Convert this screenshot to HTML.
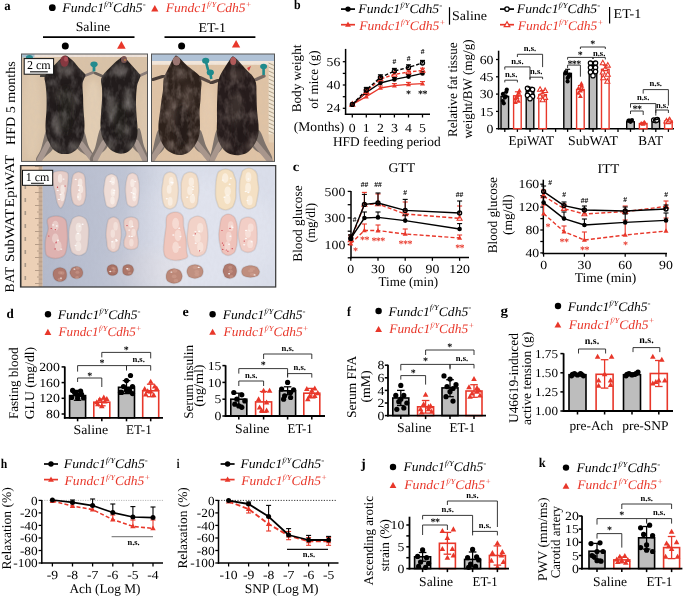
<!DOCTYPE html>
<html><head><meta charset="utf-8"><title>Figure</title>
<style>
html,body{margin:0;padding:0;background:#fff;overflow:hidden;}
svg{display:block;font-family:"Liberation Serif", serif;text-rendering:geometricPrecision;will-change:transform;}
</style></head><body>
<svg width="685" height="597" viewBox="0 0 685 597">
<rect width="685" height="597" fill="#fff"/>
<defs><filter id="bl0" x="-20%" y="-20%" width="140%" height="140%"><feGaussianBlur stdDeviation="0.4"/></filter><filter id="fur" x="0" y="0" width="100%" height="100%"><feTurbulence type="fractalNoise" baseFrequency="0.35 0.2" numOctaves="2" seed="3"/><feColorMatrix type="matrix" values="0 0 0 0 0.55  0 0 0 0 0.52  0 0 0 0 0.5  0 0 0 1.6 -0.55"/></filter><filter id="furg" x="0" y="0" width="100%" height="100%"><feTurbulence type="fractalNoise" baseFrequency="0.16 0.09" numOctaves="3" seed="5"/><feColorMatrix type="matrix" values="0 0 0 0 0.45  0 0 0 0 0.42  0 0 0 0 0.41  0 0 0 2.2 -0.9"/></filter><filter id="furb" x="0" y="0" width="100%" height="100%"><feTurbulence type="fractalNoise" baseFrequency="0.16 0.09" numOctaves="3" seed="9"/><feColorMatrix type="matrix" values="0 0 0 0 0.5  0 0 0 0 0.4  0 0 0 0 0.36  0 0 0 2.2 -0.9"/></filter><linearGradient id="lg3" x1="0" y1="0" x2="1" y2="0"><stop offset="0" stop-color="#1a2850" stop-opacity="0.2"/><stop offset="0.35" stop-color="#1a2850" stop-opacity="0.14"/><stop offset="0.5" stop-color="#1a2850" stop-opacity="0.04"/><stop offset="0.6" stop-color="#1a2850" stop-opacity="0"/></linearGradient><filter id="bl1" x="-20%" y="-20%" width="140%" height="140%"><feGaussianBlur stdDeviation="0.7"/></filter><filter id="bl2" x="-50%" y="-50%" width="200%" height="200%"><feGaussianBlur stdDeviation="2.5"/></filter><filter id="bl3" x="-50%" y="-50%" width="200%" height="200%"><feGaussianBlur stdDeviation="8"/></filter></defs>
<text x="4.32" y="9.90" font-size="13.5" textLength="6.37" lengthAdjust="spacingAndGlyphs" font-weight="bold">a</text>
<circle cx="52.3" cy="7.7" r="3.4" fill="#000"/>
<text x="62.3" y="12.4" font-size="13" font-style="italic" fill="#000" textLength="83.4" lengthAdjust="spacingAndGlyphs">Fundc1<tspan font-size="7.8" dy="-5.2">f/Y</tspan><tspan dy="5.2">Cdh5</tspan><tspan font-size="8.6" dy="-5.2">-</tspan></text>
<polygon points="154.8,5.0 151.2,11.5 158.4,11.5" fill="#e8372a"/>
<text x="165.7" y="12.4" font-size="13" font-style="italic" fill="#e8372a" textLength="85.9" lengthAdjust="spacingAndGlyphs">Fundc1<tspan font-size="7.8" dy="-5.2">f/Y</tspan><tspan dy="5.2">Cdh5</tspan><tspan font-size="8.6" dy="-5.2">+</tspan></text>
<text x="75.70" y="31.40" font-size="13.3" textLength="34.47" lengthAdjust="spacingAndGlyphs">Saline</text>
<text x="198.48" y="32.40" font-size="13.3" textLength="27.43" lengthAdjust="spacingAndGlyphs">ET-1</text>
<line x1="43.0" y1="37.2" x2="134.5" y2="37.2" stroke="#000" stroke-width="1.7"/>
<line x1="164.5" y1="37.2" x2="255.4" y2="37.2" stroke="#000" stroke-width="1.7"/>
<circle cx="65.3" cy="46.0" r="3.5" fill="#000"/>
<polygon points="121.4,41.0 117.1,48.7 125.7,48.7" fill="#e8372a"/>
<circle cx="181.6" cy="46.0" r="3.5" fill="#000"/>
<polygon points="236.1,40.1 231.9,47.6 240.2,47.6" fill="#e8372a"/>
<text x="14.70" y="145.02" font-size="13.3" textLength="83.82" lengthAdjust="spacingAndGlyphs" transform="rotate(-90 14.70 145.02)">HFD 5 months</text>
<text x="14.50" y="207.46" font-size="13.3" textLength="52.67" lengthAdjust="spacingAndGlyphs" transform="rotate(-90 14.50 207.46)">EpiWAT</text>
<text x="14.50" y="261.96" font-size="13.3" textLength="53.20" lengthAdjust="spacingAndGlyphs" transform="rotate(-90 14.50 261.96)">SubWAT</text>
<text x="14.50" y="292.41" font-size="13.3" textLength="25.60" lengthAdjust="spacingAndGlyphs" transform="rotate(-90 14.50 292.41)">BAT</text>
<clipPath id="cp1"><rect x="21.5" y="54" width="126" height="107.4"/></clipPath>
<clipPath id="cp2"><rect x="151.5" y="54" width="123" height="107.4"/></clipPath>
<clipPath id="cp3"><rect x="20.5" y="165.6" width="255.2" height="121.4"/></clipPath>
<g clip-path="url(#cp1)">
<rect x="21.5" y="54.0" width="126.0" height="107.4" fill="#d9c2a7" />
<ellipse cx="93" cy="120" rx="10" ry="40" fill="#e2cdb3" filter="url(#bl2)"/>
<ellipse cx="32" cy="115" rx="9" ry="45" fill="#dfc9ae" filter="url(#bl2)"/>
<ellipse cx="144" cy="120" rx="4" ry="40" fill="#dec8ae" filter="url(#bl2)"/>
<rect x="21.5" y="54.0" width="126.0" height="3.0" fill="#efe4dc" />
<rect x="21.5" y="54.0" width="13.0" height="3.5" fill="#a8c0d0" />
<rect x="21.5" y="54" width="126" height="107.4" filter="url(#fur)" opacity="0.12"/>
<path d="M47.0,130.0 C49.2,129.5 54.3,141.5 54.0,146.0 C53.7,150.5 47.5,154.4 45.0,157.0 C42.5,159.6 40.5,161.2 39.0,161.5 C37.5,161.8 35.7,161.1 36.0,159.0 C36.3,156.9 39.2,153.8 41.0,149.0 C42.8,144.2 44.8,130.5 47.0,130.0 Z" fill="#7e736c" filter="url(#bl1)"/>
<path d="M83.0,130.0 C80.8,129.8 75.3,141.7 76.0,146.0 C76.7,150.3 84.0,153.4 87.0,156.0 C90.0,158.6 92.5,161.2 94.0,161.5 C95.5,161.8 96.8,160.4 96.0,158.0 C95.2,155.6 91.2,151.7 89.0,147.0 C86.8,142.3 85.2,130.2 83.0,130.0 Z" fill="#7e736c" filter="url(#bl1)"/>
<line x1="48" y1="144" x2="39" y2="161" stroke="#a89890" stroke-width="5.5" stroke-linecap="round" filter="url(#bl1)"/>
<line x1="81" y1="144" x2="93" y2="160" stroke="#a89890" stroke-width="5.5" stroke-linecap="round" filter="url(#bl1)"/>
<line x1="65" y1="150" x2="65" y2="162" stroke="#a8968c" stroke-width="3" filter="url(#bl1)"/>
<line x1="84" y1="76" x2="93" y2="72.5" stroke="#8a7d78" stroke-width="2.6" stroke-linecap="round" filter="url(#bl1)"/>
<line x1="46" y1="75.5" x2="41" y2="76.5" stroke="#4a4440" stroke-width="3" stroke-linecap="round" filter="url(#bl1)"/>
<path d="M65.8,55.5 C66.7,55.5 67.5,56.3 68.5,57.0 C69.5,57.7 70.4,58.5 71.5,59.5 C72.6,60.5 73.8,61.6 75.0,63.0 C76.2,64.4 77.7,66.5 79.0,68.0 C80.3,69.5 81.9,70.8 83.0,72.0 C84.1,73.2 85.3,73.8 85.5,75.0 C85.7,76.2 84.5,77.5 84.0,79.0 C83.5,80.5 82.7,81.3 82.5,84.0 C82.3,86.7 82.8,90.7 83.0,95.0 C83.2,99.3 83.2,105.0 83.5,110.0 C83.8,115.0 84.5,120.7 84.5,125.0 C84.5,129.3 84.2,132.8 83.5,136.0 C82.8,139.2 81.2,141.7 80.0,144.0 C78.8,146.3 77.7,148.4 76.0,150.0 C74.3,151.6 71.8,152.8 70.0,153.5 C68.2,154.2 66.7,154.0 65.0,154.0 C63.3,154.0 61.8,154.2 60.0,153.5 C58.2,152.8 55.7,151.6 54.0,150.0 C52.3,148.4 51.2,146.3 50.0,144.0 C48.8,141.7 47.2,139.2 46.5,136.0 C45.8,132.8 45.5,129.3 45.5,125.0 C45.5,120.7 46.3,115.0 46.5,110.0 C46.7,105.0 46.7,99.3 46.5,95.0 C46.3,90.7 45.8,86.8 45.5,84.0 C45.2,81.2 44.4,79.7 44.5,78.0 C44.6,76.3 45.2,75.2 46.0,74.0 C46.8,72.8 47.8,71.8 49.0,70.5 C50.2,69.2 51.7,67.8 53.0,66.5 C54.3,65.2 55.8,63.8 57.0,62.5 C58.2,61.2 59.5,59.9 60.5,59.0 C61.5,58.1 62.1,57.6 63.0,57.0 C63.9,56.4 64.9,55.5 65.8,55.5 Z" fill="#221d1b" filter="url(#bl1)"/>
<clipPath id="mc36"><path d="M65.8,55.5 C66.7,55.5 67.5,56.3 68.5,57.0 C69.5,57.7 70.4,58.5 71.5,59.5 C72.6,60.5 73.8,61.6 75.0,63.0 C76.2,64.4 77.7,66.5 79.0,68.0 C80.3,69.5 81.9,70.8 83.0,72.0 C84.1,73.2 85.3,73.8 85.5,75.0 C85.7,76.2 84.5,77.5 84.0,79.0 C83.5,80.5 82.7,81.3 82.5,84.0 C82.3,86.7 82.8,90.7 83.0,95.0 C83.2,99.3 83.2,105.0 83.5,110.0 C83.8,115.0 84.5,120.7 84.5,125.0 C84.5,129.3 84.2,132.8 83.5,136.0 C82.8,139.2 81.2,141.7 80.0,144.0 C78.8,146.3 77.7,148.4 76.0,150.0 C74.3,151.6 71.8,152.8 70.0,153.5 C68.2,154.2 66.7,154.0 65.0,154.0 C63.3,154.0 61.8,154.2 60.0,153.5 C58.2,152.8 55.7,151.6 54.0,150.0 C52.3,148.4 51.2,146.3 50.0,144.0 C48.8,141.7 47.2,139.2 46.5,136.0 C45.8,132.8 45.5,129.3 45.5,125.0 C45.5,120.7 46.3,115.0 46.5,110.0 C46.7,105.0 46.7,99.3 46.5,95.0 C46.3,90.7 45.8,86.8 45.5,84.0 C45.2,81.2 44.4,79.7 44.5,78.0 C44.6,76.3 45.2,75.2 46.0,74.0 C46.8,72.8 47.8,71.8 49.0,70.5 C50.2,69.2 51.7,67.8 53.0,66.5 C54.3,65.2 55.8,63.8 57.0,62.5 C58.2,61.2 59.5,59.9 60.5,59.0 C61.5,58.1 62.1,57.6 63.0,57.0 C63.9,56.4 64.9,55.5 65.8,55.5 Z"/></clipPath><g clip-path="url(#mc36)">
<ellipse cx="58" cy="125" rx="5" ry="10" fill="#8a8480" opacity="0.6" filter="url(#bl2)"/>
<ellipse cx="66" cy="70" rx="9" ry="6" fill="#6a6460" opacity="0.6" filter="url(#bl2)"/>
<ellipse cx="72" cy="100" rx="5" ry="9" fill="#6a6460" opacity="0.5" filter="url(#bl2)"/>
<ellipse cx="60" cy="95" rx="6" ry="6" fill="#5a5450" opacity="0.5" filter="url(#bl2)"/>
<ellipse cx="55" cy="146" rx="5" ry="4" fill="#7a746e" opacity="0.6" filter="url(#bl2)"/>
<ellipse cx="76" cy="146" rx="5" ry="4" fill="#7a746e" opacity="0.6" filter="url(#bl2)"/>
<ellipse cx="66" cy="110" rx="8" ry="25" fill="#1e1a18" opacity="0.5" filter="url(#bl2)"/>
<rect x="0" y="0" width="300" height="170" filter="url(#furg)" opacity="0.3"/>
</g>
<path d="M101.0,128.0 C103.2,127.5 108.5,140.3 108.0,145.0 C107.5,149.7 100.7,153.2 98.0,156.0 C95.3,158.8 93.3,161.2 92.0,161.5 C90.7,161.8 89.5,160.2 90.0,158.0 C90.5,155.8 93.2,153.0 95.0,148.0 C96.8,143.0 98.8,128.5 101.0,128.0 Z" fill="#7e736c" filter="url(#bl1)"/>
<path d="M139.0,128.0 C137.0,127.8 131.5,140.3 132.0,145.0 C132.5,149.7 139.5,153.2 142.0,156.0 C144.5,158.8 145.8,161.2 147.0,161.5 C148.2,161.8 149.5,160.6 149.0,158.0 C148.5,155.4 145.7,151.0 144.0,146.0 C142.3,141.0 141.0,128.2 139.0,128.0 Z" fill="#7e736c" filter="url(#bl1)"/>
<line x1="104" y1="143" x2="95" y2="160" stroke="#a89890" stroke-width="5.5" stroke-linecap="round" filter="url(#bl1)"/>
<line x1="136" y1="142" x2="145" y2="160" stroke="#a89890" stroke-width="5.5" stroke-linecap="round" filter="url(#bl1)"/>
<line x1="121" y1="150" x2="121" y2="162" stroke="#a8968c" stroke-width="3" filter="url(#bl1)"/>
<line x1="139" y1="76" x2="148" y2="72" stroke="#8a7d78" stroke-width="2.6" stroke-linecap="round" filter="url(#bl1)"/>
<line x1="102" y1="76" x2="95" y2="73" stroke="#6a605a" stroke-width="2.6" stroke-linecap="round" filter="url(#bl1)"/>
<path d="M123.0,57.0 C123.8,57.1 124.6,57.8 125.5,58.5 C126.4,59.2 127.4,60.3 128.5,61.5 C129.6,62.7 130.8,64.1 132.0,65.5 C133.2,66.9 134.8,68.6 136.0,70.0 C137.2,71.4 138.8,73.0 139.5,74.0 C140.2,75.0 140.6,75.0 140.5,76.0 C140.4,77.0 139.6,78.3 139.0,80.0 C138.4,81.7 137.5,82.7 137.0,86.0 C136.5,89.3 136.1,95.2 136.0,100.0 C135.9,104.8 136.2,110.3 136.5,115.0 C136.8,119.7 137.4,124.3 137.5,128.0 C137.6,131.7 137.6,134.2 137.0,137.0 C136.4,139.8 135.3,142.7 134.0,145.0 C132.7,147.3 130.8,149.6 129.0,151.0 C127.2,152.4 125.0,153.2 123.0,153.5 C121.0,153.8 119.0,153.6 117.0,153.0 C115.0,152.4 112.8,151.5 111.0,150.0 C109.2,148.5 107.5,146.3 106.0,144.0 C104.5,141.7 102.9,139.0 102.0,136.0 C101.1,133.0 100.7,129.7 100.5,126.0 C100.3,122.3 100.8,118.3 101.0,114.0 C101.2,109.7 101.8,104.3 102.0,100.0 C102.2,95.7 102.2,91.3 102.0,88.0 C101.8,84.7 100.8,82.2 101.0,80.0 C101.2,77.8 102.1,76.5 103.0,75.0 C103.9,73.5 105.2,72.3 106.5,71.0 C107.8,69.7 109.2,68.3 110.5,67.0 C111.8,65.7 113.2,64.2 114.5,63.0 C115.8,61.8 117.0,60.8 118.0,60.0 C119.0,59.2 119.7,58.5 120.5,58.0 C121.3,57.5 122.2,56.9 123.0,57.0 Z" fill="#241e1c" filter="url(#bl1)"/>
<clipPath id="mc54"><path d="M123.0,57.0 C123.8,57.1 124.6,57.8 125.5,58.5 C126.4,59.2 127.4,60.3 128.5,61.5 C129.6,62.7 130.8,64.1 132.0,65.5 C133.2,66.9 134.8,68.6 136.0,70.0 C137.2,71.4 138.8,73.0 139.5,74.0 C140.2,75.0 140.6,75.0 140.5,76.0 C140.4,77.0 139.6,78.3 139.0,80.0 C138.4,81.7 137.5,82.7 137.0,86.0 C136.5,89.3 136.1,95.2 136.0,100.0 C135.9,104.8 136.2,110.3 136.5,115.0 C136.8,119.7 137.4,124.3 137.5,128.0 C137.6,131.7 137.6,134.2 137.0,137.0 C136.4,139.8 135.3,142.7 134.0,145.0 C132.7,147.3 130.8,149.6 129.0,151.0 C127.2,152.4 125.0,153.2 123.0,153.5 C121.0,153.8 119.0,153.6 117.0,153.0 C115.0,152.4 112.8,151.5 111.0,150.0 C109.2,148.5 107.5,146.3 106.0,144.0 C104.5,141.7 102.9,139.0 102.0,136.0 C101.1,133.0 100.7,129.7 100.5,126.0 C100.3,122.3 100.8,118.3 101.0,114.0 C101.2,109.7 101.8,104.3 102.0,100.0 C102.2,95.7 102.2,91.3 102.0,88.0 C101.8,84.7 100.8,82.2 101.0,80.0 C101.2,77.8 102.1,76.5 103.0,75.0 C103.9,73.5 105.2,72.3 106.5,71.0 C107.8,69.7 109.2,68.3 110.5,67.0 C111.8,65.7 113.2,64.2 114.5,63.0 C115.8,61.8 117.0,60.8 118.0,60.0 C119.0,59.2 119.7,58.5 120.5,58.0 C121.3,57.5 122.2,56.9 123.0,57.0 Z"/></clipPath><g clip-path="url(#mc54)">
<ellipse cx="112" cy="110" rx="4" ry="14" fill="#8a8580" opacity="0.6" filter="url(#bl2)"/>
<ellipse cx="128" cy="100" rx="4" ry="12" fill="#8a8580" opacity="0.55" filter="url(#bl2)"/>
<ellipse cx="120" cy="70" rx="8" ry="6" fill="#6a6460" opacity="0.6" filter="url(#bl2)"/>
<ellipse cx="125" cy="130" rx="5" ry="6" fill="#7a7470" opacity="0.5" filter="url(#bl2)"/>
<ellipse cx="110" cy="146" rx="5" ry="4" fill="#7a746e" opacity="0.6" filter="url(#bl2)"/>
<ellipse cx="131" cy="146" rx="5" ry="4" fill="#7a746e" opacity="0.6" filter="url(#bl2)"/>
<ellipse cx="120" cy="120" rx="7" ry="20" fill="#1e1a18" opacity="0.45" filter="url(#bl2)"/>
<rect x="0" y="0" width="300" height="170" filter="url(#furg)" opacity="0.33"/>
</g>
<ellipse cx="64.5" cy="61.2" rx="4.2" ry="5.6" fill="#86393f" filter="url(#bl1)"/><ellipse cx="66" cy="59" rx="2" ry="2.5" fill="#b05058" filter="url(#bl1)"/>
<ellipse cx="124" cy="59.5" rx="3" ry="3.5" fill="#7a5452" filter="url(#bl1)"/><ellipse cx="125" cy="60" rx="0.9" ry="1" fill="#c08040"/>
<ellipse cx="94" cy="64.2" rx="3.6" ry="2.8" fill="#238a8e"/><rect x="92.6" y="64.5" width="2.8" height="7" fill="#238a8e"/>
<ellipse cx="29.4" cy="57.6" rx="3.5" ry="2.5" fill="#2a8a90"/>
</g>
<rect x="21.5" y="54.0" width="126.0" height="107.4" fill="none" stroke="#555" stroke-width="1" />
<rect x="24.2" y="58.6" width="29.4" height="15.6" fill="#fff" stroke="#111" stroke-width="1" />
<text x="38.8" y="69.2" font-size="12" text-anchor="middle">2 cm</text>
<line x1="30.0" y1="71.8" x2="47.8" y2="71.8" stroke="#222" stroke-width="1.2"/>
<g clip-path="url(#cp2)">
<rect x="151.5" y="54.0" width="123.0" height="107.4" fill="#dfc3a5" />
<rect x="151.5" y="54.0" width="123.0" height="7.2" fill="#b0c2d6" />
<rect x="151.5" y="61.0" width="123.0" height="3.8" fill="#f2e6da" />
<ellipse cx="208" cy="125" rx="8" ry="40" fill="#e5caad" filter="url(#bl2)"/>
<rect x="151.5" y="63" width="123" height="98" filter="url(#fur)" opacity="0.12"/>
<rect x="268.6" y="62.5" width="5.5" height="72.0" fill="#efe4d2" />
<rect x="268.6" y="134.5" width="5.5" height="8.0" fill="#e6d4bc" opacity="0.7"/>
<line x1="268.6" y1="63.0" x2="274.1" y2="65.5" stroke="#a89880" stroke-width="0.9"/>
<line x1="268.6" y1="67.0" x2="274.1" y2="69.5" stroke="#a89880" stroke-width="0.9"/>
<line x1="268.6" y1="71.0" x2="274.1" y2="73.5" stroke="#a89880" stroke-width="0.9"/>
<line x1="268.6" y1="75.0" x2="274.1" y2="77.5" stroke="#a89880" stroke-width="0.9"/>
<line x1="268.6" y1="79.0" x2="274.1" y2="81.5" stroke="#a89880" stroke-width="0.9"/>
<line x1="268.6" y1="83.0" x2="274.1" y2="85.5" stroke="#a89880" stroke-width="0.9"/>
<line x1="268.6" y1="87.0" x2="274.1" y2="89.5" stroke="#a89880" stroke-width="0.9"/>
<line x1="268.6" y1="91.0" x2="274.1" y2="93.5" stroke="#a89880" stroke-width="0.9"/>
<line x1="268.6" y1="95.0" x2="274.1" y2="97.5" stroke="#a89880" stroke-width="0.9"/>
<line x1="268.6" y1="99.0" x2="274.1" y2="101.5" stroke="#a89880" stroke-width="0.9"/>
<line x1="268.6" y1="103.0" x2="274.1" y2="105.5" stroke="#a89880" stroke-width="0.9"/>
<line x1="268.6" y1="107.0" x2="274.1" y2="109.5" stroke="#a89880" stroke-width="0.9"/>
<line x1="268.6" y1="111.0" x2="274.1" y2="113.5" stroke="#a89880" stroke-width="0.9"/>
<line x1="268.6" y1="115.0" x2="274.1" y2="117.5" stroke="#a89880" stroke-width="0.9"/>
<line x1="268.6" y1="119.0" x2="274.1" y2="121.5" stroke="#a89880" stroke-width="0.9"/>
<line x1="268.6" y1="123.0" x2="274.1" y2="125.5" stroke="#a89880" stroke-width="0.9"/>
<line x1="268.6" y1="127.0" x2="274.1" y2="129.5" stroke="#a89880" stroke-width="0.9"/>
<line x1="268.6" y1="131.0" x2="274.1" y2="133.5" stroke="#a89880" stroke-width="0.9"/>
<path d="M158.5,130.0 C160.5,129.5 165.4,141.5 165.0,146.0 C164.6,150.5 158.3,154.4 156.0,157.0 C153.7,159.6 151.8,161.3 151.0,161.5 C150.2,161.7 150.7,160.1 151.0,158.0 C151.3,155.9 151.8,153.7 153.0,149.0 C154.2,144.3 156.5,130.5 158.5,130.0 Z" fill="#7e736c" filter="url(#bl1)"/>
<path d="M200.0,130.0 C198.0,130.0 193.2,141.7 194.0,146.0 C194.8,150.3 202.2,153.5 205.0,156.0 C207.8,158.5 209.8,160.8 211.0,161.0 C212.2,161.2 212.8,159.5 212.0,157.0 C211.2,154.5 208.0,150.5 206.0,146.0 C204.0,141.5 202.0,130.0 200.0,130.0 Z" fill="#7e736c" filter="url(#bl1)"/>
<line x1="162" y1="144" x2="152" y2="160" stroke="#a8968c" stroke-width="5.5" stroke-linecap="round" filter="url(#bl1)"/>
<line x1="197" y1="144" x2="209" y2="159" stroke="#a8968c" stroke-width="5.5" stroke-linecap="round" filter="url(#bl1)"/>
<line x1="180" y1="152" x2="180" y2="162" stroke="#a8968c" stroke-width="3" filter="url(#bl1)"/>
<line x1="164" y1="76" x2="153" y2="79.6" stroke="#4a3e38" stroke-width="3.2" stroke-linecap="round" filter="url(#bl1)"/>
<line x1="199" y1="77" x2="209" y2="81.6" stroke="#5a4c44" stroke-width="3.2" stroke-linecap="round" filter="url(#bl1)"/>
<path d="M176.0,55.5 C176.8,55.6 177.9,56.6 179.0,57.5 C180.1,58.4 181.2,59.7 182.5,61.0 C183.8,62.3 185.4,64.1 187.0,65.5 C188.6,66.9 190.4,68.2 192.0,69.5 C193.6,70.8 195.2,71.8 196.5,73.0 C197.8,74.2 199.2,75.0 200.0,76.5 C200.8,78.0 201.3,79.8 201.5,82.0 C201.7,84.2 201.2,87.0 201.0,90.0 C200.8,93.0 200.8,96.3 200.5,100.0 C200.2,103.7 199.6,107.8 199.5,112.0 C199.4,116.2 200.1,121.0 200.0,125.0 C199.9,129.0 199.8,132.7 199.0,136.0 C198.2,139.3 196.7,142.3 195.0,145.0 C193.3,147.7 191.3,150.3 189.0,152.0 C186.7,153.7 183.5,154.7 181.0,155.0 C178.5,155.3 176.3,154.8 174.0,154.0 C171.7,153.2 169.0,151.8 167.0,150.0 C165.0,148.2 163.3,145.7 162.0,143.0 C160.7,140.3 159.6,137.2 159.0,134.0 C158.4,130.8 158.3,127.7 158.5,124.0 C158.7,120.3 159.5,116.0 160.0,112.0 C160.5,108.0 161.0,103.7 161.5,100.0 C162.0,96.3 162.7,93.3 163.0,90.0 C163.3,86.7 163.2,82.5 163.5,80.0 C163.8,77.5 164.3,76.7 165.0,75.0 C165.7,73.3 166.7,71.7 167.5,70.0 C168.3,68.3 169.2,66.7 170.0,65.0 C170.8,63.3 171.8,61.3 172.5,60.0 C173.2,58.7 173.9,57.8 174.5,57.0 C175.1,56.2 175.2,55.4 176.0,55.5 Z" fill="#2e241f" filter="url(#bl1)"/>
<clipPath id="mc107"><path d="M176.0,55.5 C176.8,55.6 177.9,56.6 179.0,57.5 C180.1,58.4 181.2,59.7 182.5,61.0 C183.8,62.3 185.4,64.1 187.0,65.5 C188.6,66.9 190.4,68.2 192.0,69.5 C193.6,70.8 195.2,71.8 196.5,73.0 C197.8,74.2 199.2,75.0 200.0,76.5 C200.8,78.0 201.3,79.8 201.5,82.0 C201.7,84.2 201.2,87.0 201.0,90.0 C200.8,93.0 200.8,96.3 200.5,100.0 C200.2,103.7 199.6,107.8 199.5,112.0 C199.4,116.2 200.1,121.0 200.0,125.0 C199.9,129.0 199.8,132.7 199.0,136.0 C198.2,139.3 196.7,142.3 195.0,145.0 C193.3,147.7 191.3,150.3 189.0,152.0 C186.7,153.7 183.5,154.7 181.0,155.0 C178.5,155.3 176.3,154.8 174.0,154.0 C171.7,153.2 169.0,151.8 167.0,150.0 C165.0,148.2 163.3,145.7 162.0,143.0 C160.7,140.3 159.6,137.2 159.0,134.0 C158.4,130.8 158.3,127.7 158.5,124.0 C158.7,120.3 159.5,116.0 160.0,112.0 C160.5,108.0 161.0,103.7 161.5,100.0 C162.0,96.3 162.7,93.3 163.0,90.0 C163.3,86.7 163.2,82.5 163.5,80.0 C163.8,77.5 164.3,76.7 165.0,75.0 C165.7,73.3 166.7,71.7 167.5,70.0 C168.3,68.3 169.2,66.7 170.0,65.0 C170.8,63.3 171.8,61.3 172.5,60.0 C173.2,58.7 173.9,57.8 174.5,57.0 C175.1,56.2 175.2,55.4 176.0,55.5 Z"/></clipPath><g clip-path="url(#mc107)">
<ellipse cx="172" cy="112" rx="5" ry="16" fill="#6a5a52" opacity="0.55" filter="url(#bl2)"/>
<ellipse cx="188" cy="98" rx="5" ry="14" fill="#6a5a52" opacity="0.45" filter="url(#bl2)"/>
<ellipse cx="180" cy="75" rx="8" ry="6" fill="#5a4c44" opacity="0.5" filter="url(#bl2)"/>
<ellipse cx="170" cy="146" rx="5" ry="4" fill="#7a6a62" opacity="0.6" filter="url(#bl2)"/>
<ellipse cx="192" cy="146" rx="5" ry="4" fill="#7a6a62" opacity="0.6" filter="url(#bl2)"/>
<ellipse cx="182" cy="125" rx="8" ry="22" fill="#1c1614" opacity="0.45" filter="url(#bl2)"/>
<rect x="0" y="0" width="300" height="170" filter="url(#furb)" opacity="0.42"/>
</g>
<path d="M217.0,130.0 C218.8,129.5 223.5,141.5 223.0,146.0 C222.5,150.5 216.2,154.4 214.0,157.0 C211.8,159.6 210.7,161.3 210.0,161.5 C209.3,161.7 209.7,160.1 210.0,158.0 C210.3,155.9 210.8,153.7 212.0,149.0 C213.2,144.3 215.2,130.5 217.0,130.0 Z" fill="#7e736c" filter="url(#bl1)"/>
<path d="M258.5,130.0 C256.2,130.2 250.9,141.7 252.0,146.0 C253.1,150.3 261.8,153.5 265.0,156.0 C268.2,158.5 269.8,160.8 271.0,161.0 C272.2,161.2 272.8,159.7 272.0,157.0 C271.2,154.3 268.2,149.5 266.0,145.0 C263.8,140.5 260.8,129.8 258.5,130.0 Z" fill="#7e736c" filter="url(#bl1)"/>
<line x1="220" y1="144" x2="212" y2="160" stroke="#a8968c" stroke-width="5.5" stroke-linecap="round" filter="url(#bl1)"/>
<line x1="256" y1="144" x2="270" y2="161" stroke="#a8968c" stroke-width="5.5" stroke-linecap="round" filter="url(#bl1)"/>
<line x1="237" y1="152" x2="237" y2="162" stroke="#a8968c" stroke-width="3" filter="url(#bl1)"/>
<line x1="219" y1="80" x2="211" y2="83" stroke="#4a3e38" stroke-width="3.2" stroke-linecap="round" filter="url(#bl1)"/>
<line x1="255" y1="80" x2="264" y2="76" stroke="#7a6a62" stroke-width="3.2" stroke-linecap="round" filter="url(#bl1)"/>
<path d="M232.8,56.5 C233.6,56.5 234.5,57.2 235.5,58.0 C236.5,58.8 237.8,60.2 239.0,61.5 C240.2,62.8 241.6,64.4 243.0,66.0 C244.4,67.6 245.9,69.3 247.5,71.0 C249.1,72.7 251.1,74.0 252.5,76.0 C253.9,78.0 255.3,79.8 256.0,83.0 C256.7,86.2 256.3,90.5 256.5,95.0 C256.7,99.5 256.7,105.0 257.0,110.0 C257.3,115.0 258.3,120.7 258.5,125.0 C258.7,129.3 258.8,132.7 258.0,136.0 C257.2,139.3 255.7,142.3 254.0,145.0 C252.3,147.7 250.3,150.3 248.0,152.0 C245.7,153.7 242.7,154.6 240.0,155.0 C237.3,155.4 234.5,155.2 232.0,154.5 C229.5,153.8 227.0,152.8 225.0,151.0 C223.0,149.2 221.3,146.8 220.0,144.0 C218.7,141.2 217.5,138.0 217.0,134.0 C216.5,130.0 217.0,124.8 217.0,120.0 C217.0,115.2 216.9,109.7 217.0,105.0 C217.1,100.3 217.3,95.7 217.5,92.0 C217.7,88.3 217.7,85.5 218.0,83.0 C218.3,80.5 218.8,79.0 219.5,77.0 C220.2,75.0 221.4,72.9 222.5,71.0 C223.6,69.1 224.9,67.2 226.0,65.5 C227.1,63.8 228.2,62.2 229.0,61.0 C229.8,59.8 230.4,58.8 231.0,58.0 C231.6,57.2 232.1,56.5 232.8,56.5 Z" fill="#261d1a" filter="url(#bl1)"/>
<clipPath id="mc124"><path d="M232.8,56.5 C233.6,56.5 234.5,57.2 235.5,58.0 C236.5,58.8 237.8,60.2 239.0,61.5 C240.2,62.8 241.6,64.4 243.0,66.0 C244.4,67.6 245.9,69.3 247.5,71.0 C249.1,72.7 251.1,74.0 252.5,76.0 C253.9,78.0 255.3,79.8 256.0,83.0 C256.7,86.2 256.3,90.5 256.5,95.0 C256.7,99.5 256.7,105.0 257.0,110.0 C257.3,115.0 258.3,120.7 258.5,125.0 C258.7,129.3 258.8,132.7 258.0,136.0 C257.2,139.3 255.7,142.3 254.0,145.0 C252.3,147.7 250.3,150.3 248.0,152.0 C245.7,153.7 242.7,154.6 240.0,155.0 C237.3,155.4 234.5,155.2 232.0,154.5 C229.5,153.8 227.0,152.8 225.0,151.0 C223.0,149.2 221.3,146.8 220.0,144.0 C218.7,141.2 217.5,138.0 217.0,134.0 C216.5,130.0 217.0,124.8 217.0,120.0 C217.0,115.2 216.9,109.7 217.0,105.0 C217.1,100.3 217.3,95.7 217.5,92.0 C217.7,88.3 217.7,85.5 218.0,83.0 C218.3,80.5 218.8,79.0 219.5,77.0 C220.2,75.0 221.4,72.9 222.5,71.0 C223.6,69.1 224.9,67.2 226.0,65.5 C227.1,63.8 228.2,62.2 229.0,61.0 C229.8,59.8 230.4,58.8 231.0,58.0 C231.6,57.2 232.1,56.5 232.8,56.5 Z"/></clipPath><g clip-path="url(#mc124)">
<ellipse cx="236" cy="110" rx="7" ry="18" fill="#4e423c" opacity="0.55" filter="url(#bl2)"/>
<ellipse cx="236" cy="75" rx="8" ry="6" fill="#5a4c44" opacity="0.5" filter="url(#bl2)"/>
<ellipse cx="226" cy="146" rx="5" ry="4" fill="#7a6a62" opacity="0.6" filter="url(#bl2)"/>
<ellipse cx="250" cy="146" rx="5" ry="4" fill="#7a6a62" opacity="0.6" filter="url(#bl2)"/>
<ellipse cx="240" cy="130" rx="8" ry="18" fill="#1c1614" opacity="0.4" filter="url(#bl2)"/>
<rect x="0" y="0" width="300" height="170" filter="url(#furb)" opacity="0.3"/>
</g>
<ellipse cx="233.2" cy="61" rx="3" ry="4" fill="#b05a5a" filter="url(#bl1)"/>
<ellipse cx="176.5" cy="61" rx="3.8" ry="4.5" fill="#9a7672" filter="url(#bl1)"/>
<line x1="205.7" y1="61" x2="208.2" y2="70.4" stroke="#1e8a8c" stroke-width="2.6"/><ellipse cx="205.7" cy="60.7" rx="3.6" ry="3" fill="#1e8a8c"/>
<line x1="210.3" y1="73" x2="211.3" y2="79" stroke="#1e8a8c" stroke-width="2.6"/><ellipse cx="210.3" cy="72.4" rx="3.6" ry="3" fill="#1e8a8c"/>
<line x1="263.6" y1="67" x2="263.6" y2="75" stroke="#1e8a8c" stroke-width="2.6"/><ellipse cx="263.6" cy="66.5" rx="3.4" ry="2.8" fill="#1e8a8c"/>
<polygon points="247,68 251,66 249,71" fill="#d04040"/>
</g>
<rect x="151.5" y="54.0" width="123.0" height="107.4" fill="none" stroke="#555" stroke-width="1" />
<g clip-path="url(#cp3)">
<rect x="20.5" y="165.6" width="255.2" height="121.4" fill="#dadeea" />
<ellipse cx="200" cy="235" rx="80" ry="55" fill="#e0e3ee" filter="url(#bl3)"/>
<ellipse cx="150" cy="270" rx="40" ry="20" fill="#e4e4ec" filter="url(#bl3)"/>
<rect x="20.5" y="165.6" width="255.2" height="121.4" filter="url(#fur)" opacity="0.05"/>
<rect x="42.5" y="165.6" width="233.2" height="121.4" fill="url(#lg3)"/>
<rect x="20.5" y="165.6" width="22.0" height="121.4" fill="#ecd0b6" />
<rect x="20.5" y="165.6" width="1.5" height="121.4" fill="#9a8a7a" />
<line x1="35.0" y1="166.5" x2="42.5" y2="166.5" stroke="#8a7262" stroke-width="0.55"/>
<line x1="38.7" y1="167.8" x2="42.5" y2="167.8" stroke="#8a7262" stroke-width="0.55"/>
<line x1="38.7" y1="169.1" x2="42.5" y2="169.1" stroke="#8a7262" stroke-width="0.55"/>
<line x1="38.7" y1="170.4" x2="42.5" y2="170.4" stroke="#8a7262" stroke-width="0.55"/>
<line x1="38.7" y1="171.7" x2="42.5" y2="171.7" stroke="#8a7262" stroke-width="0.55"/>
<line x1="37.0" y1="173.0" x2="42.5" y2="173.0" stroke="#8a7262" stroke-width="0.55"/>
<line x1="38.7" y1="174.3" x2="42.5" y2="174.3" stroke="#8a7262" stroke-width="0.55"/>
<line x1="38.7" y1="175.6" x2="42.5" y2="175.6" stroke="#8a7262" stroke-width="0.55"/>
<line x1="38.7" y1="176.9" x2="42.5" y2="176.9" stroke="#8a7262" stroke-width="0.55"/>
<line x1="38.7" y1="178.2" x2="42.5" y2="178.2" stroke="#8a7262" stroke-width="0.55"/>
<line x1="35.0" y1="179.5" x2="42.5" y2="179.5" stroke="#8a7262" stroke-width="0.55"/>
<line x1="38.7" y1="180.8" x2="42.5" y2="180.8" stroke="#8a7262" stroke-width="0.55"/>
<line x1="38.7" y1="182.1" x2="42.5" y2="182.1" stroke="#8a7262" stroke-width="0.55"/>
<line x1="38.7" y1="183.4" x2="42.5" y2="183.4" stroke="#8a7262" stroke-width="0.55"/>
<line x1="38.7" y1="184.7" x2="42.5" y2="184.7" stroke="#8a7262" stroke-width="0.55"/>
<line x1="37.0" y1="186.0" x2="42.5" y2="186.0" stroke="#8a7262" stroke-width="0.55"/>
<line x1="38.7" y1="187.3" x2="42.5" y2="187.3" stroke="#8a7262" stroke-width="0.55"/>
<line x1="38.7" y1="188.6" x2="42.5" y2="188.6" stroke="#8a7262" stroke-width="0.55"/>
<line x1="38.7" y1="189.9" x2="42.5" y2="189.9" stroke="#8a7262" stroke-width="0.55"/>
<line x1="38.7" y1="191.2" x2="42.5" y2="191.2" stroke="#8a7262" stroke-width="0.55"/>
<line x1="35.0" y1="192.5" x2="42.5" y2="192.5" stroke="#8a7262" stroke-width="0.55"/>
<line x1="38.7" y1="193.8" x2="42.5" y2="193.8" stroke="#8a7262" stroke-width="0.55"/>
<line x1="38.7" y1="195.1" x2="42.5" y2="195.1" stroke="#8a7262" stroke-width="0.55"/>
<line x1="38.7" y1="196.4" x2="42.5" y2="196.4" stroke="#8a7262" stroke-width="0.55"/>
<line x1="38.7" y1="197.7" x2="42.5" y2="197.7" stroke="#8a7262" stroke-width="0.55"/>
<line x1="37.0" y1="199.0" x2="42.5" y2="199.0" stroke="#8a7262" stroke-width="0.55"/>
<line x1="38.7" y1="200.3" x2="42.5" y2="200.3" stroke="#8a7262" stroke-width="0.55"/>
<line x1="38.7" y1="201.6" x2="42.5" y2="201.6" stroke="#8a7262" stroke-width="0.55"/>
<line x1="38.7" y1="202.9" x2="42.5" y2="202.9" stroke="#8a7262" stroke-width="0.55"/>
<line x1="38.7" y1="204.2" x2="42.5" y2="204.2" stroke="#8a7262" stroke-width="0.55"/>
<line x1="35.0" y1="205.5" x2="42.5" y2="205.5" stroke="#8a7262" stroke-width="0.55"/>
<line x1="38.7" y1="206.8" x2="42.5" y2="206.8" stroke="#8a7262" stroke-width="0.55"/>
<line x1="38.7" y1="208.1" x2="42.5" y2="208.1" stroke="#8a7262" stroke-width="0.55"/>
<line x1="38.7" y1="209.4" x2="42.5" y2="209.4" stroke="#8a7262" stroke-width="0.55"/>
<line x1="38.7" y1="210.7" x2="42.5" y2="210.7" stroke="#8a7262" stroke-width="0.55"/>
<line x1="37.0" y1="212.0" x2="42.5" y2="212.0" stroke="#8a7262" stroke-width="0.55"/>
<line x1="38.7" y1="213.3" x2="42.5" y2="213.3" stroke="#8a7262" stroke-width="0.55"/>
<line x1="38.7" y1="214.6" x2="42.5" y2="214.6" stroke="#8a7262" stroke-width="0.55"/>
<line x1="38.7" y1="215.9" x2="42.5" y2="215.9" stroke="#8a7262" stroke-width="0.55"/>
<line x1="38.7" y1="217.2" x2="42.5" y2="217.2" stroke="#8a7262" stroke-width="0.55"/>
<line x1="35.0" y1="218.5" x2="42.5" y2="218.5" stroke="#8a7262" stroke-width="0.55"/>
<line x1="38.7" y1="219.8" x2="42.5" y2="219.8" stroke="#8a7262" stroke-width="0.55"/>
<line x1="38.7" y1="221.1" x2="42.5" y2="221.1" stroke="#8a7262" stroke-width="0.55"/>
<line x1="38.7" y1="222.4" x2="42.5" y2="222.4" stroke="#8a7262" stroke-width="0.55"/>
<line x1="38.7" y1="223.7" x2="42.5" y2="223.7" stroke="#8a7262" stroke-width="0.55"/>
<line x1="37.0" y1="225.0" x2="42.5" y2="225.0" stroke="#8a7262" stroke-width="0.55"/>
<line x1="38.7" y1="226.3" x2="42.5" y2="226.3" stroke="#8a7262" stroke-width="0.55"/>
<line x1="38.7" y1="227.6" x2="42.5" y2="227.6" stroke="#8a7262" stroke-width="0.55"/>
<line x1="38.7" y1="228.9" x2="42.5" y2="228.9" stroke="#8a7262" stroke-width="0.55"/>
<line x1="38.7" y1="230.2" x2="42.5" y2="230.2" stroke="#8a7262" stroke-width="0.55"/>
<line x1="35.0" y1="231.5" x2="42.5" y2="231.5" stroke="#8a7262" stroke-width="0.55"/>
<line x1="38.7" y1="232.8" x2="42.5" y2="232.8" stroke="#8a7262" stroke-width="0.55"/>
<line x1="38.7" y1="234.1" x2="42.5" y2="234.1" stroke="#8a7262" stroke-width="0.55"/>
<line x1="38.7" y1="235.4" x2="42.5" y2="235.4" stroke="#8a7262" stroke-width="0.55"/>
<line x1="38.7" y1="236.7" x2="42.5" y2="236.7" stroke="#8a7262" stroke-width="0.55"/>
<line x1="37.0" y1="238.0" x2="42.5" y2="238.0" stroke="#8a7262" stroke-width="0.55"/>
<line x1="38.7" y1="239.3" x2="42.5" y2="239.3" stroke="#8a7262" stroke-width="0.55"/>
<line x1="38.7" y1="240.6" x2="42.5" y2="240.6" stroke="#8a7262" stroke-width="0.55"/>
<line x1="38.7" y1="241.9" x2="42.5" y2="241.9" stroke="#8a7262" stroke-width="0.55"/>
<line x1="38.7" y1="243.2" x2="42.5" y2="243.2" stroke="#8a7262" stroke-width="0.55"/>
<line x1="35.0" y1="244.5" x2="42.5" y2="244.5" stroke="#8a7262" stroke-width="0.55"/>
<line x1="38.7" y1="245.8" x2="42.5" y2="245.8" stroke="#8a7262" stroke-width="0.55"/>
<line x1="38.7" y1="247.1" x2="42.5" y2="247.1" stroke="#8a7262" stroke-width="0.55"/>
<line x1="38.7" y1="248.4" x2="42.5" y2="248.4" stroke="#8a7262" stroke-width="0.55"/>
<line x1="38.7" y1="249.7" x2="42.5" y2="249.7" stroke="#8a7262" stroke-width="0.55"/>
<line x1="37.0" y1="251.0" x2="42.5" y2="251.0" stroke="#8a7262" stroke-width="0.55"/>
<line x1="38.7" y1="252.3" x2="42.5" y2="252.3" stroke="#8a7262" stroke-width="0.55"/>
<line x1="38.7" y1="253.6" x2="42.5" y2="253.6" stroke="#8a7262" stroke-width="0.55"/>
<line x1="38.7" y1="254.9" x2="42.5" y2="254.9" stroke="#8a7262" stroke-width="0.55"/>
<line x1="38.7" y1="256.2" x2="42.5" y2="256.2" stroke="#8a7262" stroke-width="0.55"/>
<line x1="35.0" y1="257.5" x2="42.5" y2="257.5" stroke="#8a7262" stroke-width="0.55"/>
<line x1="38.7" y1="258.8" x2="42.5" y2="258.8" stroke="#8a7262" stroke-width="0.55"/>
<line x1="38.7" y1="260.1" x2="42.5" y2="260.1" stroke="#8a7262" stroke-width="0.55"/>
<line x1="38.7" y1="261.4" x2="42.5" y2="261.4" stroke="#8a7262" stroke-width="0.55"/>
<line x1="38.7" y1="262.7" x2="42.5" y2="262.7" stroke="#8a7262" stroke-width="0.55"/>
<line x1="37.0" y1="264.0" x2="42.5" y2="264.0" stroke="#8a7262" stroke-width="0.55"/>
<line x1="38.7" y1="265.3" x2="42.5" y2="265.3" stroke="#8a7262" stroke-width="0.55"/>
<line x1="38.7" y1="266.6" x2="42.5" y2="266.6" stroke="#8a7262" stroke-width="0.55"/>
<line x1="38.7" y1="267.9" x2="42.5" y2="267.9" stroke="#8a7262" stroke-width="0.55"/>
<line x1="38.7" y1="269.2" x2="42.5" y2="269.2" stroke="#8a7262" stroke-width="0.55"/>
<line x1="35.0" y1="270.5" x2="42.5" y2="270.5" stroke="#8a7262" stroke-width="0.55"/>
<line x1="38.7" y1="271.8" x2="42.5" y2="271.8" stroke="#8a7262" stroke-width="0.55"/>
<line x1="38.7" y1="273.1" x2="42.5" y2="273.1" stroke="#8a7262" stroke-width="0.55"/>
<line x1="38.7" y1="274.4" x2="42.5" y2="274.4" stroke="#8a7262" stroke-width="0.55"/>
<line x1="38.7" y1="275.7" x2="42.5" y2="275.7" stroke="#8a7262" stroke-width="0.55"/>
<line x1="37.0" y1="277.0" x2="42.5" y2="277.0" stroke="#8a7262" stroke-width="0.55"/>
<line x1="38.7" y1="278.3" x2="42.5" y2="278.3" stroke="#8a7262" stroke-width="0.55"/>
<line x1="38.7" y1="279.6" x2="42.5" y2="279.6" stroke="#8a7262" stroke-width="0.55"/>
<line x1="38.7" y1="280.9" x2="42.5" y2="280.9" stroke="#8a7262" stroke-width="0.55"/>
<line x1="38.7" y1="282.2" x2="42.5" y2="282.2" stroke="#8a7262" stroke-width="0.55"/>
<line x1="35.0" y1="283.5" x2="42.5" y2="283.5" stroke="#8a7262" stroke-width="0.55"/>
<line x1="38.7" y1="284.8" x2="42.5" y2="284.8" stroke="#8a7262" stroke-width="0.55"/>
<line x1="38.7" y1="286.1" x2="42.5" y2="286.1" stroke="#8a7262" stroke-width="0.55"/>
<line x1="38.7" y1="287.4" x2="42.5" y2="287.4" stroke="#8a7262" stroke-width="0.55"/>
<line x1="38.7" y1="288.7" x2="42.5" y2="288.7" stroke="#8a7262" stroke-width="0.55"/>
<rect x="24.5" y="172.0" width="1.6" height="4.0" fill="#a89888" />
<rect x="24.5" y="185.0" width="1.6" height="4.0" fill="#a89888" />
<rect x="24.5" y="198.0" width="1.6" height="4.0" fill="#a89888" />
<rect x="24.5" y="211.0" width="1.6" height="4.0" fill="#a89888" />
<rect x="24.5" y="224.0" width="1.6" height="4.0" fill="#a89888" />
<rect x="24.5" y="237.0" width="1.6" height="4.0" fill="#a89888" />
<rect x="24.5" y="250.0" width="1.6" height="4.0" fill="#a89888" />
<rect x="24.5" y="263.0" width="1.6" height="4.0" fill="#a89888" />
<rect x="24.5" y="276.0" width="1.6" height="4.0" fill="#a89888" />
<rect x="24.5" y="289.0" width="1.6" height="4.0" fill="#a89888" />
<path d="M60.5,171.0 C63.0,171.0 66.5,171.4 67.7,173.2 C69.0,175.1 68.1,179.1 67.9,182.1 C67.7,185.1 67.3,188.0 66.7,191.3 C66.0,194.7 65.2,199.7 64.2,202.4 C63.2,205.2 61.9,208.0 60.7,208.0 C59.5,208.0 58.1,205.2 57.1,202.4 C56.2,199.7 55.6,194.7 54.9,191.3 C54.2,188.0 53.2,185.1 52.9,182.1 C52.5,179.1 51.5,175.1 52.8,173.2 C54.1,171.4 58.0,171.0 60.5,171.0 Z" fill="#e6cdc8" filter="url(#bl0)"/>
<path d="M60.5,171.0 C63.0,171.0 66.5,171.4 67.7,173.2 C69.0,175.1 68.1,179.1 67.9,182.1 C67.7,185.1 67.3,188.0 66.7,191.3 C66.0,194.7 65.2,199.7 64.2,202.4 C63.2,205.2 61.9,208.0 60.7,208.0 C59.5,208.0 58.1,205.2 57.1,202.4 C56.2,199.7 55.6,194.7 54.9,191.3 C54.2,188.0 53.2,185.1 52.9,182.1 C52.5,179.1 51.5,175.1 52.8,173.2 C54.1,171.4 58.0,171.0 60.5,171.0 Z" fill="none" stroke="#000" stroke-opacity="0.08" stroke-width="1.6" filter="url(#bl1)"/>
<ellipse cx="60.1" cy="178.4" rx="2.2" ry="4.4" fill="#fffaf4" opacity="0.55" filter="url(#bl1)"/>
<ellipse cx="62.6" cy="189.2" rx="2.2" ry="4.4" fill="#fffaf4" opacity="0.55" filter="url(#bl1)"/>
<ellipse cx="62.3" cy="196.8" rx="2.2" ry="4.4" fill="#fffaf4" opacity="0.55" filter="url(#bl1)"/>
<ellipse cx="60.5" cy="194.4" rx="1.1" ry="0.7" fill="#ffffff" opacity="0.85"/>
<ellipse cx="59.0" cy="199.4" rx="1.1" ry="0.7" fill="#ffffff" opacity="0.85"/>
<ellipse cx="63.6" cy="179.1" rx="1.1" ry="0.7" fill="#ffffff" opacity="0.85"/>
<ellipse cx="57.7" cy="190.4" rx="1.1" ry="0.7" fill="#ffffff" opacity="0.85"/>
<circle cx="65.1" cy="186.0" r="0.6" fill="#c83040"/>
<circle cx="57.5" cy="187.2" r="0.6" fill="#c83040"/>
<path d="M78.5,172.0 C80.1,172.0 82.2,173.1 83.3,174.0 C84.4,174.9 84.6,176.1 84.9,177.4 C85.2,178.8 85.1,180.3 85.3,182.2 C85.4,184.1 85.6,186.7 85.7,189.0 C85.8,191.3 86.0,193.9 85.8,195.8 C85.7,197.7 85.2,199.2 84.8,200.6 C84.3,201.9 84.2,203.1 83.2,204.0 C82.1,204.9 80.0,206.0 78.5,206.0 C77.0,206.0 75.0,204.9 74.0,204.0 C73.0,203.1 72.8,201.9 72.3,200.6 C71.9,199.2 71.6,197.7 71.3,195.8 C71.1,193.9 70.9,191.3 70.9,189.0 C71.0,186.7 71.4,184.1 71.7,182.2 C71.9,180.3 72.0,178.8 72.4,177.4 C72.8,176.1 72.9,174.9 74.0,174.0 C75.0,173.1 76.9,172.0 78.5,172.0 Z" fill="#e8d0ca" filter="url(#bl0)"/>
<path d="M78.5,172.0 C80.1,172.0 82.2,173.1 83.3,174.0 C84.4,174.9 84.6,176.1 84.9,177.4 C85.2,178.8 85.1,180.3 85.3,182.2 C85.4,184.1 85.6,186.7 85.7,189.0 C85.8,191.3 86.0,193.9 85.8,195.8 C85.7,197.7 85.2,199.2 84.8,200.6 C84.3,201.9 84.2,203.1 83.2,204.0 C82.1,204.9 80.0,206.0 78.5,206.0 C77.0,206.0 75.0,204.9 74.0,204.0 C73.0,203.1 72.8,201.9 72.3,200.6 C71.9,199.2 71.6,197.7 71.3,195.8 C71.1,193.9 70.9,191.3 70.9,189.0 C71.0,186.7 71.4,184.1 71.7,182.2 C71.9,180.3 72.0,178.8 72.4,177.4 C72.8,176.1 72.9,174.9 74.0,174.0 C75.0,173.1 76.9,172.0 78.5,172.0 Z" fill="none" stroke="#000" stroke-opacity="0.08" stroke-width="1.6" filter="url(#bl1)"/>
<ellipse cx="80.2" cy="182.5" rx="2.2" ry="4.1" fill="#fffaf4" opacity="0.55" filter="url(#bl1)"/>
<ellipse cx="81.0" cy="189.2" rx="2.2" ry="4.1" fill="#fffaf4" opacity="0.55" filter="url(#bl1)"/>
<ellipse cx="79.3" cy="196.6" rx="2.2" ry="4.1" fill="#fffaf4" opacity="0.55" filter="url(#bl1)"/>
<ellipse cx="75.7" cy="179.4" rx="1.1" ry="0.7" fill="#ffffff" opacity="0.85"/>
<ellipse cx="78.6" cy="185.3" rx="1.1" ry="0.7" fill="#ffffff" opacity="0.85"/>
<ellipse cx="78.1" cy="197.0" rx="1.1" ry="0.7" fill="#ffffff" opacity="0.85"/>
<ellipse cx="79.0" cy="190.2" rx="1.1" ry="0.7" fill="#ffffff" opacity="0.85"/>
<path d="M111.5,174.0 C113.0,174.0 114.9,175.1 116.0,176.0 C117.0,176.9 117.2,178.1 117.6,179.4 C118.1,180.8 118.2,182.3 118.5,184.2 C118.7,186.1 119.0,188.7 119.1,191.0 C119.1,193.3 119.0,195.9 118.7,197.8 C118.4,199.7 117.8,201.2 117.3,202.6 C116.9,203.9 116.8,205.1 115.9,206.0 C114.9,206.9 113.0,208.0 111.5,208.0 C110.0,208.0 107.8,206.9 106.8,206.0 C105.8,205.1 105.9,203.9 105.5,202.6 C105.2,201.2 104.9,199.7 104.6,197.8 C104.3,195.9 103.7,193.3 103.6,191.0 C103.6,188.7 104.2,186.1 104.4,184.2 C104.7,182.3 104.8,180.8 105.2,179.4 C105.6,178.1 105.9,176.9 106.9,176.0 C108.0,175.1 110.0,174.0 111.5,174.0 Z" fill="#eedcd6" filter="url(#bl0)"/>
<path d="M111.5,174.0 C113.0,174.0 114.9,175.1 116.0,176.0 C117.0,176.9 117.2,178.1 117.6,179.4 C118.1,180.8 118.2,182.3 118.5,184.2 C118.7,186.1 119.0,188.7 119.1,191.0 C119.1,193.3 119.0,195.9 118.7,197.8 C118.4,199.7 117.8,201.2 117.3,202.6 C116.9,203.9 116.8,205.1 115.9,206.0 C114.9,206.9 113.0,208.0 111.5,208.0 C110.0,208.0 107.8,206.9 106.8,206.0 C105.8,205.1 105.9,203.9 105.5,202.6 C105.2,201.2 104.9,199.7 104.6,197.8 C104.3,195.9 103.7,193.3 103.6,191.0 C103.6,188.7 104.2,186.1 104.4,184.2 C104.7,182.3 104.8,180.8 105.2,179.4 C105.6,178.1 105.9,176.9 106.9,176.0 C108.0,175.1 110.0,174.0 111.5,174.0 Z" fill="none" stroke="#000" stroke-opacity="0.08" stroke-width="1.6" filter="url(#bl1)"/>
<ellipse cx="112.9" cy="181.1" rx="2.2" ry="4.1" fill="#fffaf4" opacity="0.55" filter="url(#bl1)"/>
<ellipse cx="112.9" cy="192.5" rx="2.2" ry="4.1" fill="#fffaf4" opacity="0.55" filter="url(#bl1)"/>
<ellipse cx="112.5" cy="200.5" rx="2.2" ry="4.1" fill="#fffaf4" opacity="0.55" filter="url(#bl1)"/>
<ellipse cx="113.0" cy="182.1" rx="1.1" ry="0.7" fill="#ffffff" opacity="0.85"/>
<ellipse cx="113.6" cy="192.9" rx="1.1" ry="0.7" fill="#ffffff" opacity="0.85"/>
<ellipse cx="110.5" cy="181.4" rx="1.1" ry="0.7" fill="#ffffff" opacity="0.85"/>
<ellipse cx="114.3" cy="190.4" rx="1.1" ry="0.7" fill="#ffffff" opacity="0.85"/>
<path d="M132.4,173.0 C133.8,173.0 135.7,174.1 136.6,175.0 C137.6,175.9 137.6,177.1 138.0,178.4 C138.4,179.8 138.8,181.3 139.0,183.2 C139.3,185.1 139.3,187.7 139.3,190.0 C139.2,192.3 139.0,194.9 138.8,196.8 C138.6,198.7 138.5,200.2 138.1,201.6 C137.8,202.9 137.9,204.1 136.9,205.0 C136.0,205.9 133.9,207.0 132.4,207.0 C131.0,207.0 129.0,205.9 128.0,205.0 C127.0,204.1 126.9,202.9 126.6,201.6 C126.2,200.2 126.2,198.7 126.0,196.8 C125.8,194.9 125.4,192.3 125.4,190.0 C125.4,187.7 125.7,185.1 125.9,183.2 C126.2,181.3 126.5,179.8 126.9,178.4 C127.3,177.1 127.4,175.9 128.3,175.0 C129.2,174.1 131.1,173.0 132.4,173.0 Z" fill="#eed8d2" filter="url(#bl0)"/>
<path d="M132.4,173.0 C133.8,173.0 135.7,174.1 136.6,175.0 C137.6,175.9 137.6,177.1 138.0,178.4 C138.4,179.8 138.8,181.3 139.0,183.2 C139.3,185.1 139.3,187.7 139.3,190.0 C139.2,192.3 139.0,194.9 138.8,196.8 C138.6,198.7 138.5,200.2 138.1,201.6 C137.8,202.9 137.9,204.1 136.9,205.0 C136.0,205.9 133.9,207.0 132.4,207.0 C131.0,207.0 129.0,205.9 128.0,205.0 C127.0,204.1 126.9,202.9 126.6,201.6 C126.2,200.2 126.2,198.7 126.0,196.8 C125.8,194.9 125.4,192.3 125.4,190.0 C125.4,187.7 125.7,185.1 125.9,183.2 C126.2,181.3 126.5,179.8 126.9,178.4 C127.3,177.1 127.4,175.9 128.3,175.0 C129.2,174.1 131.1,173.0 132.4,173.0 Z" fill="none" stroke="#000" stroke-opacity="0.08" stroke-width="1.6" filter="url(#bl1)"/>
<ellipse cx="132.4" cy="183.2" rx="2.1" ry="4.1" fill="#fffaf4" opacity="0.55" filter="url(#bl1)"/>
<ellipse cx="134.4" cy="191.2" rx="2.1" ry="4.1" fill="#fffaf4" opacity="0.55" filter="url(#bl1)"/>
<ellipse cx="134.3" cy="197.3" rx="2.1" ry="4.1" fill="#fffaf4" opacity="0.55" filter="url(#bl1)"/>
<ellipse cx="131.6" cy="192.6" rx="1.1" ry="0.7" fill="#ffffff" opacity="0.85"/>
<ellipse cx="134.3" cy="197.2" rx="1.1" ry="0.7" fill="#ffffff" opacity="0.85"/>
<ellipse cx="135.2" cy="181.6" rx="1.1" ry="0.7" fill="#ffffff" opacity="0.85"/>
<ellipse cx="133.5" cy="193.5" rx="1.1" ry="0.7" fill="#ffffff" opacity="0.85"/>
<path d="M170.0,172.0 C171.6,172.0 173.8,173.2 175.0,174.2 C176.1,175.2 176.2,176.4 176.7,177.9 C177.1,179.4 177.5,181.0 177.8,183.1 C178.1,185.2 178.4,188.0 178.4,190.5 C178.3,193.0 178.0,195.8 177.7,197.9 C177.5,200.0 177.3,201.6 176.8,203.1 C176.3,204.6 175.8,205.8 174.7,206.8 C173.5,207.8 171.6,209.0 170.0,209.0 C168.4,209.0 166.3,207.8 165.1,206.8 C164.0,205.8 163.7,204.6 163.2,203.1 C162.7,201.6 162.6,200.0 162.3,197.9 C162.1,195.8 161.6,193.0 161.7,190.5 C161.7,188.0 162.4,185.2 162.7,183.1 C163.0,181.0 163.1,179.4 163.5,177.9 C163.9,176.4 164.1,175.2 165.2,174.2 C166.3,173.2 168.4,172.0 170.0,172.0 Z" fill="#f3e0cc" filter="url(#bl0)"/>
<path d="M170.0,172.0 C171.6,172.0 173.8,173.2 175.0,174.2 C176.1,175.2 176.2,176.4 176.7,177.9 C177.1,179.4 177.5,181.0 177.8,183.1 C178.1,185.2 178.4,188.0 178.4,190.5 C178.3,193.0 178.0,195.8 177.7,197.9 C177.5,200.0 177.3,201.6 176.8,203.1 C176.3,204.6 175.8,205.8 174.7,206.8 C173.5,207.8 171.6,209.0 170.0,209.0 C168.4,209.0 166.3,207.8 165.1,206.8 C164.0,205.8 163.7,204.6 163.2,203.1 C162.7,201.6 162.6,200.0 162.3,197.9 C162.1,195.8 161.6,193.0 161.7,190.5 C161.7,188.0 162.4,185.2 162.7,183.1 C163.0,181.0 163.1,179.4 163.5,177.9 C163.9,176.4 164.1,175.2 165.2,174.2 C166.3,173.2 168.4,172.0 170.0,172.0 Z" fill="none" stroke="#000" stroke-opacity="0.08" stroke-width="1.6" filter="url(#bl1)"/>
<ellipse cx="171.2" cy="181.5" rx="2.4" ry="4.4" fill="#fffaf4" opacity="0.55" filter="url(#bl1)"/>
<ellipse cx="169.2" cy="189.4" rx="2.4" ry="4.4" fill="#fffaf4" opacity="0.55" filter="url(#bl1)"/>
<ellipse cx="170.2" cy="201.4" rx="2.4" ry="4.4" fill="#fffaf4" opacity="0.55" filter="url(#bl1)"/>
<ellipse cx="172.3" cy="182.9" rx="1.1" ry="0.7" fill="#ffffff" opacity="0.85"/>
<ellipse cx="172.5" cy="182.5" rx="1.1" ry="0.7" fill="#ffffff" opacity="0.85"/>
<ellipse cx="171.2" cy="182.2" rx="1.1" ry="0.7" fill="#ffffff" opacity="0.85"/>
<ellipse cx="166.8" cy="198.7" rx="1.1" ry="0.7" fill="#ffffff" opacity="0.85"/>
<path d="M190.0,172.0 C191.9,172.0 194.4,173.2 195.7,174.2 C196.9,175.2 197.1,176.4 197.6,177.9 C198.0,179.4 198.3,181.0 198.5,183.1 C198.7,185.2 198.9,188.0 198.8,190.5 C198.7,193.0 198.3,195.8 198.1,197.9 C197.9,200.0 197.9,201.6 197.5,203.1 C197.0,204.6 196.7,205.8 195.5,206.8 C194.2,207.8 191.9,209.0 190.0,209.0 C188.1,209.0 185.6,207.8 184.4,206.8 C183.1,205.8 183.3,204.6 182.8,203.1 C182.2,201.6 181.5,200.0 181.3,197.9 C181.0,195.8 181.2,193.0 181.2,190.5 C181.2,188.0 181.0,185.2 181.2,183.1 C181.5,181.0 181.9,179.4 182.5,177.9 C183.0,176.4 183.3,175.2 184.5,174.2 C185.8,173.2 188.1,172.0 190.0,172.0 Z" fill="#f3dec8" filter="url(#bl0)"/>
<path d="M190.0,172.0 C191.9,172.0 194.4,173.2 195.7,174.2 C196.9,175.2 197.1,176.4 197.6,177.9 C198.0,179.4 198.3,181.0 198.5,183.1 C198.7,185.2 198.9,188.0 198.8,190.5 C198.7,193.0 198.3,195.8 198.1,197.9 C197.9,200.0 197.9,201.6 197.5,203.1 C197.0,204.6 196.7,205.8 195.5,206.8 C194.2,207.8 191.9,209.0 190.0,209.0 C188.1,209.0 185.6,207.8 184.4,206.8 C183.1,205.8 183.3,204.6 182.8,203.1 C182.2,201.6 181.5,200.0 181.3,197.9 C181.0,195.8 181.2,193.0 181.2,190.5 C181.2,188.0 181.0,185.2 181.2,183.1 C181.5,181.0 181.9,179.4 182.5,177.9 C183.0,176.4 183.3,175.2 184.5,174.2 C185.8,173.2 188.1,172.0 190.0,172.0 Z" fill="none" stroke="#000" stroke-opacity="0.08" stroke-width="1.6" filter="url(#bl1)"/>
<ellipse cx="191.3" cy="182.0" rx="2.7" ry="4.4" fill="#fffaf4" opacity="0.55" filter="url(#bl1)"/>
<ellipse cx="189.9" cy="190.7" rx="2.7" ry="4.4" fill="#fffaf4" opacity="0.55" filter="url(#bl1)"/>
<ellipse cx="192.4" cy="198.8" rx="2.7" ry="4.4" fill="#fffaf4" opacity="0.55" filter="url(#bl1)"/>
<ellipse cx="192.9" cy="194.6" rx="1.1" ry="0.7" fill="#ffffff" opacity="0.85"/>
<ellipse cx="193.2" cy="186.8" rx="1.1" ry="0.7" fill="#ffffff" opacity="0.85"/>
<ellipse cx="187.2" cy="197.2" rx="1.1" ry="0.7" fill="#ffffff" opacity="0.85"/>
<ellipse cx="192.9" cy="189.3" rx="1.1" ry="0.7" fill="#ffffff" opacity="0.85"/>
<path d="M225.7,169.0 C227.9,169.0 230.7,170.4 232.1,171.5 C233.5,172.6 233.5,173.9 234.1,175.6 C234.8,177.2 235.6,179.0 236.0,181.3 C236.3,183.6 236.0,186.8 235.9,189.5 C235.9,192.2 236.1,195.4 235.8,197.7 C235.6,200.0 234.9,201.8 234.3,203.4 C233.7,205.1 233.4,206.4 232.0,207.5 C230.5,208.6 227.8,210.0 225.7,210.0 C223.6,210.0 220.5,208.6 219.1,207.5 C217.8,206.4 218.0,205.1 217.4,203.4 C216.8,201.8 216.0,200.0 215.7,197.7 C215.3,195.4 215.4,192.2 215.5,189.5 C215.5,186.8 215.7,183.6 216.0,181.3 C216.3,179.0 216.6,177.2 217.0,175.6 C217.5,173.9 217.5,172.6 218.9,171.5 C220.4,170.4 223.5,169.0 225.7,169.0 Z" fill="#f4e0c2" filter="url(#bl0)"/>
<path d="M225.7,169.0 C227.9,169.0 230.7,170.4 232.1,171.5 C233.5,172.6 233.5,173.9 234.1,175.6 C234.8,177.2 235.6,179.0 236.0,181.3 C236.3,183.6 236.0,186.8 235.9,189.5 C235.9,192.2 236.1,195.4 235.8,197.7 C235.6,200.0 234.9,201.8 234.3,203.4 C233.7,205.1 233.4,206.4 232.0,207.5 C230.5,208.6 227.8,210.0 225.7,210.0 C223.6,210.0 220.5,208.6 219.1,207.5 C217.8,206.4 218.0,205.1 217.4,203.4 C216.8,201.8 216.0,200.0 215.7,197.7 C215.3,195.4 215.4,192.2 215.5,189.5 C215.5,186.8 215.7,183.6 216.0,181.3 C216.3,179.0 216.6,177.2 217.0,175.6 C217.5,173.9 217.5,172.6 218.9,171.5 C220.4,170.4 223.5,169.0 225.7,169.0 Z" fill="none" stroke="#000" stroke-opacity="0.08" stroke-width="1.6" filter="url(#bl1)"/>
<ellipse cx="225.2" cy="178.1" rx="3.2" ry="4.9" fill="#fffaf4" opacity="0.55" filter="url(#bl1)"/>
<ellipse cx="227.7" cy="191.3" rx="3.2" ry="4.9" fill="#fffaf4" opacity="0.55" filter="url(#bl1)"/>
<ellipse cx="227.4" cy="199.3" rx="3.2" ry="4.9" fill="#fffaf4" opacity="0.55" filter="url(#bl1)"/>
<ellipse cx="230.8" cy="178.3" rx="1.1" ry="0.7" fill="#ffffff" opacity="0.85"/>
<ellipse cx="229.7" cy="184.3" rx="1.1" ry="0.7" fill="#ffffff" opacity="0.85"/>
<ellipse cx="222.8" cy="180.1" rx="1.1" ry="0.7" fill="#ffffff" opacity="0.85"/>
<ellipse cx="224.4" cy="197.3" rx="1.1" ry="0.7" fill="#ffffff" opacity="0.85"/>
<path d="M248.9,168.0 C250.9,168.0 253.3,169.4 254.6,170.5 C256.0,171.6 256.6,172.9 257.1,174.6 C257.6,176.2 257.4,178.0 257.6,180.3 C257.9,182.6 258.7,185.8 258.7,188.5 C258.7,191.2 258.0,194.4 257.6,196.7 C257.2,199.0 257.0,200.8 256.5,202.4 C256.1,204.1 256.3,205.4 255.1,206.5 C253.8,207.6 250.9,209.0 248.9,209.0 C247.0,209.0 244.6,207.6 243.3,206.5 C242.0,205.4 241.6,204.1 241.1,202.4 C240.5,200.8 240.2,199.0 240.0,196.7 C239.7,194.4 239.5,191.2 239.4,188.5 C239.4,185.8 239.6,182.6 239.9,180.3 C240.3,178.0 240.9,176.2 241.4,174.6 C241.9,172.9 241.7,171.6 242.9,170.5 C244.2,169.4 247.0,168.0 248.9,168.0 Z" fill="#f4e0c4" filter="url(#bl0)"/>
<path d="M248.9,168.0 C250.9,168.0 253.3,169.4 254.6,170.5 C256.0,171.6 256.6,172.9 257.1,174.6 C257.6,176.2 257.4,178.0 257.6,180.3 C257.9,182.6 258.7,185.8 258.7,188.5 C258.7,191.2 258.0,194.4 257.6,196.7 C257.2,199.0 257.0,200.8 256.5,202.4 C256.1,204.1 256.3,205.4 255.1,206.5 C253.8,207.6 250.9,209.0 248.9,209.0 C247.0,209.0 244.6,207.6 243.3,206.5 C242.0,205.4 241.6,204.1 241.1,202.4 C240.5,200.8 240.2,199.0 240.0,196.7 C239.7,194.4 239.5,191.2 239.4,188.5 C239.4,185.8 239.6,182.6 239.9,180.3 C240.3,178.0 240.9,176.2 241.4,174.6 C241.9,172.9 241.7,171.6 242.9,170.5 C244.2,169.4 247.0,168.0 248.9,168.0 Z" fill="none" stroke="#000" stroke-opacity="0.08" stroke-width="1.6" filter="url(#bl1)"/>
<ellipse cx="248.4" cy="177.2" rx="2.9" ry="4.9" fill="#fffaf4" opacity="0.55" filter="url(#bl1)"/>
<ellipse cx="248.1" cy="187.6" rx="2.9" ry="4.9" fill="#fffaf4" opacity="0.55" filter="url(#bl1)"/>
<ellipse cx="249.7" cy="200.4" rx="2.9" ry="4.9" fill="#fffaf4" opacity="0.55" filter="url(#bl1)"/>
<ellipse cx="248.4" cy="179.0" rx="1.1" ry="0.7" fill="#ffffff" opacity="0.85"/>
<ellipse cx="247.4" cy="200.6" rx="1.1" ry="0.7" fill="#ffffff" opacity="0.85"/>
<ellipse cx="245.7" cy="191.5" rx="1.1" ry="0.7" fill="#ffffff" opacity="0.85"/>
<ellipse cx="248.4" cy="192.5" rx="1.1" ry="0.7" fill="#ffffff" opacity="0.85"/>
<path d="M56.0,216.0 C59.0,216.0 63.5,217.3 65.3,219.4 C67.1,221.5 66.7,225.4 67.1,228.8 C67.4,232.1 67.6,235.8 67.5,239.4 C67.4,242.9 67.0,247.2 66.4,250.0 C65.8,252.8 65.5,254.5 63.7,255.9 C61.9,257.4 58.2,258.5 55.5,258.5 C52.7,258.5 48.8,257.4 47.1,255.9 C45.4,254.5 45.6,252.8 45.3,250.0 C45.1,247.2 45.1,242.9 45.5,239.4 C46.0,235.8 47.9,232.1 48.2,228.8 C48.5,225.4 46.2,221.5 47.5,219.4 C48.8,217.3 53.0,216.0 56.0,216.0 Z" fill="#deb2b0" filter="url(#bl0)"/>
<path d="M56.0,216.0 C59.0,216.0 63.5,217.3 65.3,219.4 C67.1,221.5 66.7,225.4 67.1,228.8 C67.4,232.1 67.6,235.8 67.5,239.4 C67.4,242.9 67.0,247.2 66.4,250.0 C65.8,252.8 65.5,254.5 63.7,255.9 C61.9,257.4 58.2,258.5 55.5,258.5 C52.7,258.5 48.8,257.4 47.1,255.9 C45.4,254.5 45.6,252.8 45.3,250.0 C45.1,247.2 45.1,242.9 45.5,239.4 C46.0,235.8 47.9,232.1 48.2,228.8 C48.5,225.4 46.2,221.5 47.5,219.4 C48.8,217.3 53.0,216.0 56.0,216.0 Z" fill="none" stroke="#000" stroke-opacity="0.08" stroke-width="1.6" filter="url(#bl1)"/>
<ellipse cx="55.4" cy="225.8" rx="3.3" ry="5.1" fill="#fffaf4" opacity="0.35" filter="url(#bl1)"/>
<ellipse cx="55.3" cy="238.5" rx="3.3" ry="5.1" fill="#fffaf4" opacity="0.35" filter="url(#bl1)"/>
<ellipse cx="58.3" cy="246.0" rx="3.3" ry="5.1" fill="#fffaf4" opacity="0.35" filter="url(#bl1)"/>
<ellipse cx="61.3" cy="249.1" rx="1.1" ry="0.7" fill="#ffffff" opacity="0.85"/>
<ellipse cx="58.1" cy="240.2" rx="1.1" ry="0.7" fill="#ffffff" opacity="0.85"/>
<ellipse cx="53.2" cy="224.9" rx="1.1" ry="0.7" fill="#ffffff" opacity="0.85"/>
<ellipse cx="56.8" cy="226.0" rx="1.1" ry="0.7" fill="#ffffff" opacity="0.85"/>
<circle cx="51.2" cy="228.5" r="0.6" fill="#c83040"/>
<circle cx="48.8" cy="236.0" r="0.6" fill="#c83040"/>
<circle cx="55.1" cy="248.9" r="0.6" fill="#c83040"/>
<circle cx="56.3" cy="242.0" r="0.6" fill="#c83040"/>
<circle cx="56.0" cy="242.8" r="0.6" fill="#c83040"/>
<circle cx="55.3" cy="229.7" r="0.6" fill="#c83040"/>
<path d="M79.0,216.0 C81.0,216.0 83.7,217.3 85.1,218.4 C86.5,219.4 86.7,220.7 87.3,222.3 C87.9,223.9 88.4,225.6 88.6,227.8 C88.8,230.1 88.7,233.1 88.6,235.8 C88.5,238.4 88.2,241.4 88.0,243.7 C87.7,245.9 87.5,247.6 87.0,249.2 C86.5,250.8 86.3,252.1 85.0,253.1 C83.6,254.2 81.0,255.5 79.0,255.5 C77.0,255.5 74.1,254.2 72.7,253.1 C71.3,252.1 71.2,250.8 70.7,249.2 C70.2,247.6 69.8,245.9 69.5,243.7 C69.2,241.4 69.0,238.4 68.9,235.8 C68.9,233.1 69.0,230.1 69.4,227.8 C69.8,225.6 70.6,223.9 71.1,222.3 C71.7,220.7 71.6,219.4 72.9,218.4 C74.2,217.3 77.0,216.0 79.0,216.0 Z" fill="#e6d4d0" filter="url(#bl0)"/>
<path d="M79.0,216.0 C81.0,216.0 83.7,217.3 85.1,218.4 C86.5,219.4 86.7,220.7 87.3,222.3 C87.9,223.9 88.4,225.6 88.6,227.8 C88.8,230.1 88.7,233.1 88.6,235.8 C88.5,238.4 88.2,241.4 88.0,243.7 C87.7,245.9 87.5,247.6 87.0,249.2 C86.5,250.8 86.3,252.1 85.0,253.1 C83.6,254.2 81.0,255.5 79.0,255.5 C77.0,255.5 74.1,254.2 72.7,253.1 C71.3,252.1 71.2,250.8 70.7,249.2 C70.2,247.6 69.8,245.9 69.5,243.7 C69.2,241.4 69.0,238.4 68.9,235.8 C68.9,233.1 69.0,230.1 69.4,227.8 C69.8,225.6 70.6,223.9 71.1,222.3 C71.7,220.7 71.6,219.4 72.9,218.4 C74.2,217.3 77.0,216.0 79.0,216.0 Z" fill="none" stroke="#000" stroke-opacity="0.08" stroke-width="1.6" filter="url(#bl1)"/>
<ellipse cx="78.7" cy="227.5" rx="3.0" ry="4.7" fill="#fffaf4" opacity="0.45" filter="url(#bl1)"/>
<ellipse cx="78.3" cy="237.0" rx="3.0" ry="4.7" fill="#fffaf4" opacity="0.45" filter="url(#bl1)"/>
<ellipse cx="78.3" cy="246.4" rx="3.0" ry="4.7" fill="#fffaf4" opacity="0.45" filter="url(#bl1)"/>
<ellipse cx="78.0" cy="233.5" rx="1.1" ry="0.7" fill="#ffffff" opacity="0.85"/>
<ellipse cx="82.6" cy="224.3" rx="1.1" ry="0.7" fill="#ffffff" opacity="0.85"/>
<ellipse cx="75.5" cy="245.6" rx="1.1" ry="0.7" fill="#ffffff" opacity="0.85"/>
<ellipse cx="79.6" cy="226.1" rx="1.1" ry="0.7" fill="#ffffff" opacity="0.85"/>
<path d="M113.5,217.0 C115.0,217.0 116.9,218.2 118.0,219.1 C119.0,220.0 119.3,221.2 119.7,222.6 C120.2,224.0 120.5,225.5 120.7,227.5 C121.0,229.5 121.3,232.2 121.3,234.5 C121.2,236.8 120.7,239.5 120.4,241.5 C120.1,243.5 119.9,245.0 119.4,246.4 C119.0,247.8 118.9,249.0 117.9,249.9 C116.9,250.8 115.0,252.0 113.5,252.0 C112.0,252.0 110.1,250.8 109.0,249.9 C108.0,249.0 107.6,247.8 107.2,246.4 C106.9,245.0 106.9,243.5 106.7,241.5 C106.5,239.5 106.0,236.8 106.0,234.5 C106.0,232.2 106.4,229.5 106.6,227.5 C106.9,225.5 107.1,224.0 107.5,222.6 C107.9,221.2 107.9,220.0 108.9,219.1 C109.9,218.2 112.0,217.0 113.5,217.0 Z" fill="#ead0ca" filter="url(#bl0)"/>
<path d="M113.5,217.0 C115.0,217.0 116.9,218.2 118.0,219.1 C119.0,220.0 119.3,221.2 119.7,222.6 C120.2,224.0 120.5,225.5 120.7,227.5 C121.0,229.5 121.3,232.2 121.3,234.5 C121.2,236.8 120.7,239.5 120.4,241.5 C120.1,243.5 119.9,245.0 119.4,246.4 C119.0,247.8 118.9,249.0 117.9,249.9 C116.9,250.8 115.0,252.0 113.5,252.0 C112.0,252.0 110.1,250.8 109.0,249.9 C108.0,249.0 107.6,247.8 107.2,246.4 C106.9,245.0 106.9,243.5 106.7,241.5 C106.5,239.5 106.0,236.8 106.0,234.5 C106.0,232.2 106.4,229.5 106.6,227.5 C106.9,225.5 107.1,224.0 107.5,222.6 C107.9,221.2 107.9,220.0 108.9,219.1 C109.9,218.2 112.0,217.0 113.5,217.0 Z" fill="none" stroke="#000" stroke-opacity="0.08" stroke-width="1.6" filter="url(#bl1)"/>
<ellipse cx="115.6" cy="226.2" rx="2.2" ry="4.2" fill="#fffaf4" opacity="0.4" filter="url(#bl1)"/>
<ellipse cx="112.8" cy="233.6" rx="2.2" ry="4.2" fill="#fffaf4" opacity="0.4" filter="url(#bl1)"/>
<ellipse cx="113.2" cy="244.7" rx="2.2" ry="4.2" fill="#fffaf4" opacity="0.4" filter="url(#bl1)"/>
<ellipse cx="116.0" cy="240.9" rx="1.1" ry="0.7" fill="#ffffff" opacity="0.85"/>
<ellipse cx="116.1" cy="239.6" rx="1.1" ry="0.7" fill="#ffffff" opacity="0.85"/>
<ellipse cx="116.9" cy="240.7" rx="1.1" ry="0.7" fill="#ffffff" opacity="0.85"/>
<ellipse cx="112.2" cy="241.8" rx="1.1" ry="0.7" fill="#ffffff" opacity="0.85"/>
<path d="M131.2,217.0 C133.4,217.0 136.3,218.0 137.5,219.6 C138.8,221.2 138.7,224.7 138.6,226.8 C138.6,228.8 137.4,230.3 137.1,231.6 C136.9,233.0 137.1,233.2 137.3,234.9 C137.5,236.5 138.3,239.3 138.3,241.4 C138.3,243.4 138.4,245.9 137.3,247.2 C136.1,248.6 133.3,249.5 131.2,249.5 C129.2,249.5 126.2,248.6 124.9,247.2 C123.7,245.9 123.7,243.4 123.9,241.4 C124.0,239.3 125.6,236.5 125.9,234.9 C126.2,233.2 126.0,233.0 125.7,231.6 C125.4,230.3 124.3,228.8 124.1,226.8 C123.9,224.7 123.3,221.2 124.5,219.6 C125.7,218.0 129.1,217.0 131.2,217.0 Z" fill="#ebcdc6" filter="url(#bl0)"/>
<path d="M131.2,217.0 C133.4,217.0 136.3,218.0 137.5,219.6 C138.8,221.2 138.7,224.7 138.6,226.8 C138.6,228.8 137.4,230.3 137.1,231.6 C136.9,233.0 137.1,233.2 137.3,234.9 C137.5,236.5 138.3,239.3 138.3,241.4 C138.3,243.4 138.4,245.9 137.3,247.2 C136.1,248.6 133.3,249.5 131.2,249.5 C129.2,249.5 126.2,248.6 124.9,247.2 C123.7,245.9 123.7,243.4 123.9,241.4 C124.0,239.3 125.6,236.5 125.9,234.9 C126.2,233.2 126.0,233.0 125.7,231.6 C125.4,230.3 124.3,228.8 124.1,226.8 C123.9,224.7 123.3,221.2 124.5,219.6 C125.7,218.0 129.1,217.0 131.2,217.0 Z" fill="none" stroke="#000" stroke-opacity="0.08" stroke-width="1.6" filter="url(#bl1)"/>
<ellipse cx="130.9" cy="224.0" rx="2.2" ry="3.9" fill="#fffaf4" opacity="0.4" filter="url(#bl1)"/>
<ellipse cx="133.5" cy="232.7" rx="2.2" ry="3.9" fill="#fffaf4" opacity="0.4" filter="url(#bl1)"/>
<ellipse cx="131.4" cy="242.6" rx="2.2" ry="3.9" fill="#fffaf4" opacity="0.4" filter="url(#bl1)"/>
<ellipse cx="132.5" cy="226.4" rx="1.1" ry="0.7" fill="#ffffff" opacity="0.85"/>
<ellipse cx="131.9" cy="236.4" rx="1.1" ry="0.7" fill="#ffffff" opacity="0.85"/>
<ellipse cx="129.4" cy="236.2" rx="1.1" ry="0.7" fill="#ffffff" opacity="0.85"/>
<ellipse cx="129.2" cy="230.1" rx="1.1" ry="0.7" fill="#ffffff" opacity="0.85"/>
<circle cx="127.0" cy="225.6" r="0.6" fill="#c83040"/>
<path d="M175.5,212.0 C178.1,212.0 181.4,213.5 182.7,215.9 C184.1,218.3 183.1,222.8 183.7,226.6 C184.3,230.3 185.6,234.6 186.1,238.7 C186.6,242.7 186.5,247.6 186.6,250.8 C186.8,254.0 188.7,256.0 187.0,257.6 C185.2,259.2 179.5,260.5 176.1,260.5 C172.6,260.5 168.3,259.2 166.2,257.6 C164.1,256.0 163.9,254.0 163.6,250.8 C163.3,247.6 164.0,242.7 164.4,238.7 C164.8,234.6 165.5,230.3 166.0,226.6 C166.4,222.8 165.5,218.3 167.0,215.9 C168.6,213.5 172.9,212.0 175.5,212.0 Z" fill="#f0c6bc" filter="url(#bl0)"/>
<path d="M175.5,212.0 C178.1,212.0 181.4,213.5 182.7,215.9 C184.1,218.3 183.1,222.8 183.7,226.6 C184.3,230.3 185.6,234.6 186.1,238.7 C186.6,242.7 186.5,247.6 186.6,250.8 C186.8,254.0 188.7,256.0 187.0,257.6 C185.2,259.2 179.5,260.5 176.1,260.5 C172.6,260.5 168.3,259.2 166.2,257.6 C164.1,256.0 163.9,254.0 163.6,250.8 C163.3,247.6 164.0,242.7 164.4,238.7 C164.8,234.6 165.5,230.3 166.0,226.6 C166.4,222.8 165.5,218.3 167.0,215.9 C168.6,213.5 172.9,212.0 175.5,212.0 Z" fill="none" stroke="#000" stroke-opacity="0.08" stroke-width="1.6" filter="url(#bl1)"/>
<ellipse cx="175.6" cy="223.5" rx="3.4" ry="5.8" fill="#fffaf4" opacity="0.4" filter="url(#bl1)"/>
<ellipse cx="178.0" cy="235.4" rx="3.4" ry="5.8" fill="#fffaf4" opacity="0.4" filter="url(#bl1)"/>
<ellipse cx="175.7" cy="247.3" rx="3.4" ry="5.8" fill="#fffaf4" opacity="0.4" filter="url(#bl1)"/>
<ellipse cx="179.8" cy="247.1" rx="1.1" ry="0.7" fill="#ffffff" opacity="0.85"/>
<ellipse cx="179.2" cy="228.2" rx="1.1" ry="0.7" fill="#ffffff" opacity="0.85"/>
<ellipse cx="180.5" cy="236.6" rx="1.1" ry="0.7" fill="#ffffff" opacity="0.85"/>
<ellipse cx="173.3" cy="235.0" rx="1.1" ry="0.7" fill="#ffffff" opacity="0.85"/>
<path d="M197.5,216.0 C199.6,216.0 202.4,217.4 203.8,218.4 C205.3,219.5 205.5,220.9 206.0,222.5 C206.6,224.1 207.0,225.9 207.3,228.2 C207.6,230.4 207.9,233.6 207.9,236.2 C207.9,238.9 207.6,242.1 207.3,244.3 C207.0,246.6 206.8,248.4 206.2,250.0 C205.6,251.6 205.2,253.0 203.8,254.1 C202.3,255.2 199.6,256.5 197.5,256.5 C195.4,256.5 192.3,255.2 191.0,254.1 C189.6,253.0 189.9,251.6 189.4,250.0 C188.8,248.4 188.1,246.6 187.8,244.3 C187.4,242.1 187.1,238.9 187.2,236.2 C187.2,233.6 187.7,230.4 187.9,228.2 C188.2,225.9 188.2,224.1 188.7,222.5 C189.3,220.9 189.7,219.5 191.2,218.4 C192.7,217.4 195.4,216.0 197.5,216.0 Z" fill="#f2d2c8" filter="url(#bl0)"/>
<path d="M197.5,216.0 C199.6,216.0 202.4,217.4 203.8,218.4 C205.3,219.5 205.5,220.9 206.0,222.5 C206.6,224.1 207.0,225.9 207.3,228.2 C207.6,230.4 207.9,233.6 207.9,236.2 C207.9,238.9 207.6,242.1 207.3,244.3 C207.0,246.6 206.8,248.4 206.2,250.0 C205.6,251.6 205.2,253.0 203.8,254.1 C202.3,255.2 199.6,256.5 197.5,256.5 C195.4,256.5 192.3,255.2 191.0,254.1 C189.6,253.0 189.9,251.6 189.4,250.0 C188.8,248.4 188.1,246.6 187.8,244.3 C187.4,242.1 187.1,238.9 187.2,236.2 C187.2,233.6 187.7,230.4 187.9,228.2 C188.2,225.9 188.2,224.1 188.7,222.5 C189.3,220.9 189.7,219.5 191.2,218.4 C192.7,217.4 195.4,216.0 197.5,216.0 Z" fill="none" stroke="#000" stroke-opacity="0.08" stroke-width="1.6" filter="url(#bl1)"/>
<ellipse cx="200.2" cy="227.9" rx="3.1" ry="4.9" fill="#fffaf4" opacity="0.4" filter="url(#bl1)"/>
<ellipse cx="197.6" cy="237.8" rx="3.1" ry="4.9" fill="#fffaf4" opacity="0.4" filter="url(#bl1)"/>
<ellipse cx="200.3" cy="247.0" rx="3.1" ry="4.9" fill="#fffaf4" opacity="0.4" filter="url(#bl1)"/>
<ellipse cx="193.6" cy="235.2" rx="1.1" ry="0.7" fill="#ffffff" opacity="0.85"/>
<ellipse cx="199.2" cy="231.3" rx="1.1" ry="0.7" fill="#ffffff" opacity="0.85"/>
<ellipse cx="195.4" cy="231.6" rx="1.1" ry="0.7" fill="#ffffff" opacity="0.85"/>
<ellipse cx="195.7" cy="243.2" rx="1.1" ry="0.7" fill="#ffffff" opacity="0.85"/>
<circle cx="195.3" cy="233.8" r="0.6" fill="#c83040"/>
<circle cx="199.6" cy="250.8" r="0.6" fill="#c83040"/>
<path d="M228.2,214.0 C230.1,214.0 232.6,215.4 233.8,216.5 C235.1,217.6 235.4,219.0 235.9,220.6 C236.5,222.3 237.1,224.1 237.3,226.4 C237.5,228.8 237.2,232.0 237.2,234.8 C237.2,237.5 237.3,240.7 237.1,243.1 C236.9,245.4 236.4,247.2 235.8,248.9 C235.3,250.5 235.2,251.9 233.9,253.0 C232.6,254.1 230.1,255.5 228.2,255.5 C226.3,255.5 224.0,254.1 222.8,253.0 C221.6,251.9 221.6,250.5 221.1,248.9 C220.5,247.2 220.0,245.4 219.6,243.1 C219.2,240.7 218.8,237.5 218.8,234.8 C218.8,232.0 219.4,228.8 219.7,226.4 C220.1,224.1 220.2,222.3 220.7,220.6 C221.2,219.0 221.4,217.6 222.7,216.5 C223.9,215.4 226.3,214.0 228.2,214.0 Z" fill="#efc2ba" filter="url(#bl0)"/>
<path d="M228.2,214.0 C230.1,214.0 232.6,215.4 233.8,216.5 C235.1,217.6 235.4,219.0 235.9,220.6 C236.5,222.3 237.1,224.1 237.3,226.4 C237.5,228.8 237.2,232.0 237.2,234.8 C237.2,237.5 237.3,240.7 237.1,243.1 C236.9,245.4 236.4,247.2 235.8,248.9 C235.3,250.5 235.2,251.9 233.9,253.0 C232.6,254.1 230.1,255.5 228.2,255.5 C226.3,255.5 224.0,254.1 222.8,253.0 C221.6,251.9 221.6,250.5 221.1,248.9 C220.5,247.2 220.0,245.4 219.6,243.1 C219.2,240.7 218.8,237.5 218.8,234.8 C218.8,232.0 219.4,228.8 219.7,226.4 C220.1,224.1 220.2,222.3 220.7,220.6 C221.2,219.0 221.4,217.6 222.7,216.5 C223.9,215.4 226.3,214.0 228.2,214.0 Z" fill="none" stroke="#000" stroke-opacity="0.08" stroke-width="1.6" filter="url(#bl1)"/>
<ellipse cx="230.8" cy="226.2" rx="2.8" ry="5.0" fill="#fffaf4" opacity="0.35" filter="url(#bl1)"/>
<ellipse cx="228.9" cy="236.7" rx="2.8" ry="5.0" fill="#fffaf4" opacity="0.35" filter="url(#bl1)"/>
<ellipse cx="227.5" cy="246.4" rx="2.8" ry="5.0" fill="#fffaf4" opacity="0.35" filter="url(#bl1)"/>
<ellipse cx="231.8" cy="226.1" rx="1.1" ry="0.7" fill="#ffffff" opacity="0.85"/>
<ellipse cx="230.4" cy="236.2" rx="1.1" ry="0.7" fill="#ffffff" opacity="0.85"/>
<ellipse cx="232.4" cy="227.5" rx="1.1" ry="0.7" fill="#ffffff" opacity="0.85"/>
<ellipse cx="229.0" cy="244.3" rx="1.1" ry="0.7" fill="#ffffff" opacity="0.85"/>
<circle cx="230.0" cy="228.4" r="0.6" fill="#c83040"/>
<circle cx="222.8" cy="249.4" r="0.6" fill="#c83040"/>
<circle cx="227.9" cy="251.2" r="0.6" fill="#c83040"/>
<circle cx="223.6" cy="245.1" r="0.6" fill="#c83040"/>
<circle cx="232.2" cy="248.7" r="0.6" fill="#c83040"/>
<circle cx="222.0" cy="230.5" r="0.6" fill="#c83040"/>
<circle cx="222.4" cy="243.1" r="0.6" fill="#c83040"/>
<circle cx="226.3" cy="250.0" r="0.6" fill="#c83040"/>
<path d="M247.9,217.0 C249.9,217.0 252.3,218.2 253.6,219.1 C254.9,220.1 255.3,221.2 255.9,222.7 C256.4,224.1 256.6,225.6 256.8,227.6 C257.0,229.6 257.2,232.3 257.2,234.7 C257.2,237.1 257.2,239.8 257.0,241.8 C256.7,243.8 256.3,245.3 255.7,246.7 C255.2,248.2 255.1,249.3 253.8,250.3 C252.5,251.2 249.9,252.4 247.9,252.4 C246.0,252.4 243.4,251.2 242.1,250.3 C240.9,249.3 240.8,248.2 240.4,246.7 C239.9,245.3 239.5,243.8 239.2,241.8 C238.8,239.8 238.2,237.1 238.2,234.7 C238.2,232.3 238.8,229.6 239.1,227.6 C239.4,225.6 239.6,224.1 240.0,222.7 C240.5,221.2 240.6,220.1 241.9,219.1 C243.3,218.2 246.0,217.0 247.9,217.0 Z" fill="#f2cec6" filter="url(#bl0)"/>
<path d="M247.9,217.0 C249.9,217.0 252.3,218.2 253.6,219.1 C254.9,220.1 255.3,221.2 255.9,222.7 C256.4,224.1 256.6,225.6 256.8,227.6 C257.0,229.6 257.2,232.3 257.2,234.7 C257.2,237.1 257.2,239.8 257.0,241.8 C256.7,243.8 256.3,245.3 255.7,246.7 C255.2,248.2 255.1,249.3 253.8,250.3 C252.5,251.2 249.9,252.4 247.9,252.4 C246.0,252.4 243.4,251.2 242.1,250.3 C240.9,249.3 240.8,248.2 240.4,246.7 C239.9,245.3 239.5,243.8 239.2,241.8 C238.8,239.8 238.2,237.1 238.2,234.7 C238.2,232.3 238.8,229.6 239.1,227.6 C239.4,225.6 239.6,224.1 240.0,222.7 C240.5,221.2 240.6,220.1 241.9,219.1 C243.3,218.2 246.0,217.0 247.9,217.0 Z" fill="none" stroke="#000" stroke-opacity="0.08" stroke-width="1.6" filter="url(#bl1)"/>
<ellipse cx="250.7" cy="227.6" rx="2.9" ry="4.2" fill="#fffaf4" opacity="0.4" filter="url(#bl1)"/>
<ellipse cx="248.0" cy="233.6" rx="2.9" ry="4.2" fill="#fffaf4" opacity="0.4" filter="url(#bl1)"/>
<ellipse cx="250.2" cy="243.9" rx="2.9" ry="4.2" fill="#fffaf4" opacity="0.4" filter="url(#bl1)"/>
<ellipse cx="245.9" cy="238.5" rx="1.1" ry="0.7" fill="#ffffff" opacity="0.85"/>
<ellipse cx="251.6" cy="241.8" rx="1.1" ry="0.7" fill="#ffffff" opacity="0.85"/>
<ellipse cx="246.0" cy="230.4" rx="1.1" ry="0.7" fill="#ffffff" opacity="0.85"/>
<ellipse cx="244.2" cy="244.8" rx="1.1" ry="0.7" fill="#ffffff" opacity="0.85"/>
<circle cx="244.2" cy="241.1" r="0.6" fill="#c83040"/>
<path d="M60.0,267.5 C61.5,267.5 63.4,268.3 64.4,268.9 C65.4,269.5 65.6,270.1 66.0,271.0 C66.4,272.0 66.6,273.4 66.7,274.6 C66.7,275.7 66.6,277.1 66.2,278.1 C65.8,279.0 65.3,279.6 64.3,280.2 C63.3,280.8 61.4,281.6 60.0,281.6 C58.6,281.6 56.7,280.8 55.7,280.2 C54.7,279.6 54.4,279.0 53.9,278.1 C53.4,277.1 53.0,275.7 52.9,274.6 C52.8,273.4 53.1,272.0 53.5,271.0 C54.0,270.1 54.5,269.5 55.6,268.9 C56.7,268.3 58.5,267.5 60.0,267.5 Z" fill="#ae786c" filter="url(#bl0)"/>
<path d="M60.0,267.5 C61.5,267.5 63.4,268.3 64.4,268.9 C65.4,269.5 65.6,270.1 66.0,271.0 C66.4,272.0 66.6,273.4 66.7,274.6 C66.7,275.7 66.6,277.1 66.2,278.1 C65.8,279.0 65.3,279.6 64.3,280.2 C63.3,280.8 61.4,281.6 60.0,281.6 C58.6,281.6 56.7,280.8 55.7,280.2 C54.7,279.6 54.4,279.0 53.9,278.1 C53.4,277.1 53.0,275.7 52.9,274.6 C52.8,273.4 53.1,272.0 53.5,271.0 C54.0,270.1 54.5,269.5 55.6,268.9 C56.7,268.3 58.5,267.5 60.0,267.5 Z" fill="none" stroke="#000" stroke-opacity="0.08" stroke-width="1.6" filter="url(#bl1)"/>
<ellipse cx="62.4" cy="273.0" rx="2.1" ry="1.7" fill="#d8a898" opacity="0.4" filter="url(#bl1)"/>
<ellipse cx="60.1" cy="272.8" rx="2.1" ry="1.7" fill="#d8a898" opacity="0.4" filter="url(#bl1)"/>
<ellipse cx="59.8" cy="279.4" rx="2.1" ry="1.7" fill="#d8a898" opacity="0.4" filter="url(#bl1)"/>
<ellipse cx="61.0" cy="278.1" rx="1.1" ry="0.7" fill="#ffffff" opacity="0.85"/>
<path d="M76.5,266.5 C77.9,266.5 79.5,267.2 80.4,267.7 C81.3,268.2 81.6,268.7 82.0,269.5 C82.4,270.3 82.9,271.5 82.9,272.6 C83.0,273.6 82.7,274.8 82.3,275.6 C81.9,276.4 81.4,276.9 80.5,277.4 C79.5,277.9 77.8,278.6 76.5,278.6 C75.2,278.6 73.5,277.9 72.6,277.4 C71.6,276.9 71.4,276.4 70.9,275.6 C70.5,274.8 69.8,273.6 69.8,272.6 C69.8,271.5 70.6,270.3 71.0,269.5 C71.4,268.7 71.4,268.2 72.3,267.7 C73.2,267.2 75.1,266.5 76.5,266.5 Z" fill="#b07c70" filter="url(#bl0)"/>
<path d="M76.5,266.5 C77.9,266.5 79.5,267.2 80.4,267.7 C81.3,268.2 81.6,268.7 82.0,269.5 C82.4,270.3 82.9,271.5 82.9,272.6 C83.0,273.6 82.7,274.8 82.3,275.6 C81.9,276.4 81.4,276.9 80.5,277.4 C79.5,277.9 77.8,278.6 76.5,278.6 C75.2,278.6 73.5,277.9 72.6,277.4 C71.6,276.9 71.4,276.4 70.9,275.6 C70.5,274.8 69.8,273.6 69.8,272.6 C69.8,271.5 70.6,270.3 71.0,269.5 C71.4,268.7 71.4,268.2 72.3,267.7 C73.2,267.2 75.1,266.5 76.5,266.5 Z" fill="none" stroke="#000" stroke-opacity="0.08" stroke-width="1.6" filter="url(#bl1)"/>
<ellipse cx="77.8" cy="268.1" rx="1.9" ry="1.5" fill="#d8a898" opacity="0.4" filter="url(#bl1)"/>
<ellipse cx="77.4" cy="272.3" rx="1.9" ry="1.5" fill="#d8a898" opacity="0.4" filter="url(#bl1)"/>
<ellipse cx="77.1" cy="277.6" rx="1.9" ry="1.5" fill="#d8a898" opacity="0.4" filter="url(#bl1)"/>
<ellipse cx="74.4" cy="269.1" rx="1.1" ry="0.7" fill="#ffffff" opacity="0.85"/>
<path d="M112.5,264.5 C113.6,264.5 115.0,265.1 115.8,265.6 C116.6,266.1 116.8,266.5 117.2,267.2 C117.5,268.0 117.8,269.1 117.9,270.0 C117.9,270.9 117.8,272.0 117.5,272.8 C117.2,273.5 116.8,273.9 116.0,274.4 C115.1,274.9 113.7,275.5 112.5,275.5 C111.3,275.5 109.7,274.9 109.0,274.4 C108.2,273.9 108.2,273.5 107.9,272.8 C107.5,272.0 107.1,270.9 107.0,270.0 C106.9,269.1 107.2,268.0 107.5,267.2 C107.8,266.5 108.2,266.1 109.0,265.6 C109.9,265.1 111.4,264.5 112.5,264.5 Z" fill="#a87064" filter="url(#bl0)"/>
<path d="M112.5,264.5 C113.6,264.5 115.0,265.1 115.8,265.6 C116.6,266.1 116.8,266.5 117.2,267.2 C117.5,268.0 117.8,269.1 117.9,270.0 C117.9,270.9 117.8,272.0 117.5,272.8 C117.2,273.5 116.8,273.9 116.0,274.4 C115.1,274.9 113.7,275.5 112.5,275.5 C111.3,275.5 109.7,274.9 109.0,274.4 C108.2,273.9 108.2,273.5 107.9,272.8 C107.5,272.0 107.1,270.9 107.0,270.0 C106.9,269.1 107.2,268.0 107.5,267.2 C107.8,266.5 108.2,266.1 109.0,265.6 C109.9,265.1 111.4,264.5 112.5,264.5 Z" fill="none" stroke="#000" stroke-opacity="0.08" stroke-width="1.6" filter="url(#bl1)"/>
<ellipse cx="114.3" cy="268.8" rx="1.6" ry="1.3" fill="#d8a898" opacity="0.4" filter="url(#bl1)"/>
<ellipse cx="112.9" cy="268.0" rx="1.6" ry="1.3" fill="#d8a898" opacity="0.4" filter="url(#bl1)"/>
<ellipse cx="113.8" cy="271.3" rx="1.6" ry="1.3" fill="#d8a898" opacity="0.4" filter="url(#bl1)"/>
<ellipse cx="110.3" cy="271.5" rx="1.1" ry="0.7" fill="#ffffff" opacity="0.85"/>
<path d="M128.0,264.5 C129.1,264.5 130.7,265.1 131.5,265.6 C132.3,266.1 132.5,266.5 132.9,267.2 C133.3,268.0 133.7,269.1 133.7,270.0 C133.6,270.9 133.1,272.0 132.7,272.8 C132.4,273.5 132.3,273.9 131.5,274.4 C130.7,274.9 129.1,275.5 128.0,275.5 C126.8,275.5 125.2,274.9 124.3,274.4 C123.5,273.9 123.2,273.5 122.9,272.8 C122.6,272.0 122.6,270.9 122.6,270.0 C122.6,269.1 122.7,268.0 123.0,267.2 C123.3,266.5 123.6,266.1 124.4,265.6 C125.2,265.1 126.8,264.5 128.0,264.5 Z" fill="#ac7668" filter="url(#bl0)"/>
<path d="M128.0,264.5 C129.1,264.5 130.7,265.1 131.5,265.6 C132.3,266.1 132.5,266.5 132.9,267.2 C133.3,268.0 133.7,269.1 133.7,270.0 C133.6,270.9 133.1,272.0 132.7,272.8 C132.4,273.5 132.3,273.9 131.5,274.4 C130.7,274.9 129.1,275.5 128.0,275.5 C126.8,275.5 125.2,274.9 124.3,274.4 C123.5,273.9 123.2,273.5 122.9,272.8 C122.6,272.0 122.6,270.9 122.6,270.0 C122.6,269.1 122.7,268.0 123.0,267.2 C123.3,266.5 123.6,266.1 124.4,265.6 C125.2,265.1 126.8,264.5 128.0,264.5 Z" fill="none" stroke="#000" stroke-opacity="0.08" stroke-width="1.6" filter="url(#bl1)"/>
<ellipse cx="128.7" cy="269.1" rx="1.7" ry="1.3" fill="#d8a898" opacity="0.4" filter="url(#bl1)"/>
<ellipse cx="128.7" cy="269.8" rx="1.7" ry="1.3" fill="#d8a898" opacity="0.4" filter="url(#bl1)"/>
<ellipse cx="129.8" cy="273.3" rx="1.7" ry="1.3" fill="#d8a898" opacity="0.4" filter="url(#bl1)"/>
<ellipse cx="127.2" cy="268.7" rx="1.1" ry="0.7" fill="#ffffff" opacity="0.85"/>
<path d="M174.0,268.5 C175.7,268.5 177.9,269.4 179.1,270.0 C180.2,270.6 180.6,271.2 181.1,272.2 C181.6,273.2 182.2,274.8 182.3,276.0 C182.3,277.2 181.8,278.8 181.3,279.8 C180.8,280.8 180.5,281.4 179.2,282.0 C178.0,282.6 175.7,283.5 174.0,283.5 C172.3,283.5 170.2,282.6 169.0,282.0 C167.8,281.4 167.1,280.8 166.7,279.8 C166.2,278.8 166.0,277.2 166.1,276.0 C166.1,274.8 166.6,273.2 167.1,272.2 C167.6,271.2 168.0,270.6 169.2,270.0 C170.3,269.4 172.3,268.5 174.0,268.5 Z" fill="#bc8878" filter="url(#bl0)"/>
<path d="M174.0,268.5 C175.7,268.5 177.9,269.4 179.1,270.0 C180.2,270.6 180.6,271.2 181.1,272.2 C181.6,273.2 182.2,274.8 182.3,276.0 C182.3,277.2 181.8,278.8 181.3,279.8 C180.8,280.8 180.5,281.4 179.2,282.0 C178.0,282.6 175.7,283.5 174.0,283.5 C172.3,283.5 170.2,282.6 169.0,282.0 C167.8,281.4 167.1,280.8 166.7,279.8 C166.2,278.8 166.0,277.2 166.1,276.0 C166.1,274.8 166.6,273.2 167.1,272.2 C167.6,271.2 168.0,270.6 169.2,270.0 C170.3,269.4 172.3,268.5 174.0,268.5 Z" fill="none" stroke="#000" stroke-opacity="0.08" stroke-width="1.6" filter="url(#bl1)"/>
<ellipse cx="175.0" cy="270.9" rx="2.4" ry="1.8" fill="#d8a898" opacity="0.4" filter="url(#bl1)"/>
<ellipse cx="174.2" cy="276.4" rx="2.4" ry="1.8" fill="#d8a898" opacity="0.4" filter="url(#bl1)"/>
<ellipse cx="176.0" cy="280.8" rx="2.4" ry="1.8" fill="#d8a898" opacity="0.4" filter="url(#bl1)"/>
<ellipse cx="171.4" cy="272.1" rx="1.1" ry="0.7" fill="#ffffff" opacity="0.85"/>
<path d="M195.0,264.5 C196.7,264.5 198.9,265.3 200.1,265.9 C201.3,266.5 201.7,267.1 202.2,268.0 C202.7,268.9 203.2,270.3 203.2,271.5 C203.2,272.7 202.8,274.1 202.3,275.0 C201.7,275.9 201.2,276.5 199.9,277.1 C198.7,277.7 196.7,278.5 195.0,278.5 C193.3,278.5 190.9,277.7 189.7,277.1 C188.5,276.5 188.4,275.9 187.9,275.0 C187.4,274.1 186.8,272.7 186.8,271.5 C186.8,270.3 187.3,268.9 187.8,268.0 C188.3,267.1 188.5,266.5 189.7,265.9 C190.9,265.3 193.3,264.5 195.0,264.5 Z" fill="#c09080" filter="url(#bl0)"/>
<path d="M195.0,264.5 C196.7,264.5 198.9,265.3 200.1,265.9 C201.3,266.5 201.7,267.1 202.2,268.0 C202.7,268.9 203.2,270.3 203.2,271.5 C203.2,272.7 202.8,274.1 202.3,275.0 C201.7,275.9 201.2,276.5 199.9,277.1 C198.7,277.7 196.7,278.5 195.0,278.5 C193.3,278.5 190.9,277.7 189.7,277.1 C188.5,276.5 188.4,275.9 187.9,275.0 C187.4,274.1 186.8,272.7 186.8,271.5 C186.8,270.3 187.3,268.9 187.8,268.0 C188.3,267.1 188.5,266.5 189.7,265.9 C190.9,265.3 193.3,264.5 195.0,264.5 Z" fill="none" stroke="#000" stroke-opacity="0.08" stroke-width="1.6" filter="url(#bl1)"/>
<ellipse cx="195.2" cy="267.5" rx="2.4" ry="1.7" fill="#d8a898" opacity="0.4" filter="url(#bl1)"/>
<ellipse cx="196.8" cy="271.8" rx="2.4" ry="1.7" fill="#d8a898" opacity="0.4" filter="url(#bl1)"/>
<ellipse cx="196.9" cy="274.5" rx="2.4" ry="1.7" fill="#d8a898" opacity="0.4" filter="url(#bl1)"/>
<ellipse cx="198.7" cy="267.4" rx="1.1" ry="0.7" fill="#ffffff" opacity="0.85"/>
<path d="M229.7,263.5 C231.1,263.5 232.8,264.4 233.9,265.0 C234.9,265.6 235.4,266.2 235.9,267.2 C236.3,268.2 236.7,269.8 236.7,271.0 C236.7,272.2 236.3,273.8 235.8,274.8 C235.4,275.8 235.1,276.4 234.1,277.0 C233.0,277.6 231.2,278.5 229.7,278.5 C228.2,278.5 226.2,277.6 225.3,277.0 C224.4,276.4 224.5,275.8 224.1,274.8 C223.7,273.8 222.9,272.2 222.9,271.0 C222.9,269.8 223.6,268.2 224.0,267.2 C224.4,266.2 224.4,265.6 225.4,265.0 C226.3,264.4 228.3,263.5 229.7,263.5 Z" fill="#b07a6e" filter="url(#bl0)"/>
<path d="M229.7,263.5 C231.1,263.5 232.8,264.4 233.9,265.0 C234.9,265.6 235.4,266.2 235.9,267.2 C236.3,268.2 236.7,269.8 236.7,271.0 C236.7,272.2 236.3,273.8 235.8,274.8 C235.4,275.8 235.1,276.4 234.1,277.0 C233.0,277.6 231.2,278.5 229.7,278.5 C228.2,278.5 226.2,277.6 225.3,277.0 C224.4,276.4 224.5,275.8 224.1,274.8 C223.7,273.8 222.9,272.2 222.9,271.0 C222.9,269.8 223.6,268.2 224.0,267.2 C224.4,266.2 224.4,265.6 225.4,265.0 C226.3,264.4 228.3,263.5 229.7,263.5 Z" fill="none" stroke="#000" stroke-opacity="0.08" stroke-width="1.6" filter="url(#bl1)"/>
<ellipse cx="230.3" cy="267.5" rx="2.0" ry="1.8" fill="#d8a898" opacity="0.4" filter="url(#bl1)"/>
<ellipse cx="230.7" cy="271.3" rx="2.0" ry="1.8" fill="#d8a898" opacity="0.4" filter="url(#bl1)"/>
<ellipse cx="231.5" cy="276.7" rx="2.0" ry="1.8" fill="#d8a898" opacity="0.4" filter="url(#bl1)"/>
<ellipse cx="229.1" cy="273.8" rx="1.1" ry="0.7" fill="#ffffff" opacity="0.85"/>
<path d="M250.4,265.5 C252.3,265.5 255.0,266.2 256.3,266.7 C257.5,267.2 257.5,267.7 258.1,268.5 C258.6,269.3 259.5,270.5 259.6,271.5 C259.7,272.5 259.2,273.7 258.7,274.5 C258.1,275.3 257.7,275.8 256.4,276.3 C255.0,276.8 252.4,277.5 250.4,277.5 C248.5,277.5 246.1,276.8 244.7,276.3 C243.4,275.8 242.9,275.3 242.4,274.5 C241.9,273.7 241.5,272.5 241.5,271.5 C241.5,270.5 241.9,269.3 242.5,268.5 C243.1,267.7 243.6,267.2 245.0,266.7 C246.3,266.2 248.6,265.5 250.4,265.5 Z" fill="#c08e7e" filter="url(#bl0)"/>
<path d="M250.4,265.5 C252.3,265.5 255.0,266.2 256.3,266.7 C257.5,267.2 257.5,267.7 258.1,268.5 C258.6,269.3 259.5,270.5 259.6,271.5 C259.7,272.5 259.2,273.7 258.7,274.5 C258.1,275.3 257.7,275.8 256.4,276.3 C255.0,276.8 252.4,277.5 250.4,277.5 C248.5,277.5 246.1,276.8 244.7,276.3 C243.4,275.8 242.9,275.3 242.4,274.5 C241.9,273.7 241.5,272.5 241.5,271.5 C241.5,270.5 241.9,269.3 242.5,268.5 C243.1,267.7 243.6,267.2 245.0,266.7 C246.3,266.2 248.6,265.5 250.4,265.5 Z" fill="none" stroke="#000" stroke-opacity="0.08" stroke-width="1.6" filter="url(#bl1)"/>
<ellipse cx="252.3" cy="268.9" rx="2.7" ry="1.4" fill="#d8a898" opacity="0.4" filter="url(#bl1)"/>
<ellipse cx="250.7" cy="271.0" rx="2.7" ry="1.4" fill="#d8a898" opacity="0.4" filter="url(#bl1)"/>
<ellipse cx="252.5" cy="274.3" rx="2.7" ry="1.4" fill="#d8a898" opacity="0.4" filter="url(#bl1)"/>
<ellipse cx="254.6" cy="274.9" rx="1.1" ry="0.7" fill="#ffffff" opacity="0.85"/>
</g>
<rect x="20.5" y="165.6" width="255.2" height="121.4" fill="none" stroke="#333" stroke-width="1.2" />
<rect x="22.5" y="170.3" width="30.2" height="15.0" fill="#fff" stroke="#111" stroke-width="1" />
<text x="37.6" y="181.0" font-size="12" text-anchor="middle">1 cm</text>
<line x1="31.0" y1="183.3" x2="44.0" y2="183.3" stroke="#222" stroke-width="1.1"/>
<text x="293.88" y="9.00" font-size="13.5" textLength="6.61" lengthAdjust="spacingAndGlyphs" font-weight="bold">b</text>
<line x1="341.0" y1="9.1" x2="355.0" y2="9.1" stroke="#000" stroke-width="1.7"/>
<circle cx="348.0" cy="9.1" r="2.7" fill="#000"/>
<text x="358.3" y="12.9" font-size="13" font-style="italic" fill="#000" textLength="83.9" lengthAdjust="spacingAndGlyphs">Fundc1<tspan font-size="7.8" dy="-5.2">f/Y</tspan><tspan dy="5.2">Cdh5</tspan><tspan font-size="8.6" dy="-5.2">-</tspan></text>
<line x1="341.0" y1="24.7" x2="355.0" y2="24.7" stroke="#e8372a" stroke-width="1.7"/>
<polygon points="348.0,21.6 345.1,26.8 350.9,26.8" fill="#e8372a"/>
<text x="359.2" y="30.0" font-size="13" font-style="italic" fill="#e8372a" textLength="86.2" lengthAdjust="spacingAndGlyphs">Fundc1<tspan font-size="7.8" dy="-5.2">f/Y</tspan><tspan dy="5.2">Cdh5</tspan><tspan font-size="8.6" dy="-5.2">+</tspan></text>
<line x1="449.5" y1="7.2" x2="449.5" y2="24.7" stroke="#000" stroke-width="1.2"/>
<text x="452.09" y="20.00" font-size="13.3" textLength="34.99" lengthAdjust="spacingAndGlyphs">Saline</text>
<line x1="500.0" y1="9.1" x2="514.0" y2="9.1" stroke="#000" stroke-width="1.7"/>
<circle cx="507.0" cy="9.1" r="2.2" fill="#fff" stroke="#000" stroke-width="1.3"/>
<text x="516.8" y="12.9" font-size="13" font-style="italic" fill="#000" textLength="83.4" lengthAdjust="spacingAndGlyphs">Fundc1<tspan font-size="7.8" dy="-5.2">f/Y</tspan><tspan dy="5.2">Cdh5</tspan><tspan font-size="8.6" dy="-5.2">-</tspan></text>
<line x1="500.0" y1="24.7" x2="514.0" y2="24.7" stroke="#e8372a" stroke-width="1.7"/>
<polygon points="507.0,21.7 504.2,26.7 509.8,26.7" fill="#fff" stroke="#e8372a" stroke-width="1.2"/>
<text x="517.7" y="30.0" font-size="13" font-style="italic" fill="#e8372a" textLength="85.5" lengthAdjust="spacingAndGlyphs">Fundc1<tspan font-size="7.8" dy="-5.2">f/Y</tspan><tspan dy="5.2">Cdh5</tspan><tspan font-size="8.6" dy="-5.2">+</tspan></text>
<line x1="609.6" y1="7.0" x2="609.6" y2="23.6" stroke="#000" stroke-width="1.2"/>
<text x="613.58" y="18.00" font-size="13.3" textLength="27.64" lengthAdjust="spacingAndGlyphs">ET-1</text>
<line x1="345.6" y1="48.9" x2="345.6" y2="115.0" stroke="#000" stroke-width="1.5"/>
<line x1="342.8" y1="108.3" x2="345.6" y2="108.3" stroke="#000" stroke-width="1.275"/>
<text x="340.40" y="112.40" font-size="12.3" textLength="13.80" lengthAdjust="spacingAndGlyphs" text-anchor="end">24</text>
<line x1="342.8" y1="85.0" x2="345.6" y2="85.0" stroke="#000" stroke-width="1.275"/>
<text x="340.40" y="89.10" font-size="12.3" textLength="13.80" lengthAdjust="spacingAndGlyphs" text-anchor="end">40</text>
<line x1="342.8" y1="61.7" x2="345.6" y2="61.7" stroke="#000" stroke-width="1.275"/>
<text x="340.40" y="65.81" font-size="12.3" textLength="13.80" lengthAdjust="spacingAndGlyphs" text-anchor="end">56</text>
<line x1="342.8" y1="96.7" x2="345.6" y2="96.7" stroke="#000" stroke-width="1.275"/>
<line x1="342.8" y1="73.4" x2="345.6" y2="73.4" stroke="#000" stroke-width="1.275"/>
<line x1="344.9" y1="114.3" x2="430.0" y2="114.3" stroke="#000" stroke-width="1.5"/>
<line x1="352.3" y1="114.3" x2="352.3" y2="117.5" stroke="#000" stroke-width="1.275"/>
<text x="352.30" y="131.70" font-size="12.3" textLength="6.90" lengthAdjust="spacingAndGlyphs" text-anchor="middle">0</text>
<line x1="366.3" y1="114.3" x2="366.3" y2="117.5" stroke="#000" stroke-width="1.275"/>
<text x="366.34" y="131.70" font-size="12.3" textLength="6.90" lengthAdjust="spacingAndGlyphs" text-anchor="middle">1</text>
<line x1="380.4" y1="114.3" x2="380.4" y2="117.5" stroke="#000" stroke-width="1.275"/>
<text x="380.38" y="131.70" font-size="12.3" textLength="6.90" lengthAdjust="spacingAndGlyphs" text-anchor="middle">2</text>
<line x1="394.4" y1="114.3" x2="394.4" y2="117.5" stroke="#000" stroke-width="1.275"/>
<text x="394.42" y="131.70" font-size="12.3" textLength="6.90" lengthAdjust="spacingAndGlyphs" text-anchor="middle">3</text>
<line x1="408.5" y1="114.3" x2="408.5" y2="117.5" stroke="#000" stroke-width="1.275"/>
<text x="408.46" y="131.70" font-size="12.3" textLength="6.90" lengthAdjust="spacingAndGlyphs" text-anchor="middle">4</text>
<line x1="422.5" y1="114.3" x2="422.5" y2="117.5" stroke="#000" stroke-width="1.275"/>
<text x="422.50" y="131.70" font-size="12.3" textLength="6.90" lengthAdjust="spacingAndGlyphs" text-anchor="middle">5</text>
<text x="293.79" y="131.30" font-size="13.3" textLength="50.48" lengthAdjust="spacingAndGlyphs">(Months)</text>
<text x="332.90" y="145.70" font-size="13.3" textLength="107.72" lengthAdjust="spacingAndGlyphs">HFD feeding period</text>
<text x="301.20" y="112.30" font-size="13.3" textLength="67.81" lengthAdjust="spacingAndGlyphs" transform="rotate(-90 301.20 112.30)">Body weight</text>
<text x="318.50" y="108.72" font-size="13.3" textLength="58.28" lengthAdjust="spacingAndGlyphs" transform="rotate(-90 318.50 108.72)">of mice (g)</text>
<line x1="366.3" y1="96.6" x2="366.3" y2="94.6" stroke="#e8372a" stroke-width="1.1"/>
<line x1="363.8" y1="94.6" x2="368.8" y2="94.6" stroke="#e8372a" stroke-width="1.1"/>
<line x1="380.4" y1="88.0" x2="380.4" y2="86.0" stroke="#e8372a" stroke-width="1.1"/>
<line x1="377.9" y1="86.0" x2="382.9" y2="86.0" stroke="#e8372a" stroke-width="1.1"/>
<line x1="394.4" y1="85.6" x2="394.4" y2="83.6" stroke="#e8372a" stroke-width="1.1"/>
<line x1="391.9" y1="83.6" x2="396.9" y2="83.6" stroke="#e8372a" stroke-width="1.1"/>
<line x1="408.5" y1="84.4" x2="408.5" y2="82.4" stroke="#e8372a" stroke-width="1.1"/>
<line x1="406.0" y1="82.4" x2="411.0" y2="82.4" stroke="#e8372a" stroke-width="1.1"/>
<line x1="422.5" y1="83.6" x2="422.5" y2="81.6" stroke="#e8372a" stroke-width="1.1"/>
<line x1="420.0" y1="81.6" x2="425.0" y2="81.6" stroke="#e8372a" stroke-width="1.1"/>
<polyline points="352.3,104.4 366.3,96.6 380.4,88.0 394.4,85.6 408.5,84.4 422.5,83.6" fill="none" stroke="#e8372a" stroke-width="1.4" stroke-linejoin="round"/>
<polygon points="352.3,101.7 349.8,106.2 354.8,106.2" fill="#e8372a"/>
<polygon points="366.3,93.9 363.8,98.4 368.8,98.4" fill="#e8372a"/>
<polygon points="380.4,85.3 377.9,89.8 382.9,89.8" fill="#e8372a"/>
<polygon points="394.4,82.9 391.9,87.4 396.9,87.4" fill="#e8372a"/>
<polygon points="408.5,81.7 406.0,86.2 411.0,86.2" fill="#e8372a"/>
<polygon points="422.5,80.9 420.0,85.4 425.0,85.4" fill="#e8372a"/>
<line x1="366.3" y1="92.4" x2="366.3" y2="90.4" stroke="#000" stroke-width="1.1"/>
<line x1="363.8" y1="90.4" x2="368.8" y2="90.4" stroke="#000" stroke-width="1.1"/>
<line x1="380.4" y1="83.0" x2="380.4" y2="81.0" stroke="#000" stroke-width="1.1"/>
<line x1="377.9" y1="81.0" x2="382.9" y2="81.0" stroke="#000" stroke-width="1.1"/>
<line x1="394.4" y1="79.4" x2="394.4" y2="77.4" stroke="#000" stroke-width="1.1"/>
<line x1="391.9" y1="77.4" x2="396.9" y2="77.4" stroke="#000" stroke-width="1.1"/>
<line x1="408.5" y1="76.6" x2="408.5" y2="74.6" stroke="#000" stroke-width="1.1"/>
<line x1="406.0" y1="74.6" x2="411.0" y2="74.6" stroke="#000" stroke-width="1.1"/>
<line x1="422.5" y1="73.4" x2="422.5" y2="71.4" stroke="#000" stroke-width="1.1"/>
<line x1="420.0" y1="71.4" x2="425.0" y2="71.4" stroke="#000" stroke-width="1.1"/>
<polyline points="352.3,104.4 366.3,92.4 380.4,83.0 394.4,79.4 408.5,76.6 422.5,73.4" fill="none" stroke="#000" stroke-width="1.4" stroke-linejoin="round"/>
<circle cx="352.3" cy="104.4" r="2.3" fill="#000"/>
<circle cx="366.3" cy="92.4" r="2.3" fill="#000"/>
<circle cx="380.4" cy="83.0" r="2.3" fill="#000"/>
<circle cx="394.4" cy="79.4" r="2.3" fill="#000"/>
<circle cx="408.5" cy="76.6" r="2.3" fill="#000"/>
<circle cx="422.5" cy="73.4" r="2.3" fill="#000"/>
<line x1="366.3" y1="91.6" x2="366.3" y2="89.4" stroke="#e8372a" stroke-width="1.1"/>
<line x1="363.8" y1="89.4" x2="368.8" y2="89.4" stroke="#e8372a" stroke-width="1.1"/>
<line x1="380.4" y1="79.0" x2="380.4" y2="76.8" stroke="#e8372a" stroke-width="1.1"/>
<line x1="377.9" y1="76.8" x2="382.9" y2="76.8" stroke="#e8372a" stroke-width="1.1"/>
<line x1="394.4" y1="74.4" x2="394.4" y2="72.2" stroke="#e8372a" stroke-width="1.1"/>
<line x1="391.9" y1="72.2" x2="396.9" y2="72.2" stroke="#e8372a" stroke-width="1.1"/>
<line x1="408.5" y1="72.0" x2="408.5" y2="69.8" stroke="#e8372a" stroke-width="1.1"/>
<line x1="406.0" y1="69.8" x2="411.0" y2="69.8" stroke="#e8372a" stroke-width="1.1"/>
<line x1="422.5" y1="70.4" x2="422.5" y2="68.2" stroke="#e8372a" stroke-width="1.1"/>
<line x1="420.0" y1="68.2" x2="425.0" y2="68.2" stroke="#e8372a" stroke-width="1.1"/>
<polyline points="352.3,104.4 366.3,91.6 380.4,79.0 394.4,74.4 408.5,72.0 422.5,70.4" fill="none" stroke="#e8372a" stroke-width="1.4" stroke-linejoin="round" stroke-dasharray="3.5,2"/>
<polygon points="352.3,101.7 349.8,106.2 354.8,106.2" fill="none" stroke="#e8372a" stroke-width="1.1"/>
<polygon points="366.3,88.9 363.8,93.4 368.8,93.4" fill="none" stroke="#e8372a" stroke-width="1.1"/>
<polygon points="380.4,76.3 377.9,80.8 382.9,80.8" fill="none" stroke="#e8372a" stroke-width="1.1"/>
<polygon points="394.4,71.7 391.9,76.2 396.9,76.2" fill="none" stroke="#e8372a" stroke-width="1.1"/>
<polygon points="408.5,69.3 406.0,73.8 411.0,73.8" fill="none" stroke="#e8372a" stroke-width="1.1"/>
<polygon points="422.5,67.7 420.0,72.2 425.0,72.2" fill="none" stroke="#e8372a" stroke-width="1.1"/>
<line x1="366.3" y1="90.0" x2="366.3" y2="87.4" stroke="#000" stroke-width="1.1"/>
<line x1="363.8" y1="87.4" x2="368.8" y2="87.4" stroke="#000" stroke-width="1.1"/>
<line x1="380.4" y1="77.4" x2="380.4" y2="74.8" stroke="#000" stroke-width="1.1"/>
<line x1="377.9" y1="74.8" x2="382.9" y2="74.8" stroke="#000" stroke-width="1.1"/>
<line x1="394.4" y1="71.0" x2="394.4" y2="68.4" stroke="#000" stroke-width="1.1"/>
<line x1="391.9" y1="68.4" x2="396.9" y2="68.4" stroke="#000" stroke-width="1.1"/>
<line x1="408.5" y1="67.4" x2="408.5" y2="64.8" stroke="#000" stroke-width="1.1"/>
<line x1="406.0" y1="64.8" x2="411.0" y2="64.8" stroke="#000" stroke-width="1.1"/>
<line x1="422.5" y1="63.0" x2="422.5" y2="60.4" stroke="#000" stroke-width="1.1"/>
<line x1="420.0" y1="60.4" x2="425.0" y2="60.4" stroke="#000" stroke-width="1.1"/>
<polyline points="352.3,104.4 366.3,90.0 380.4,77.4 394.4,71.0 408.5,67.4 422.5,63.0" fill="none" stroke="#000" stroke-width="1.4" stroke-linejoin="round" stroke-dasharray="3.5,2"/>
<circle cx="352.3" cy="104.4" r="1.9549999999999998" fill="none" stroke="#000" stroke-width="1.4"/>
<circle cx="366.3" cy="90.0" r="1.9549999999999998" fill="none" stroke="#000" stroke-width="1.4"/>
<circle cx="380.4" cy="77.4" r="1.9549999999999998" fill="none" stroke="#000" stroke-width="1.4"/>
<circle cx="394.4" cy="71.0" r="1.9549999999999998" fill="none" stroke="#000" stroke-width="1.4"/>
<circle cx="408.5" cy="67.4" r="1.9549999999999998" fill="none" stroke="#000" stroke-width="1.4"/>
<circle cx="422.5" cy="63.0" r="1.9549999999999998" fill="none" stroke="#000" stroke-width="1.4"/>
<text x="394.4" y="63.5" font-size="7.5" text-anchor="middle" font-weight="bold">#</text>
<text x="408.5" y="60.5" font-size="7.5" text-anchor="middle" font-weight="bold">#</text>
<text x="422.5" y="54.0" font-size="7.5" text-anchor="middle" font-weight="bold">#</text>
<text x="408.5" y="97.0" font-size="10" text-anchor="middle" font-weight="bold">*</text>
<text x="422.5" y="97.0" font-size="10" text-anchor="middle" font-weight="bold" letter-spacing="-0.6">**</text>
<line x1="498.6" y1="50.7" x2="498.6" y2="129.4" stroke="#000" stroke-width="1.5"/>
<line x1="496.0" y1="128.7" x2="498.6" y2="128.7" stroke="#000" stroke-width="1.275"/>
<text x="493.50" y="132.80" font-size="12.3" textLength="6.90" lengthAdjust="spacingAndGlyphs" text-anchor="end">0</text>
<line x1="496.0" y1="111.4" x2="498.6" y2="111.4" stroke="#000" stroke-width="1.275"/>
<text x="493.50" y="115.50" font-size="12.3" textLength="13.80" lengthAdjust="spacingAndGlyphs" text-anchor="end">15</text>
<line x1="496.0" y1="94.1" x2="498.6" y2="94.1" stroke="#000" stroke-width="1.275"/>
<text x="493.50" y="98.21" font-size="12.3" textLength="13.80" lengthAdjust="spacingAndGlyphs" text-anchor="end">30</text>
<line x1="496.0" y1="76.8" x2="498.6" y2="76.8" stroke="#000" stroke-width="1.275"/>
<text x="493.50" y="80.91" font-size="12.3" textLength="13.80" lengthAdjust="spacingAndGlyphs" text-anchor="end">45</text>
<line x1="496.0" y1="59.5" x2="498.6" y2="59.5" stroke="#000" stroke-width="1.275"/>
<text x="493.50" y="63.62" font-size="12.3" textLength="13.80" lengthAdjust="spacingAndGlyphs" text-anchor="end">60</text>
<line x1="497.9" y1="128.7" x2="674.0" y2="128.7" stroke="#000" stroke-width="1.5"/>
<line x1="504.8" y1="128.7" x2="504.8" y2="131.9" stroke="#000" stroke-width="1.275"/>
<line x1="517.4" y1="128.7" x2="517.4" y2="131.9" stroke="#000" stroke-width="1.275"/>
<line x1="530.0" y1="128.7" x2="530.0" y2="131.9" stroke="#000" stroke-width="1.275"/>
<line x1="542.6" y1="128.7" x2="542.6" y2="131.9" stroke="#000" stroke-width="1.275"/>
<line x1="567.6" y1="128.7" x2="567.6" y2="131.9" stroke="#000" stroke-width="1.275"/>
<line x1="580.4" y1="128.7" x2="580.4" y2="131.9" stroke="#000" stroke-width="1.275"/>
<line x1="593.0" y1="128.7" x2="593.0" y2="131.9" stroke="#000" stroke-width="1.275"/>
<line x1="605.3" y1="128.7" x2="605.3" y2="131.9" stroke="#000" stroke-width="1.275"/>
<line x1="630.5" y1="128.7" x2="630.5" y2="131.9" stroke="#000" stroke-width="1.275"/>
<line x1="643.2" y1="128.7" x2="643.2" y2="131.9" stroke="#000" stroke-width="1.275"/>
<line x1="655.8" y1="128.7" x2="655.8" y2="131.9" stroke="#000" stroke-width="1.275"/>
<line x1="668.4" y1="128.7" x2="668.4" y2="131.9" stroke="#000" stroke-width="1.275"/>
<line x1="555.6" y1="128.7" x2="555.6" y2="131.9" stroke="#000" stroke-width="1.275"/>
<line x1="618.0" y1="128.7" x2="618.0" y2="131.9" stroke="#000" stroke-width="1.275"/>
<rect x="501.0" y="96.4" width="7.6" height="32.3" fill="#bdbdbd" stroke="#000" stroke-width="1.4" />
<rect x="513.6" y="95.8" width="7.6" height="32.9" fill="#fff" stroke="#e8372a" stroke-width="1.4" />
<rect x="526.2" y="91.2" width="7.6" height="37.5" fill="#bdbdbd" stroke="#000" stroke-width="1.4" />
<rect x="538.8" y="94.6" width="7.6" height="34.1" fill="#fff" stroke="#e8372a" stroke-width="1.4" />
<rect x="563.8" y="73.4" width="7.6" height="55.3" fill="#bdbdbd" stroke="#000" stroke-width="1.4" />
<rect x="576.6" y="89.5" width="7.6" height="39.2" fill="#fff" stroke="#e8372a" stroke-width="1.4" />
<rect x="589.2" y="65.6" width="7.6" height="63.1" fill="#bdbdbd" stroke="#000" stroke-width="1.4" />
<rect x="601.5" y="69.3" width="7.6" height="59.4" fill="#fff" stroke="#e8372a" stroke-width="1.4" />
<rect x="626.7" y="121.8" width="7.6" height="6.9" fill="#bdbdbd" stroke="#000" stroke-width="1.4" />
<rect x="639.4" y="123.5" width="7.6" height="5.2" fill="#fff" stroke="#e8372a" stroke-width="1.4" />
<rect x="652.0" y="120.6" width="7.6" height="8.1" fill="#bdbdbd" stroke="#000" stroke-width="1.4" />
<rect x="664.6" y="121.0" width="7.6" height="7.7" fill="#fff" stroke="#e8372a" stroke-width="1.4" />
<circle cx="502.8" cy="94.1" r="2.1" fill="#000"/>
<circle cx="506.3" cy="91.8" r="2.1" fill="#000"/>
<circle cx="504.8" cy="97.6" r="2.1" fill="#000"/>
<circle cx="502.8" cy="101.0" r="2.1" fill="#000"/>
<circle cx="506.8" cy="89.5" r="2.1" fill="#000"/>
<circle cx="503.8" cy="103.3" r="2.1" fill="#000"/>
<circle cx="505.8" cy="96.4" r="2.1" fill="#000"/>
<polygon points="515.4,96.1 513.0,100.4 517.8,100.4" fill="#e8372a"/>
<polygon points="518.9,90.4 516.5,94.7 521.3,94.7" fill="#e8372a"/>
<polygon points="517.4,95.0 515.0,99.3 519.8,99.3" fill="#e8372a"/>
<polygon points="515.4,99.6 513.0,103.9 517.8,103.9" fill="#e8372a"/>
<polygon points="519.4,88.1 517.0,92.4 521.8,92.4" fill="#e8372a"/>
<polygon points="518.4,98.4 516.0,102.8 520.8,102.8" fill="#e8372a"/>
<polygon points="517.4,92.7 515.0,97.0 519.8,97.0" fill="#e8372a"/>
<circle cx="527.5" cy="88.3" r="2.205" fill="#fff" stroke="#000" stroke-width="1.2"/>
<circle cx="532.5" cy="89.5" r="2.205" fill="#fff" stroke="#000" stroke-width="1.2"/>
<circle cx="530.0" cy="93.0" r="2.205" fill="#fff" stroke="#000" stroke-width="1.2"/>
<circle cx="527.5" cy="95.3" r="2.205" fill="#fff" stroke="#000" stroke-width="1.2"/>
<circle cx="532.5" cy="96.4" r="2.205" fill="#fff" stroke="#000" stroke-width="1.2"/>
<circle cx="530.0" cy="98.7" r="2.205" fill="#fff" stroke="#000" stroke-width="1.2"/>
<polygon points="540.1,86.8 537.6,91.3 542.6,91.3" fill="#fff" stroke="#e8372a" stroke-width="1.1"/>
<polygon points="545.1,87.9 542.6,92.5 547.6,92.5" fill="#fff" stroke="#e8372a" stroke-width="1.1"/>
<polygon points="542.6,91.4 540.1,95.9 545.1,95.9" fill="#fff" stroke="#e8372a" stroke-width="1.1"/>
<polygon points="540.1,93.7 537.6,98.2 542.6,98.2" fill="#fff" stroke="#e8372a" stroke-width="1.1"/>
<polygon points="545.1,94.8 542.6,99.4 547.6,99.4" fill="#fff" stroke="#e8372a" stroke-width="1.1"/>
<polygon points="542.6,97.2 540.1,101.7 545.1,101.7" fill="#fff" stroke="#e8372a" stroke-width="1.1"/>
<circle cx="565.6" cy="73.4" r="2.1" fill="#000"/>
<circle cx="569.1" cy="75.7" r="2.1" fill="#000"/>
<circle cx="567.6" cy="78.0" r="2.1" fill="#000"/>
<circle cx="565.6" cy="72.2" r="2.1" fill="#000"/>
<circle cx="569.6" cy="74.5" r="2.1" fill="#000"/>
<circle cx="567.6" cy="81.4" r="2.1" fill="#000"/>
<circle cx="568.6" cy="76.8" r="2.1" fill="#000"/>
<polygon points="578.4,85.8 576.0,90.1 580.8,90.1" fill="#e8372a"/>
<polygon points="581.9,83.4 579.5,87.8 584.3,87.8" fill="#e8372a"/>
<polygon points="580.4,88.1 578.0,92.4 582.8,92.4" fill="#e8372a"/>
<polygon points="578.4,90.4 576.0,94.7 580.8,94.7" fill="#e8372a"/>
<polygon points="582.4,86.9 580.0,91.2 584.8,91.2" fill="#e8372a"/>
<polygon points="580.4,93.8 578.0,98.1 582.8,98.1" fill="#e8372a"/>
<polygon points="581.4,81.1 579.0,85.5 583.8,85.5" fill="#e8372a"/>
<circle cx="590.5" cy="63.0" r="2.205" fill="#fff" stroke="#000" stroke-width="1.2"/>
<circle cx="595.5" cy="63.0" r="2.205" fill="#fff" stroke="#000" stroke-width="1.2"/>
<circle cx="590.5" cy="67.6" r="2.205" fill="#fff" stroke="#000" stroke-width="1.2"/>
<circle cx="595.5" cy="67.6" r="2.205" fill="#fff" stroke="#000" stroke-width="1.2"/>
<circle cx="590.5" cy="72.2" r="2.205" fill="#fff" stroke="#000" stroke-width="1.2"/>
<circle cx="595.5" cy="71.6" r="2.205" fill="#fff" stroke="#000" stroke-width="1.2"/>
<circle cx="593.0" cy="75.7" r="2.205" fill="#fff" stroke="#000" stroke-width="1.2"/>
<polygon points="602.8,60.3 600.3,64.8 605.3,64.8" fill="#fff" stroke="#e8372a" stroke-width="1.1"/>
<polygon points="607.8,62.6 605.3,67.1 610.3,67.1" fill="#fff" stroke="#e8372a" stroke-width="1.1"/>
<polygon points="605.3,66.0 602.8,70.6 607.8,70.6" fill="#fff" stroke="#e8372a" stroke-width="1.1"/>
<polygon points="602.8,69.5 600.3,74.0 605.3,74.0" fill="#fff" stroke="#e8372a" stroke-width="1.1"/>
<polygon points="607.8,71.8 605.3,76.3 610.3,76.3" fill="#fff" stroke="#e8372a" stroke-width="1.1"/>
<polygon points="603.3,75.2 600.8,79.8 605.8,79.8" fill="#fff" stroke="#e8372a" stroke-width="1.1"/>
<polygon points="607.3,78.7 604.8,83.2 609.8,83.2" fill="#fff" stroke="#e8372a" stroke-width="1.1"/>
<circle cx="628.5" cy="120.6" r="2.1" fill="#000"/>
<circle cx="632.0" cy="120.1" r="2.1" fill="#000"/>
<circle cx="630.5" cy="121.8" r="2.1" fill="#000"/>
<circle cx="629.5" cy="120.6" r="2.1" fill="#000"/>
<polygon points="641.2,120.9 638.8,125.2 643.6,125.2" fill="#e8372a"/>
<polygon points="644.7,120.3 642.3,124.7 647.1,124.7" fill="#e8372a"/>
<polygon points="643.2,121.5 640.8,125.8 645.6,125.8" fill="#e8372a"/>
<polygon points="644.2,119.8 641.8,124.1 646.6,124.1" fill="#e8372a"/>
<circle cx="653.8" cy="120.1" r="2.205" fill="#fff" stroke="#000" stroke-width="1.2"/>
<circle cx="657.3" cy="119.5" r="2.205" fill="#fff" stroke="#000" stroke-width="1.2"/>
<circle cx="655.8" cy="120.6" r="2.205" fill="#fff" stroke="#000" stroke-width="1.2"/>
<circle cx="656.8" cy="120.1" r="2.205" fill="#fff" stroke="#000" stroke-width="1.2"/>
<polygon points="666.4,118.5 663.9,123.0 668.9,123.0" fill="#fff" stroke="#e8372a" stroke-width="1.1"/>
<polygon points="669.9,117.9 667.4,122.4 672.4,122.4" fill="#fff" stroke="#e8372a" stroke-width="1.1"/>
<polygon points="668.4,119.1 665.9,123.6 670.9,123.6" fill="#fff" stroke="#e8372a" stroke-width="1.1"/>
<polygon points="669.4,117.3 666.9,121.9 671.9,121.9" fill="#fff" stroke="#e8372a" stroke-width="1.1"/>
<line x1="504.8" y1="96.4" x2="504.8" y2="92.4" stroke="#000" stroke-width="1.1"/>
<line x1="502.3" y1="92.4" x2="507.3" y2="92.4" stroke="#000" stroke-width="1.1"/>
<line x1="517.4" y1="95.8" x2="517.4" y2="91.8" stroke="#e8372a" stroke-width="1.1"/>
<line x1="514.9" y1="91.8" x2="519.9" y2="91.8" stroke="#e8372a" stroke-width="1.1"/>
<line x1="530.0" y1="91.2" x2="530.0" y2="87.2" stroke="#000" stroke-width="1.1"/>
<line x1="527.5" y1="87.2" x2="532.5" y2="87.2" stroke="#000" stroke-width="1.1"/>
<line x1="542.6" y1="94.6" x2="542.6" y2="90.5" stroke="#e8372a" stroke-width="1.1"/>
<line x1="540.1" y1="90.5" x2="545.1" y2="90.5" stroke="#e8372a" stroke-width="1.1"/>
<line x1="567.6" y1="73.4" x2="567.6" y2="69.3" stroke="#000" stroke-width="1.1"/>
<line x1="565.1" y1="69.3" x2="570.1" y2="69.3" stroke="#000" stroke-width="1.1"/>
<line x1="580.4" y1="89.5" x2="580.4" y2="85.5" stroke="#e8372a" stroke-width="1.1"/>
<line x1="577.9" y1="85.5" x2="582.9" y2="85.5" stroke="#e8372a" stroke-width="1.1"/>
<line x1="593.0" y1="65.6" x2="593.0" y2="61.6" stroke="#000" stroke-width="1.1"/>
<line x1="590.5" y1="61.6" x2="595.5" y2="61.6" stroke="#000" stroke-width="1.1"/>
<line x1="605.3" y1="69.3" x2="605.3" y2="65.3" stroke="#e8372a" stroke-width="1.1"/>
<line x1="602.8" y1="65.3" x2="607.8" y2="65.3" stroke="#e8372a" stroke-width="1.1"/>
<line x1="630.5" y1="121.8" x2="630.5" y2="120.6" stroke="#000" stroke-width="1.1"/>
<line x1="628.0" y1="120.6" x2="633.0" y2="120.6" stroke="#000" stroke-width="1.1"/>
<line x1="643.2" y1="123.5" x2="643.2" y2="122.4" stroke="#e8372a" stroke-width="1.1"/>
<line x1="640.7" y1="122.4" x2="645.7" y2="122.4" stroke="#e8372a" stroke-width="1.1"/>
<line x1="655.8" y1="120.6" x2="655.8" y2="119.5" stroke="#000" stroke-width="1.1"/>
<line x1="653.3" y1="119.5" x2="658.3" y2="119.5" stroke="#000" stroke-width="1.1"/>
<line x1="668.4" y1="121.0" x2="668.4" y2="119.8" stroke="#e8372a" stroke-width="1.1"/>
<line x1="665.9" y1="119.8" x2="670.9" y2="119.8" stroke="#e8372a" stroke-width="1.1"/>
<path d="M504.8,82.4 V80.2 H517.4 V82.4" fill="none" stroke="#222" stroke-width="0.9"/>
<text x="511.1" y="77.2" font-size="8.6" text-anchor="middle" font-weight="bold">n.s.</text>
<path d="M504.8,69.6 V66.9 H530.0 V79.7" fill="none" stroke="#222" stroke-width="0.9"/>
<text x="517.4" y="63.9" font-size="8.6" text-anchor="middle" font-weight="bold">n.s.</text>
<path d="M530.0,79.2 V77.2 H542.6 V79.2" fill="none" stroke="#222" stroke-width="0.9"/>
<text x="536.3" y="74.0" font-size="8.6" text-anchor="middle" font-weight="bold">n.s.</text>
<path d="M517.4,57.0 V54.3 H542.6 V67.1" fill="none" stroke="#222" stroke-width="0.9"/>
<text x="530.0" y="51.0" font-size="8.6" text-anchor="middle" font-weight="bold">n.s.</text>
<path d="M567.6,68.1 V65.1 H580.4 V76.7" fill="none" stroke="#222" stroke-width="0.9"/>
<text x="574.0" y="66.8" font-size="10" text-anchor="middle" font-weight="bold" letter-spacing="-0.6">***</text>
<path d="M567.6,59.6 V57.4 H593.0 V59.0" fill="none" stroke="#222" stroke-width="0.9"/>
<text x="580.3" y="57.6" font-size="10" text-anchor="middle" font-weight="bold">*</text>
<path d="M593.0,59.0 V57.4 H605.3 V59.4" fill="none" stroke="#222" stroke-width="0.9"/>
<text x="599.1" y="55.6" font-size="8.6" text-anchor="middle" font-weight="bold">n.s.</text>
<path d="M580.4,49.0 V47.0 H605.3 V49.0" fill="none" stroke="#222" stroke-width="0.9"/>
<text x="592.8" y="47.1" font-size="10" text-anchor="middle" font-weight="bold">*</text>
<path d="M630.5,114.0 V111.0 H643.2 V115.0" fill="none" stroke="#222" stroke-width="0.9"/>
<text x="636.9" y="111.7" font-size="10" text-anchor="middle" font-weight="bold" letter-spacing="-0.6">**</text>
<path d="M630.5,107.6 V103.6 H655.8 V115.6" fill="none" stroke="#222" stroke-width="0.9"/>
<text x="643.1" y="100.0" font-size="8.6" text-anchor="middle" font-weight="bold">n.s.</text>
<path d="M655.8,113.0 V110.0 H668.4 V113.0" fill="none" stroke="#222" stroke-width="0.9"/>
<text x="662.1" y="108.0" font-size="8.6" text-anchor="middle" font-weight="bold">n.s.</text>
<path d="M643.2,93.6 V89.6 H668.4 V105.6" fill="none" stroke="#222" stroke-width="0.9"/>
<text x="655.8" y="86.0" font-size="8.6" text-anchor="middle" font-weight="bold">n.s.</text>
<text x="508.60" y="145.00" font-size="13.3" textLength="45.58" lengthAdjust="spacingAndGlyphs">EpiWAT</text>
<text x="568.10" y="145.00" font-size="13.3" textLength="49.82" lengthAdjust="spacingAndGlyphs">SubWAT</text>
<text x="638.20" y="145.00" font-size="13.3" textLength="24.98" lengthAdjust="spacingAndGlyphs">BAT</text>
<text x="456.60" y="137.10" font-size="13.3" textLength="94.75" lengthAdjust="spacingAndGlyphs" transform="rotate(-90 456.60 137.10)">Relative fat tissue</text>
<text x="472.20" y="138.60" font-size="13.3" textLength="99.18" lengthAdjust="spacingAndGlyphs" transform="rotate(-90 472.20 138.60)">weight/BW (mg/g)</text>
<text x="292.89" y="171.00" font-size="13.5" textLength="6.46" lengthAdjust="spacingAndGlyphs" font-weight="bold">c</text>
<text x="388.45" y="172.40" font-size="13.3" textLength="26.74" lengthAdjust="spacingAndGlyphs">GTT</text>
<line x1="351.0" y1="191.1" x2="351.0" y2="258.4" stroke="#000" stroke-width="1.5"/>
<line x1="347.7" y1="244.5" x2="351.0" y2="244.5" stroke="#000" stroke-width="1.275"/>
<text x="345.30" y="248.58" font-size="12.3" textLength="20.70" lengthAdjust="spacingAndGlyphs" text-anchor="end">100</text>
<line x1="347.7" y1="217.9" x2="351.0" y2="217.9" stroke="#000" stroke-width="1.275"/>
<text x="345.30" y="222.04" font-size="12.3" textLength="20.70" lengthAdjust="spacingAndGlyphs" text-anchor="end">300</text>
<line x1="347.7" y1="191.4" x2="351.0" y2="191.4" stroke="#000" stroke-width="1.275"/>
<text x="345.30" y="195.50" font-size="12.3" textLength="20.70" lengthAdjust="spacingAndGlyphs" text-anchor="end">500</text>
<line x1="347.7" y1="231.2" x2="351.0" y2="231.2" stroke="#000" stroke-width="1.275"/>
<line x1="347.7" y1="204.7" x2="351.0" y2="204.7" stroke="#000" stroke-width="1.275"/>
<line x1="347.7" y1="257.8" x2="351.0" y2="257.8" stroke="#000" stroke-width="1.275"/>
<line x1="350.2" y1="257.6" x2="469.0" y2="257.6" stroke="#000" stroke-width="1.5"/>
<line x1="350.8" y1="257.6" x2="350.8" y2="260.8" stroke="#000" stroke-width="1.275"/>
<text x="350.80" y="272.60" font-size="12.3" textLength="6.90" lengthAdjust="spacingAndGlyphs" text-anchor="middle">0</text>
<line x1="378.0" y1="257.6" x2="378.0" y2="260.8" stroke="#000" stroke-width="1.275"/>
<text x="378.00" y="272.60" font-size="12.3" textLength="13.80" lengthAdjust="spacingAndGlyphs" text-anchor="middle">30</text>
<line x1="405.2" y1="257.6" x2="405.2" y2="260.8" stroke="#000" stroke-width="1.275"/>
<text x="405.20" y="272.60" font-size="12.3" textLength="13.80" lengthAdjust="spacingAndGlyphs" text-anchor="middle">60</text>
<line x1="432.4" y1="257.6" x2="432.4" y2="260.8" stroke="#000" stroke-width="1.275"/>
<text x="432.40" y="272.60" font-size="12.3" textLength="13.80" lengthAdjust="spacingAndGlyphs" text-anchor="middle">90</text>
<line x1="459.6" y1="257.6" x2="459.6" y2="260.8" stroke="#000" stroke-width="1.275"/>
<text x="459.60" y="272.60" font-size="12.3" textLength="20.70" lengthAdjust="spacingAndGlyphs" text-anchor="middle">120</text>
<text x="378.54" y="285.90" font-size="13.3" textLength="59.51" lengthAdjust="spacingAndGlyphs">Time (min)</text>
<text x="302.20" y="261.70" font-size="13.3" textLength="76.25" lengthAdjust="spacingAndGlyphs" transform="rotate(-90 302.20 261.70)">Blood glucose</text>
<text x="315.20" y="242.60" font-size="13.3" textLength="39.68" lengthAdjust="spacingAndGlyphs" transform="rotate(-90 315.20 242.60)">(mg/dl)</text>
<line x1="350.8" y1="243.6" x2="350.8" y2="235.0" stroke="#e8372a" stroke-width="1.1"/>
<line x1="348.3" y1="235.0" x2="353.3" y2="235.0" stroke="#e8372a" stroke-width="1.1"/>
<line x1="364.4" y1="230.4" x2="364.4" y2="224.0" stroke="#e8372a" stroke-width="1.1"/>
<line x1="361.9" y1="224.0" x2="366.9" y2="224.0" stroke="#e8372a" stroke-width="1.1"/>
<line x1="378.0" y1="230.6" x2="378.0" y2="225.0" stroke="#e8372a" stroke-width="1.1"/>
<line x1="375.5" y1="225.0" x2="380.5" y2="225.0" stroke="#e8372a" stroke-width="1.1"/>
<line x1="405.2" y1="234.0" x2="405.2" y2="229.0" stroke="#e8372a" stroke-width="1.1"/>
<line x1="402.7" y1="229.0" x2="407.7" y2="229.0" stroke="#e8372a" stroke-width="1.1"/>
<line x1="459.6" y1="238.0" x2="459.6" y2="235.0" stroke="#e8372a" stroke-width="1.1"/>
<line x1="457.1" y1="235.0" x2="462.1" y2="235.0" stroke="#e8372a" stroke-width="1.1"/>
<polyline points="350.8,243.6 364.4,230.4 378.0,230.6 405.2,234.0 459.6,238.0" fill="none" stroke="#e8372a" stroke-width="1.4" stroke-linejoin="round" stroke-dasharray="4,2.2"/>
<polygon points="350.8,240.9 348.3,245.4 353.3,245.4" fill="#e8372a"/>
<polygon points="364.4,227.7 361.9,232.2 366.9,232.2" fill="#e8372a"/>
<polygon points="378.0,227.9 375.5,232.4 380.5,232.4" fill="#e8372a"/>
<polygon points="405.2,231.3 402.7,235.8 407.7,235.8" fill="#e8372a"/>
<polygon points="459.6,235.3 457.1,239.8 462.1,239.8" fill="#e8372a"/>
<line x1="350.8" y1="240.0" x2="350.8" y2="237.0" stroke="#e8372a" stroke-width="1.1"/>
<line x1="348.3" y1="237.0" x2="353.3" y2="237.0" stroke="#e8372a" stroke-width="1.1"/>
<line x1="364.4" y1="204.4" x2="364.4" y2="192.4" stroke="#e8372a" stroke-width="1.1"/>
<line x1="361.9" y1="192.4" x2="366.9" y2="192.4" stroke="#e8372a" stroke-width="1.1"/>
<line x1="378.0" y1="204.0" x2="378.0" y2="194.0" stroke="#e8372a" stroke-width="1.1"/>
<line x1="375.5" y1="194.0" x2="380.5" y2="194.0" stroke="#e8372a" stroke-width="1.1"/>
<line x1="405.2" y1="214.0" x2="405.2" y2="202.0" stroke="#e8372a" stroke-width="1.1"/>
<line x1="402.7" y1="202.0" x2="407.7" y2="202.0" stroke="#e8372a" stroke-width="1.1"/>
<line x1="459.6" y1="218.4" x2="459.6" y2="206.0" stroke="#e8372a" stroke-width="1.1"/>
<line x1="457.1" y1="206.0" x2="462.1" y2="206.0" stroke="#e8372a" stroke-width="1.1"/>
<polyline points="350.8,240.0 364.4,204.4 378.0,204.0 405.2,214.0 459.6,218.4" fill="none" stroke="#e8372a" stroke-width="1.4" stroke-linejoin="round" stroke-dasharray="4,2.2"/>
<polygon points="350.8,237.3 348.3,241.8 353.3,241.8" fill="none" stroke="#e8372a" stroke-width="1.1"/>
<polygon points="364.4,201.7 361.9,206.2 366.9,206.2" fill="none" stroke="#e8372a" stroke-width="1.1"/>
<polygon points="378.0,201.3 375.5,205.8 380.5,205.8" fill="none" stroke="#e8372a" stroke-width="1.1"/>
<polygon points="405.2,211.3 402.7,215.8 407.7,215.8" fill="none" stroke="#e8372a" stroke-width="1.1"/>
<polygon points="459.6,215.7 457.1,220.2 462.1,220.2" fill="none" stroke="#e8372a" stroke-width="1.1"/>
<line x1="350.8" y1="238.4" x2="350.8" y2="235.0" stroke="#000" stroke-width="1.1"/>
<line x1="348.3" y1="235.0" x2="353.3" y2="235.0" stroke="#000" stroke-width="1.1"/>
<line x1="364.4" y1="218.0" x2="364.4" y2="212.0" stroke="#000" stroke-width="1.1"/>
<line x1="361.9" y1="212.0" x2="366.9" y2="212.0" stroke="#000" stroke-width="1.1"/>
<line x1="378.0" y1="217.4" x2="378.0" y2="212.0" stroke="#000" stroke-width="1.1"/>
<line x1="375.5" y1="212.0" x2="380.5" y2="212.0" stroke="#000" stroke-width="1.1"/>
<line x1="405.2" y1="220.6" x2="405.2" y2="215.0" stroke="#000" stroke-width="1.1"/>
<line x1="402.7" y1="215.0" x2="407.7" y2="215.0" stroke="#000" stroke-width="1.1"/>
<line x1="459.6" y1="229.0" x2="459.6" y2="223.6" stroke="#000" stroke-width="1.1"/>
<line x1="457.1" y1="223.6" x2="462.1" y2="223.6" stroke="#000" stroke-width="1.1"/>
<polyline points="350.8,238.4 364.4,218.0 378.0,217.4 405.2,220.6 459.6,229.0" fill="none" stroke="#000" stroke-width="1.4" stroke-linejoin="round"/>
<circle cx="350.8" cy="238.4" r="2.3" fill="#000"/>
<circle cx="364.4" cy="218.0" r="2.3" fill="#000"/>
<circle cx="378.0" cy="217.4" r="2.3" fill="#000"/>
<circle cx="405.2" cy="220.6" r="2.3" fill="#000"/>
<circle cx="459.6" cy="229.0" r="2.3" fill="#000"/>
<line x1="350.8" y1="238.4" x2="350.8" y2="235.0" stroke="#000" stroke-width="1.1"/>
<line x1="348.3" y1="235.0" x2="353.3" y2="235.0" stroke="#000" stroke-width="1.1"/>
<line x1="364.4" y1="204.4" x2="364.4" y2="194.4" stroke="#000" stroke-width="1.1"/>
<line x1="361.9" y1="194.4" x2="366.9" y2="194.4" stroke="#000" stroke-width="1.1"/>
<line x1="378.0" y1="203.0" x2="378.0" y2="193.0" stroke="#000" stroke-width="1.1"/>
<line x1="375.5" y1="193.0" x2="380.5" y2="193.0" stroke="#000" stroke-width="1.1"/>
<line x1="405.2" y1="210.4" x2="405.2" y2="199.4" stroke="#000" stroke-width="1.1"/>
<line x1="402.7" y1="199.4" x2="407.7" y2="199.4" stroke="#000" stroke-width="1.1"/>
<line x1="459.6" y1="213.0" x2="459.6" y2="201.0" stroke="#000" stroke-width="1.1"/>
<line x1="457.1" y1="201.0" x2="462.1" y2="201.0" stroke="#000" stroke-width="1.1"/>
<polyline points="350.8,238.4 364.4,204.4 378.0,203.0 405.2,210.4 459.6,213.0" fill="none" stroke="#000" stroke-width="1.4" stroke-linejoin="round"/>
<circle cx="350.8" cy="238.4" r="1.9549999999999998" fill="none" stroke="#000" stroke-width="1.4"/>
<circle cx="364.4" cy="204.4" r="1.9549999999999998" fill="none" stroke="#000" stroke-width="1.4"/>
<circle cx="378.0" cy="203.0" r="1.9549999999999998" fill="none" stroke="#000" stroke-width="1.4"/>
<circle cx="405.2" cy="210.4" r="1.9549999999999998" fill="none" stroke="#000" stroke-width="1.4"/>
<circle cx="459.6" cy="213.0" r="1.9549999999999998" fill="none" stroke="#000" stroke-width="1.4"/>
<text x="364.4" y="187.0" font-size="7.5" text-anchor="middle" font-weight="bold">##</text>
<text x="378.0" y="187.0" font-size="7.5" text-anchor="middle" font-weight="bold">##</text>
<text x="405.2" y="194.5" font-size="7.5" text-anchor="middle" font-weight="bold">#</text>
<text x="459.6" y="197.0" font-size="7.5" text-anchor="middle" font-weight="bold">##</text>
<text x="354.5" y="221.5" font-size="7.5" text-anchor="middle" font-weight="bold">#</text>
<text x="364.4" y="242.6" font-size="10" text-anchor="middle" font-weight="bold" fill="#e8372a" letter-spacing="-0.6">**</text>
<text x="378.0" y="244.2" font-size="10" text-anchor="middle" font-weight="bold" fill="#e8372a" letter-spacing="-0.6">***</text>
<text x="405.2" y="246.6" font-size="10" text-anchor="middle" font-weight="bold" fill="#e8372a" letter-spacing="-0.6">***</text>
<text x="459.6" y="250.6" font-size="10" text-anchor="middle" font-weight="bold" fill="#e8372a" letter-spacing="-0.6">**</text>
<text x="355.5" y="253.6" font-size="10" text-anchor="middle" font-weight="bold" fill="#e8372a">*</text>
<text x="597.51" y="173.00" font-size="13.3" textLength="21.69" lengthAdjust="spacingAndGlyphs">ITT</text>
<line x1="543.3" y1="179.7" x2="543.3" y2="254.2" stroke="#000" stroke-width="1.5"/>
<line x1="540.3" y1="252.9" x2="543.3" y2="252.9" stroke="#000" stroke-width="1.275"/>
<text x="539.20" y="257.00" font-size="12.3" textLength="13.80" lengthAdjust="spacingAndGlyphs" text-anchor="end">40</text>
<line x1="540.3" y1="230.0" x2="543.3" y2="230.0" stroke="#000" stroke-width="1.275"/>
<text x="539.20" y="234.10" font-size="12.3" textLength="13.80" lengthAdjust="spacingAndGlyphs" text-anchor="end">80</text>
<line x1="540.3" y1="207.1" x2="543.3" y2="207.1" stroke="#000" stroke-width="1.275"/>
<text x="539.20" y="211.20" font-size="12.3" textLength="20.70" lengthAdjust="spacingAndGlyphs" text-anchor="end">120</text>
<line x1="540.3" y1="184.2" x2="543.3" y2="184.2" stroke="#000" stroke-width="1.275"/>
<text x="539.20" y="188.30" font-size="12.3" textLength="20.70" lengthAdjust="spacingAndGlyphs" text-anchor="end">160</text>
<line x1="540.3" y1="241.5" x2="543.3" y2="241.5" stroke="#000" stroke-width="1.275"/>
<line x1="540.3" y1="218.6" x2="543.3" y2="218.6" stroke="#000" stroke-width="1.275"/>
<line x1="540.3" y1="195.7" x2="543.3" y2="195.7" stroke="#000" stroke-width="1.275"/>
<line x1="542.5" y1="253.5" x2="667.0" y2="253.5" stroke="#000" stroke-width="1.5"/>
<line x1="543.6" y1="253.5" x2="543.6" y2="256.7" stroke="#000" stroke-width="1.275"/>
<text x="543.60" y="268.80" font-size="12.3" textLength="6.90" lengthAdjust="spacingAndGlyphs" text-anchor="middle">0</text>
<line x1="584.4" y1="253.5" x2="584.4" y2="256.7" stroke="#000" stroke-width="1.275"/>
<text x="584.40" y="268.80" font-size="12.3" textLength="13.80" lengthAdjust="spacingAndGlyphs" text-anchor="middle">30</text>
<line x1="625.2" y1="253.5" x2="625.2" y2="256.7" stroke="#000" stroke-width="1.275"/>
<text x="625.20" y="268.80" font-size="12.3" textLength="13.80" lengthAdjust="spacingAndGlyphs" text-anchor="middle">60</text>
<line x1="666.0" y1="253.5" x2="666.0" y2="256.7" stroke="#000" stroke-width="1.275"/>
<text x="666.00" y="268.80" font-size="12.3" textLength="13.80" lengthAdjust="spacingAndGlyphs" text-anchor="middle">90</text>
<text x="574.73" y="282.40" font-size="13.3" textLength="61.44" lengthAdjust="spacingAndGlyphs">Time (min)</text>
<text x="496.60" y="253.30" font-size="13.3" textLength="76.25" lengthAdjust="spacingAndGlyphs" transform="rotate(-90 496.60 253.30)">Blood glucose</text>
<text x="511.60" y="235.11" font-size="13.3" textLength="40.61" lengthAdjust="spacingAndGlyphs" transform="rotate(-90 511.60 235.11)">(mg/dl)</text>
<line x1="543.6" y1="213.6" x2="543.6" y2="205.0" stroke="#e8372a" stroke-width="1.1"/>
<line x1="541.1" y1="205.0" x2="546.1" y2="205.0" stroke="#e8372a" stroke-width="1.1"/>
<line x1="564.0" y1="231.6" x2="564.0" y2="226.0" stroke="#e8372a" stroke-width="1.1"/>
<line x1="561.5" y1="226.0" x2="566.5" y2="226.0" stroke="#e8372a" stroke-width="1.1"/>
<line x1="584.4" y1="240.0" x2="584.4" y2="232.0" stroke="#e8372a" stroke-width="1.1"/>
<line x1="581.9" y1="232.0" x2="586.9" y2="232.0" stroke="#e8372a" stroke-width="1.1"/>
<line x1="625.2" y1="235.0" x2="625.2" y2="220.0" stroke="#e8372a" stroke-width="1.1"/>
<line x1="622.7" y1="220.0" x2="627.7" y2="220.0" stroke="#e8372a" stroke-width="1.1"/>
<line x1="666.0" y1="231.0" x2="666.0" y2="218.0" stroke="#e8372a" stroke-width="1.1"/>
<line x1="663.5" y1="218.0" x2="668.5" y2="218.0" stroke="#e8372a" stroke-width="1.1"/>
<polyline points="543.6,213.6 564.0,231.6 584.4,240.0 625.2,235.0 666.0,231.0" fill="none" stroke="#e8372a" stroke-width="1.4" stroke-linejoin="round" stroke-dasharray="4,2.2"/>
<polygon points="543.6,210.9 541.1,215.4 546.1,215.4" fill="#e8372a"/>
<polygon points="564.0,228.9 561.5,233.4 566.5,233.4" fill="#e8372a"/>
<polygon points="584.4,237.3 581.9,241.8 586.9,241.8" fill="#e8372a"/>
<polygon points="625.2,232.3 622.7,236.8 627.7,236.8" fill="#e8372a"/>
<polygon points="666.0,228.3 663.5,232.8 668.5,232.8" fill="#e8372a"/>
<line x1="543.6" y1="196.0" x2="543.6" y2="190.0" stroke="#e8372a" stroke-width="1.1"/>
<line x1="541.1" y1="190.0" x2="546.1" y2="190.0" stroke="#e8372a" stroke-width="1.1"/>
<line x1="564.0" y1="208.6" x2="564.0" y2="204.0" stroke="#e8372a" stroke-width="1.1"/>
<line x1="561.5" y1="204.0" x2="566.5" y2="204.0" stroke="#e8372a" stroke-width="1.1"/>
<line x1="584.4" y1="214.0" x2="584.4" y2="210.0" stroke="#e8372a" stroke-width="1.1"/>
<line x1="581.9" y1="210.0" x2="586.9" y2="210.0" stroke="#e8372a" stroke-width="1.1"/>
<line x1="625.2" y1="211.6" x2="625.2" y2="206.0" stroke="#e8372a" stroke-width="1.1"/>
<line x1="622.7" y1="206.0" x2="627.7" y2="206.0" stroke="#e8372a" stroke-width="1.1"/>
<line x1="666.0" y1="206.4" x2="666.0" y2="201.0" stroke="#e8372a" stroke-width="1.1"/>
<line x1="663.5" y1="201.0" x2="668.5" y2="201.0" stroke="#e8372a" stroke-width="1.1"/>
<polyline points="543.6,196.0 564.0,208.6 584.4,214.0 625.2,211.6 666.0,206.4" fill="none" stroke="#e8372a" stroke-width="1.4" stroke-linejoin="round" stroke-dasharray="4,2.2"/>
<polygon points="543.6,193.3 541.1,197.8 546.1,197.8" fill="none" stroke="#e8372a" stroke-width="1.1"/>
<polygon points="564.0,205.9 561.5,210.4 566.5,210.4" fill="none" stroke="#e8372a" stroke-width="1.1"/>
<polygon points="584.4,211.3 581.9,215.8 586.9,215.8" fill="none" stroke="#e8372a" stroke-width="1.1"/>
<polygon points="625.2,208.9 622.7,213.4 627.7,213.4" fill="none" stroke="#e8372a" stroke-width="1.1"/>
<polygon points="666.0,203.7 663.5,208.2 668.5,208.2" fill="none" stroke="#e8372a" stroke-width="1.1"/>
<line x1="543.6" y1="202.6" x2="543.6" y2="197.0" stroke="#000" stroke-width="1.1"/>
<line x1="541.1" y1="197.0" x2="546.1" y2="197.0" stroke="#000" stroke-width="1.1"/>
<line x1="564.0" y1="218.6" x2="564.0" y2="212.0" stroke="#000" stroke-width="1.1"/>
<line x1="561.5" y1="212.0" x2="566.5" y2="212.0" stroke="#000" stroke-width="1.1"/>
<line x1="584.4" y1="225.0" x2="584.4" y2="219.0" stroke="#000" stroke-width="1.1"/>
<line x1="581.9" y1="219.0" x2="586.9" y2="219.0" stroke="#000" stroke-width="1.1"/>
<line x1="625.2" y1="222.4" x2="625.2" y2="214.0" stroke="#000" stroke-width="1.1"/>
<line x1="622.7" y1="214.0" x2="627.7" y2="214.0" stroke="#000" stroke-width="1.1"/>
<line x1="666.0" y1="220.4" x2="666.0" y2="213.0" stroke="#000" stroke-width="1.1"/>
<line x1="663.5" y1="213.0" x2="668.5" y2="213.0" stroke="#000" stroke-width="1.1"/>
<polyline points="543.6,202.6 564.0,218.6 584.4,225.0 625.2,222.4 666.0,220.4" fill="none" stroke="#000" stroke-width="1.4" stroke-linejoin="round"/>
<circle cx="543.6" cy="202.6" r="2.3" fill="#000"/>
<circle cx="564.0" cy="218.6" r="2.3" fill="#000"/>
<circle cx="584.4" cy="225.0" r="2.3" fill="#000"/>
<circle cx="625.2" cy="222.4" r="2.3" fill="#000"/>
<circle cx="666.0" cy="220.4" r="2.3" fill="#000"/>
<line x1="543.6" y1="191.6" x2="543.6" y2="186.0" stroke="#000" stroke-width="1.1"/>
<line x1="541.1" y1="186.0" x2="546.1" y2="186.0" stroke="#000" stroke-width="1.1"/>
<line x1="564.0" y1="205.6" x2="564.0" y2="202.0" stroke="#000" stroke-width="1.1"/>
<line x1="561.5" y1="202.0" x2="566.5" y2="202.0" stroke="#000" stroke-width="1.1"/>
<line x1="584.4" y1="210.0" x2="584.4" y2="206.0" stroke="#000" stroke-width="1.1"/>
<line x1="581.9" y1="206.0" x2="586.9" y2="206.0" stroke="#000" stroke-width="1.1"/>
<line x1="625.2" y1="211.0" x2="625.2" y2="207.0" stroke="#000" stroke-width="1.1"/>
<line x1="622.7" y1="207.0" x2="627.7" y2="207.0" stroke="#000" stroke-width="1.1"/>
<line x1="666.0" y1="209.0" x2="666.0" y2="205.0" stroke="#000" stroke-width="1.1"/>
<line x1="663.5" y1="205.0" x2="668.5" y2="205.0" stroke="#000" stroke-width="1.1"/>
<polyline points="543.6,191.6 564.0,205.6 584.4,210.0 625.2,211.0 666.0,209.0" fill="none" stroke="#000" stroke-width="1.4" stroke-linejoin="round"/>
<circle cx="543.6" cy="191.6" r="1.9549999999999998" fill="none" stroke="#000" stroke-width="1.4"/>
<circle cx="564.0" cy="205.6" r="1.9549999999999998" fill="none" stroke="#000" stroke-width="1.4"/>
<circle cx="584.4" cy="210.0" r="1.9549999999999998" fill="none" stroke="#000" stroke-width="1.4"/>
<circle cx="625.2" cy="211.0" r="1.9549999999999998" fill="none" stroke="#000" stroke-width="1.4"/>
<circle cx="666.0" cy="209.0" r="1.9549999999999998" fill="none" stroke="#000" stroke-width="1.4"/>
<text x="564.0" y="196.5" font-size="7.5" text-anchor="middle" font-weight="bold">#</text>
<text x="584.4" y="202.5" font-size="7.5" text-anchor="middle" font-weight="bold">##</text>
<text x="625.2" y="201.5" font-size="7.5" text-anchor="middle" font-weight="bold">#</text>
<text x="666.0" y="196.5" font-size="7.5" text-anchor="middle" font-weight="bold">#</text>
<text x="550.0" y="184.5" font-size="7.5" text-anchor="middle" font-weight="bold">#</text>
<text x="564.0" y="244.6" font-size="10" text-anchor="middle" font-weight="bold" fill="#e8372a" letter-spacing="-0.6">**</text>
<text x="584.4" y="252.6" font-size="10" text-anchor="middle" font-weight="bold" fill="#e8372a" letter-spacing="-0.6">**</text>
<text x="625.2" y="248.2" font-size="10" text-anchor="middle" font-weight="bold" fill="#e8372a" letter-spacing="-0.6">*</text>
<text x="548.0" y="229.6" font-size="10" text-anchor="middle" font-weight="bold" fill="#e8372a">*</text>
<text x="6.48" y="317.60" font-size="13.5" textLength="7.27" lengthAdjust="spacingAndGlyphs" font-weight="bold">d</text>
<circle cx="48.0" cy="314.2" r="3.2" fill="#000"/>
<text x="57.8" y="318.9" font-size="13" font-style="italic" fill="#000" textLength="82.8" lengthAdjust="spacingAndGlyphs">Fundc1<tspan font-size="7.8" dy="-5.2">f/Y</tspan><tspan dy="5.2">Cdh5</tspan><tspan font-size="8.6" dy="-5.2">-</tspan></text>
<polygon points="47.9,328.8 44.5,334.9 51.3,334.9" fill="#e8372a"/>
<text x="58.6" y="336.2" font-size="13" font-style="italic" fill="#e8372a" textLength="83.1" lengthAdjust="spacingAndGlyphs">Fundc1<tspan font-size="7.8" dy="-5.2">f/Y</tspan><tspan dy="5.2">Cdh5</tspan><tspan font-size="8.6" dy="-5.2">+</tspan></text>
<rect x="69.6" y="395.6" width="16.0" height="22.2" fill="#bdbdbd" stroke="#000" stroke-width="1.6" />
<rect x="93.8" y="402.2" width="16.0" height="15.6" fill="#fff" stroke="#e8372a" stroke-width="1.6" />
<rect x="118.5" y="387.3" width="16.0" height="30.5" fill="#bdbdbd" stroke="#000" stroke-width="1.6" />
<rect x="142.7" y="390.8" width="16.0" height="27.0" fill="#fff" stroke="#e8372a" stroke-width="1.6" />
<circle cx="71.6" cy="397.5" r="2.6" fill="#000"/>
<circle cx="74.6" cy="392.4" r="2.6" fill="#000"/>
<circle cx="77.6" cy="395.2" r="2.6" fill="#000"/>
<circle cx="80.6" cy="391.2" r="2.6" fill="#000"/>
<circle cx="83.6" cy="397.9" r="2.6" fill="#000"/>
<circle cx="72.6" cy="390.4" r="2.6" fill="#000"/>
<circle cx="81.6" cy="394.4" r="2.6" fill="#000"/>
<circle cx="77.6" cy="398.3" r="2.6" fill="#000"/>
<polygon points="96.8,399.2 94.0,404.2 99.6,404.2" fill="#e8372a"/>
<polygon points="99.8,396.5 97.0,401.5 102.6,401.5" fill="#e8372a"/>
<polygon points="101.8,403.1 99.0,408.2 104.6,408.2" fill="#e8372a"/>
<polygon points="104.8,398.4 102.0,403.5 107.6,403.5" fill="#e8372a"/>
<polygon points="106.8,396.1 104.0,401.1 109.6,401.1" fill="#e8372a"/>
<polygon points="97.8,401.2 95.0,406.2 100.6,406.2" fill="#e8372a"/>
<polygon points="103.8,394.5 101.0,399.5 106.6,399.5" fill="#e8372a"/>
<circle cx="120.5" cy="392.4" r="2.6" fill="#000"/>
<circle cx="123.5" cy="386.5" r="2.6" fill="#000"/>
<circle cx="126.5" cy="380.6" r="2.6" fill="#000"/>
<circle cx="129.5" cy="390.4" r="2.6" fill="#000"/>
<circle cx="132.5" cy="386.5" r="2.6" fill="#000"/>
<circle cx="121.5" cy="392.4" r="2.6" fill="#000"/>
<circle cx="130.5" cy="375.5" r="2.6" fill="#000"/>
<circle cx="126.5" cy="390.4" r="2.6" fill="#000"/>
<circle cx="132.5" cy="393.6" r="2.6" fill="#000"/>
<polygon points="144.7,385.9 141.9,390.9 147.5,390.9" fill="#e8372a"/>
<polygon points="147.7,388.2 144.9,393.3 150.5,393.3" fill="#e8372a"/>
<polygon points="150.7,378.8 147.9,383.8 153.5,383.8" fill="#e8372a"/>
<polygon points="153.7,392.1 150.9,397.2 156.5,397.2" fill="#e8372a"/>
<polygon points="156.7,385.5 153.9,390.5 159.5,390.5" fill="#e8372a"/>
<polygon points="145.7,391.4 142.9,396.4 148.5,396.4" fill="#e8372a"/>
<polygon points="154.7,383.5 151.9,388.5 157.5,388.5" fill="#e8372a"/>
<polygon points="150.7,388.6 147.9,393.6 153.5,393.6" fill="#e8372a"/>
<line x1="77.6" y1="400.3" x2="77.6" y2="390.4" stroke="#000" stroke-width="1.3"/>
<line x1="73.8" y1="390.4" x2="81.4" y2="390.4" stroke="#000" stroke-width="1.3"/>
<line x1="73.8" y1="400.3" x2="81.4" y2="400.3" stroke="#000" stroke-width="1.3"/>
<line x1="101.8" y1="405.8" x2="101.8" y2="399.1" stroke="#e8372a" stroke-width="1.3"/>
<line x1="98.0" y1="399.1" x2="105.6" y2="399.1" stroke="#e8372a" stroke-width="1.3"/>
<line x1="98.0" y1="405.8" x2="105.6" y2="405.8" stroke="#e8372a" stroke-width="1.3"/>
<line x1="126.5" y1="393.6" x2="126.5" y2="380.6" stroke="#000" stroke-width="1.3"/>
<line x1="122.7" y1="380.6" x2="130.3" y2="380.6" stroke="#000" stroke-width="1.3"/>
<line x1="122.7" y1="393.6" x2="130.3" y2="393.6" stroke="#000" stroke-width="1.3"/>
<line x1="150.7" y1="396.7" x2="150.7" y2="384.2" stroke="#e8372a" stroke-width="1.3"/>
<line x1="146.9" y1="384.2" x2="154.5" y2="384.2" stroke="#e8372a" stroke-width="1.3"/>
<line x1="146.9" y1="396.7" x2="154.5" y2="396.7" stroke="#e8372a" stroke-width="1.3"/>
<line x1="64.8" y1="366.5" x2="64.8" y2="418.7" stroke="#000" stroke-width="1.8"/>
<line x1="61.6" y1="414.0" x2="64.8" y2="414.0" stroke="#000" stroke-width="1.53"/>
<text x="59.90" y="418.10" font-size="12.3" textLength="13.80" lengthAdjust="spacingAndGlyphs" text-anchor="end">80</text>
<line x1="61.6" y1="398.3" x2="64.8" y2="398.3" stroke="#000" stroke-width="1.53"/>
<text x="59.90" y="402.40" font-size="12.3" textLength="20.70" lengthAdjust="spacingAndGlyphs" text-anchor="end">120</text>
<line x1="61.6" y1="382.6" x2="64.8" y2="382.6" stroke="#000" stroke-width="1.53"/>
<text x="59.90" y="386.70" font-size="12.3" textLength="20.70" lengthAdjust="spacingAndGlyphs" text-anchor="end">160</text>
<line x1="61.6" y1="366.9" x2="64.8" y2="366.9" stroke="#000" stroke-width="1.53"/>
<text x="59.90" y="371.00" font-size="12.3" textLength="20.70" lengthAdjust="spacingAndGlyphs" text-anchor="end">200</text>
<line x1="63.9" y1="417.8" x2="163.0" y2="417.8" stroke="#000" stroke-width="1.8"/>
<line x1="77.6" y1="417.8" x2="77.6" y2="421.3" stroke="#000" stroke-width="1.53"/>
<line x1="101.8" y1="417.8" x2="101.8" y2="421.3" stroke="#000" stroke-width="1.53"/>
<line x1="126.5" y1="417.8" x2="126.5" y2="421.3" stroke="#000" stroke-width="1.53"/>
<line x1="150.7" y1="417.8" x2="150.7" y2="421.3" stroke="#000" stroke-width="1.53"/>
<path d="M77.6,382.0 V378.0 H101.8 V387.0" fill="none" stroke="#222" stroke-width="0.9"/>
<text x="89.7" y="379.0" font-size="10" text-anchor="middle" font-weight="bold">*</text>
<path d="M77.6,371.6 V365.6 H126.5 V370.6" fill="none" stroke="#222" stroke-width="0.9"/>
<text x="102.0" y="365.6" font-size="10" text-anchor="middle" font-weight="bold">*</text>
<path d="M126.5,369.6 V365.6 H150.7 V370.6" fill="none" stroke="#222" stroke-width="0.9"/>
<text x="138.6" y="362.4" font-size="8.6" text-anchor="middle" font-weight="bold">n.s.</text>
<path d="M101.8,357.4 V352.4 H150.7 V358.4" fill="none" stroke="#222" stroke-width="0.9"/>
<text x="126.2" y="352.6" font-size="10" text-anchor="middle" font-weight="bold">*</text>
<text x="73.50" y="434.40" font-size="13.3" textLength="34.58" lengthAdjust="spacingAndGlyphs">Saline</text>
<text x="126.01" y="434.40" font-size="13.3" textLength="25.75" lengthAdjust="spacingAndGlyphs">ET-1</text>
<text x="17.60" y="419.09" font-size="13.3" textLength="71.69" lengthAdjust="spacingAndGlyphs" transform="rotate(-90 17.60 419.09)">Fasting blood</text>
<text x="33.50" y="419.25" font-size="13.3" textLength="72.36" lengthAdjust="spacingAndGlyphs" transform="rotate(-90 33.50 419.25)">GLU (mg/dl)</text>
<text x="182.51" y="316.40" font-size="13.5" textLength="6.23" lengthAdjust="spacingAndGlyphs" font-weight="bold">e</text>
<circle cx="212.6" cy="314.2" r="3.2" fill="#000"/>
<text x="222.8" y="319.0" font-size="13" font-style="italic" fill="#000" textLength="82.8" lengthAdjust="spacingAndGlyphs">Fundc1<tspan font-size="7.8" dy="-5.2">f/Y</tspan><tspan dy="5.2">Cdh5</tspan><tspan font-size="8.6" dy="-5.2">-</tspan></text>
<polygon points="212.6,328.7 209.2,334.8 216.0,334.8" fill="#e8372a"/>
<text x="223.6" y="336.4" font-size="13" font-style="italic" fill="#e8372a" textLength="85.0" lengthAdjust="spacingAndGlyphs">Fundc1<tspan font-size="7.8" dy="-5.2">f/Y</tspan><tspan dy="5.2">Cdh5</tspan><tspan font-size="8.6" dy="-5.2">+</tspan></text>
<rect x="230.8" y="399.2" width="16.0" height="16.8" fill="#bdbdbd" stroke="#000" stroke-width="1.6" />
<rect x="255.6" y="401.9" width="16.0" height="14.1" fill="#fff" stroke="#e8372a" stroke-width="1.6" />
<rect x="279.6" y="390.8" width="16.0" height="25.2" fill="#bdbdbd" stroke="#000" stroke-width="1.6" />
<rect x="303.8" y="393.2" width="16.0" height="22.8" fill="#fff" stroke="#e8372a" stroke-width="1.6" />
<circle cx="233.8" cy="392.5" r="2.6" fill="#000"/>
<circle cx="236.8" cy="399.2" r="2.6" fill="#000"/>
<circle cx="238.8" cy="405.9" r="2.6" fill="#000"/>
<circle cx="241.8" cy="394.8" r="2.6" fill="#000"/>
<circle cx="244.8" cy="400.9" r="2.6" fill="#000"/>
<circle cx="234.8" cy="404.2" r="2.6" fill="#000"/>
<circle cx="241.8" cy="407.3" r="2.6" fill="#000"/>
<polygon points="258.6,396.2 255.8,401.2 261.4,401.2" fill="#e8372a"/>
<polygon points="261.6,407.6 258.8,412.6 264.4,412.6" fill="#e8372a"/>
<polygon points="263.6,387.8 260.8,392.8 266.4,392.8" fill="#e8372a"/>
<polygon points="266.6,399.5 263.8,404.6 269.4,404.6" fill="#e8372a"/>
<polygon points="269.6,387.8 266.8,392.8 272.4,392.8" fill="#e8372a"/>
<polygon points="259.6,404.6 256.8,409.6 262.4,409.6" fill="#e8372a"/>
<polygon points="266.6,407.6 263.8,412.6 269.4,412.6" fill="#e8372a"/>
<circle cx="281.6" cy="389.1" r="2.6" fill="#000"/>
<circle cx="284.6" cy="395.8" r="2.6" fill="#000"/>
<circle cx="287.6" cy="382.4" r="2.6" fill="#000"/>
<circle cx="290.6" cy="392.5" r="2.6" fill="#000"/>
<circle cx="293.6" cy="389.8" r="2.6" fill="#000"/>
<circle cx="283.6" cy="399.2" r="2.6" fill="#000"/>
<circle cx="290.6" cy="397.5" r="2.6" fill="#000"/>
<polygon points="306.8,386.1 304.0,391.1 309.6,391.1" fill="#e8372a"/>
<polygon points="309.8,392.8 307.0,397.9 312.6,397.9" fill="#e8372a"/>
<polygon points="311.8,387.8 309.0,392.8 314.6,392.8" fill="#e8372a"/>
<polygon points="314.8,385.4 312.0,390.5 317.6,390.5" fill="#e8372a"/>
<polygon points="317.8,390.1 315.0,395.2 320.6,395.2" fill="#e8372a"/>
<polygon points="307.8,396.2 305.0,401.2 310.6,401.2" fill="#e8372a"/>
<polygon points="314.8,392.8 312.0,397.9 317.6,397.9" fill="#e8372a"/>
<line x1="238.8" y1="405.2" x2="238.8" y2="393.2" stroke="#000" stroke-width="1.3"/>
<line x1="235.0" y1="393.2" x2="242.6" y2="393.2" stroke="#000" stroke-width="1.3"/>
<line x1="235.0" y1="405.2" x2="242.6" y2="405.2" stroke="#000" stroke-width="1.3"/>
<line x1="263.6" y1="412.3" x2="263.6" y2="391.5" stroke="#e8372a" stroke-width="1.3"/>
<line x1="259.8" y1="391.5" x2="267.4" y2="391.5" stroke="#e8372a" stroke-width="1.3"/>
<line x1="259.8" y1="412.3" x2="267.4" y2="412.3" stroke="#e8372a" stroke-width="1.3"/>
<line x1="287.6" y1="394.8" x2="287.6" y2="386.8" stroke="#000" stroke-width="1.3"/>
<line x1="283.8" y1="386.8" x2="291.4" y2="386.8" stroke="#000" stroke-width="1.3"/>
<line x1="283.8" y1="394.8" x2="291.4" y2="394.8" stroke="#000" stroke-width="1.3"/>
<line x1="311.8" y1="397.9" x2="311.8" y2="388.4" stroke="#e8372a" stroke-width="1.3"/>
<line x1="308.0" y1="388.4" x2="315.6" y2="388.4" stroke="#e8372a" stroke-width="1.3"/>
<line x1="308.0" y1="397.9" x2="315.6" y2="397.9" stroke="#e8372a" stroke-width="1.3"/>
<line x1="225.6" y1="365.3" x2="225.6" y2="416.9" stroke="#000" stroke-width="1.8"/>
<line x1="222.4" y1="416.0" x2="225.6" y2="416.0" stroke="#000" stroke-width="1.53"/>
<text x="221.50" y="420.10" font-size="12.3" textLength="6.90" lengthAdjust="spacingAndGlyphs" text-anchor="end">0</text>
<line x1="222.4" y1="399.2" x2="225.6" y2="399.2" stroke="#000" stroke-width="1.53"/>
<text x="221.50" y="403.30" font-size="12.3" textLength="6.90" lengthAdjust="spacingAndGlyphs" text-anchor="end">5</text>
<line x1="222.4" y1="382.4" x2="225.6" y2="382.4" stroke="#000" stroke-width="1.53"/>
<text x="221.50" y="386.50" font-size="12.3" textLength="13.80" lengthAdjust="spacingAndGlyphs" text-anchor="end">10</text>
<line x1="222.4" y1="365.6" x2="225.6" y2="365.6" stroke="#000" stroke-width="1.53"/>
<text x="221.50" y="369.70" font-size="12.3" textLength="13.80" lengthAdjust="spacingAndGlyphs" text-anchor="end">15</text>
<line x1="224.7" y1="416.0" x2="325.0" y2="416.0" stroke="#000" stroke-width="1.8"/>
<line x1="238.8" y1="416.0" x2="238.8" y2="419.5" stroke="#000" stroke-width="1.53"/>
<line x1="263.6" y1="416.0" x2="263.6" y2="419.5" stroke="#000" stroke-width="1.53"/>
<line x1="287.6" y1="416.0" x2="287.6" y2="419.5" stroke="#000" stroke-width="1.53"/>
<line x1="311.8" y1="416.0" x2="311.8" y2="419.5" stroke="#000" stroke-width="1.53"/>
<path d="M238.8,386.0 V381.0 H263.6 V386.0" fill="none" stroke="#222" stroke-width="0.9"/>
<text x="251.2" y="377.8" font-size="8.6" text-anchor="middle" font-weight="bold">n.s.</text>
<path d="M238.8,373.6 V368.6 H287.6 V376.6" fill="none" stroke="#222" stroke-width="0.9"/>
<text x="263.2" y="368.2" font-size="10" text-anchor="middle" font-weight="bold">*</text>
<path d="M287.6,377.6 V373.6 H311.8 V377.6" fill="none" stroke="#222" stroke-width="0.9"/>
<text x="299.7" y="370.4" font-size="8.6" text-anchor="middle" font-weight="bold">n.s.</text>
<path d="M263.6,359.0 V354.0 H311.8 V359.0" fill="none" stroke="#222" stroke-width="0.9"/>
<text x="287.7" y="350.8" font-size="8.6" text-anchor="middle" font-weight="bold">n.s.</text>
<text x="235.11" y="433.00" font-size="13.3" textLength="34.37" lengthAdjust="spacingAndGlyphs">Saline</text>
<text x="287.62" y="433.00" font-size="13.3" textLength="25.13" lengthAdjust="spacingAndGlyphs">ET-1</text>
<text x="192.60" y="418.76" font-size="13.3" textLength="73.94" lengthAdjust="spacingAndGlyphs" transform="rotate(-90 192.60 418.76)">Serum insulin</text>
<text x="203.40" y="406.84" font-size="13.3" textLength="42.36" lengthAdjust="spacingAndGlyphs" transform="rotate(-90 203.40 406.84)">(ng/ml)</text>
<text x="346.94" y="316.00" font-size="13.5" textLength="3.92" lengthAdjust="spacingAndGlyphs" font-weight="bold">f</text>
<circle cx="378.6" cy="311.0" r="3.2" fill="#000"/>
<text x="388.4" y="315.6" font-size="13" font-style="italic" fill="#000" textLength="82.8" lengthAdjust="spacingAndGlyphs">Fundc1<tspan font-size="7.8" dy="-5.2">f/Y</tspan><tspan dy="5.2">Cdh5</tspan><tspan font-size="8.6" dy="-5.2">-</tspan></text>
<polygon points="378.6,325.9 375.2,332.0 382.0,332.0" fill="#e8372a"/>
<text x="389.2" y="333.0" font-size="13" font-style="italic" fill="#e8372a" textLength="85.0" lengthAdjust="spacingAndGlyphs">Fundc1<tspan font-size="7.8" dy="-5.2">f/Y</tspan><tspan dy="5.2">Cdh5</tspan><tspan font-size="8.6" dy="-5.2">+</tspan></text>
<rect x="392.8" y="398.0" width="16.0" height="17.6" fill="#bdbdbd" stroke="#000" stroke-width="1.6" />
<rect x="417.6" y="406.8" width="16.0" height="8.8" fill="#fff" stroke="#e8372a" stroke-width="1.6" />
<rect x="442.0" y="387.9" width="16.0" height="27.7" fill="#bdbdbd" stroke="#000" stroke-width="1.6" />
<rect x="466.0" y="391.0" width="16.0" height="24.6" fill="#fff" stroke="#e8372a" stroke-width="1.6" />
<circle cx="395.8" cy="395.4" r="2.6" fill="#000"/>
<circle cx="398.8" cy="401.7" r="2.6" fill="#000"/>
<circle cx="400.8" cy="385.4" r="2.6" fill="#000"/>
<circle cx="403.8" cy="395.4" r="2.6" fill="#000"/>
<circle cx="406.8" cy="403.0" r="2.6" fill="#000"/>
<circle cx="396.8" cy="409.3" r="2.6" fill="#000"/>
<circle cx="403.8" cy="408.0" r="2.6" fill="#000"/>
<circle cx="400.8" cy="399.2" r="2.6" fill="#000"/>
<polygon points="420.6,406.3 417.8,411.3 423.4,411.3" fill="#e8372a"/>
<polygon points="423.6,401.2 420.8,406.3 426.4,406.3" fill="#e8372a"/>
<polygon points="425.6,391.8 422.8,396.8 428.4,396.8" fill="#e8372a"/>
<polygon points="428.6,403.8 425.8,408.8 431.4,408.8" fill="#e8372a"/>
<polygon points="431.6,408.8 428.8,413.8 434.4,413.8" fill="#e8372a"/>
<polygon points="421.6,409.4 418.8,414.5 424.4,414.5" fill="#e8372a"/>
<polygon points="428.6,406.3 425.8,411.3 431.4,411.3" fill="#e8372a"/>
<polygon points="430.6,403.1 427.8,408.2 433.4,408.2" fill="#e8372a"/>
<circle cx="444.0" cy="375.9" r="2.6" fill="#000"/>
<circle cx="447.0" cy="386.6" r="2.6" fill="#000"/>
<circle cx="450.0" cy="379.1" r="2.6" fill="#000"/>
<circle cx="453.0" cy="388.5" r="2.6" fill="#000"/>
<circle cx="456.0" cy="384.7" r="2.6" fill="#000"/>
<circle cx="446.0" cy="396.7" r="2.6" fill="#000"/>
<circle cx="453.0" cy="401.1" r="2.6" fill="#000"/>
<circle cx="450.0" cy="391.7" r="2.6" fill="#000"/>
<polygon points="469.0,384.2 466.2,389.3 471.8,389.3" fill="#e8372a"/>
<polygon points="472.0,390.5 469.2,395.6 474.8,395.6" fill="#e8372a"/>
<polygon points="474.0,376.0 471.2,381.1 476.8,381.1" fill="#e8372a"/>
<polygon points="477.0,388.6 474.2,393.7 479.8,393.7" fill="#e8372a"/>
<polygon points="480.0,392.4 477.2,397.5 482.8,397.5" fill="#e8372a"/>
<polygon points="470.0,393.7 467.2,398.7 472.8,398.7" fill="#e8372a"/>
<polygon points="477.0,384.9 474.2,389.9 479.8,389.9" fill="#e8372a"/>
<polygon points="479.0,387.4 476.2,392.4 481.8,392.4" fill="#e8372a"/>
<line x1="400.8" y1="405.5" x2="400.8" y2="390.4" stroke="#000" stroke-width="1.3"/>
<line x1="397.0" y1="390.4" x2="404.6" y2="390.4" stroke="#000" stroke-width="1.3"/>
<line x1="397.0" y1="405.5" x2="404.6" y2="405.5" stroke="#000" stroke-width="1.3"/>
<line x1="425.6" y1="413.1" x2="425.6" y2="400.5" stroke="#e8372a" stroke-width="1.3"/>
<line x1="421.8" y1="400.5" x2="429.4" y2="400.5" stroke="#e8372a" stroke-width="1.3"/>
<line x1="421.8" y1="413.1" x2="429.4" y2="413.1" stroke="#e8372a" stroke-width="1.3"/>
<line x1="450.0" y1="396.7" x2="450.0" y2="379.7" stroke="#000" stroke-width="1.3"/>
<line x1="446.2" y1="379.7" x2="453.8" y2="379.7" stroke="#000" stroke-width="1.3"/>
<line x1="446.2" y1="396.7" x2="453.8" y2="396.7" stroke="#000" stroke-width="1.3"/>
<line x1="474.0" y1="397.3" x2="474.0" y2="384.7" stroke="#e8372a" stroke-width="1.3"/>
<line x1="470.2" y1="384.7" x2="477.8" y2="384.7" stroke="#e8372a" stroke-width="1.3"/>
<line x1="470.2" y1="397.3" x2="477.8" y2="397.3" stroke="#e8372a" stroke-width="1.3"/>
<line x1="388.0" y1="364.7" x2="388.0" y2="416.5" stroke="#000" stroke-width="1.8"/>
<line x1="384.8" y1="415.6" x2="388.0" y2="415.6" stroke="#000" stroke-width="1.53"/>
<text x="384.40" y="419.70" font-size="12.3" textLength="6.90" lengthAdjust="spacingAndGlyphs" text-anchor="end">0</text>
<line x1="384.8" y1="403.0" x2="388.0" y2="403.0" stroke="#000" stroke-width="1.53"/>
<text x="384.40" y="407.10" font-size="12.3" textLength="6.90" lengthAdjust="spacingAndGlyphs" text-anchor="end">2</text>
<line x1="384.8" y1="390.4" x2="388.0" y2="390.4" stroke="#000" stroke-width="1.53"/>
<text x="384.40" y="394.50" font-size="12.3" textLength="6.90" lengthAdjust="spacingAndGlyphs" text-anchor="end">4</text>
<line x1="384.8" y1="377.8" x2="388.0" y2="377.8" stroke="#000" stroke-width="1.53"/>
<text x="384.40" y="381.90" font-size="12.3" textLength="6.90" lengthAdjust="spacingAndGlyphs" text-anchor="end">6</text>
<line x1="384.8" y1="365.2" x2="388.0" y2="365.2" stroke="#000" stroke-width="1.53"/>
<text x="384.40" y="369.30" font-size="12.3" textLength="6.90" lengthAdjust="spacingAndGlyphs" text-anchor="end">8</text>
<line x1="387.1" y1="415.6" x2="486.0" y2="415.6" stroke="#000" stroke-width="1.8"/>
<line x1="400.8" y1="415.6" x2="400.8" y2="419.1" stroke="#000" stroke-width="1.53"/>
<line x1="425.6" y1="415.6" x2="425.6" y2="419.1" stroke="#000" stroke-width="1.53"/>
<line x1="450.0" y1="415.6" x2="450.0" y2="419.1" stroke="#000" stroke-width="1.53"/>
<line x1="474.0" y1="415.6" x2="474.0" y2="419.1" stroke="#000" stroke-width="1.53"/>
<path d="M400.8,379.6 V375.6 H425.6 V384.6" fill="none" stroke="#222" stroke-width="0.9"/>
<text x="413.2" y="375.6" font-size="10" text-anchor="middle" font-weight="bold">*</text>
<path d="M400.8,370.4 V364.4 H450.0 V369.4" fill="none" stroke="#222" stroke-width="0.9"/>
<text x="425.4" y="364.2" font-size="10" text-anchor="middle" font-weight="bold">*</text>
<path d="M450.0,368.4 V364.4 H474.0 V368.4" fill="none" stroke="#222" stroke-width="0.9"/>
<text x="462.0" y="361.2" font-size="8.6" text-anchor="middle" font-weight="bold">n.s.</text>
<path d="M425.6,355.0 V350.0 H474.0 V355.0" fill="none" stroke="#222" stroke-width="0.9"/>
<text x="449.8" y="349.6" font-size="10" text-anchor="middle" font-weight="bold">*</text>
<text x="397.11" y="432.40" font-size="13.3" textLength="34.37" lengthAdjust="spacingAndGlyphs">Saline</text>
<text x="449.61" y="432.40" font-size="13.3" textLength="25.54" lengthAdjust="spacingAndGlyphs">ET-1</text>
<text x="355.90" y="417.97" font-size="13.3" textLength="62.16" lengthAdjust="spacingAndGlyphs" transform="rotate(-90 355.90 417.97)">Serum FFA</text>
<text x="370.00" y="402.62" font-size="13.3" textLength="32.22" lengthAdjust="spacingAndGlyphs" transform="rotate(-90 370.00 402.62)">(mM)</text>
<text x="500.62" y="314.50" font-size="13.5" textLength="7.53" lengthAdjust="spacingAndGlyphs" font-weight="bold">g</text>
<circle cx="558.0" cy="306.0" r="3.2" fill="#000"/>
<text x="567.8" y="310.8" font-size="13" font-style="italic" fill="#000" textLength="82.8" lengthAdjust="spacingAndGlyphs">Fundc1<tspan font-size="7.8" dy="-5.2">f/Y</tspan><tspan dy="5.2">Cdh5</tspan><tspan font-size="8.6" dy="-5.2">-</tspan></text>
<polygon points="557.9,321.5 554.5,327.6 561.3,327.6" fill="#e8372a"/>
<text x="568.8" y="328.5" font-size="13" font-style="italic" fill="#e8372a" textLength="85.8" lengthAdjust="spacingAndGlyphs">Fundc1<tspan font-size="7.8" dy="-5.2">f/Y</tspan><tspan dy="5.2">Cdh5</tspan><tspan font-size="8.6" dy="-5.2">+</tspan></text>
<rect x="569.0" y="374.7" width="17.0" height="36.3" fill="#bdbdbd" stroke="#000" stroke-width="1.6" />
<rect x="596.1" y="374.3" width="17.0" height="36.7" fill="#fff" stroke="#e8372a" stroke-width="1.6" />
<rect x="623.5" y="374.7" width="17.0" height="36.3" fill="#bdbdbd" stroke="#000" stroke-width="1.6" />
<rect x="650.3" y="373.5" width="17.0" height="37.5" fill="#fff" stroke="#e8372a" stroke-width="1.6" />
<circle cx="571.5" cy="375.8" r="2.6" fill="#000"/>
<circle cx="574.5" cy="373.5" r="2.6" fill="#000"/>
<circle cx="577.5" cy="375.0" r="2.6" fill="#000"/>
<circle cx="580.5" cy="373.5" r="2.6" fill="#000"/>
<circle cx="583.5" cy="375.8" r="2.6" fill="#000"/>
<circle cx="572.5" cy="374.3" r="2.6" fill="#000"/>
<circle cx="581.5" cy="374.3" r="2.6" fill="#000"/>
<polygon points="597.6,353.7 594.8,358.7 600.4,358.7" fill="#e8372a"/>
<polygon points="611.6,353.7 608.8,358.7 614.4,358.7" fill="#e8372a"/>
<polygon points="598.6,377.4 595.8,382.4 601.4,382.4" fill="#e8372a"/>
<polygon points="610.6,377.4 607.8,382.4 613.4,382.4" fill="#e8372a"/>
<polygon points="598.6,382.7 595.8,387.8 601.4,387.8" fill="#e8372a"/>
<polygon points="610.6,382.0 607.8,387.0 613.4,387.0" fill="#e8372a"/>
<polygon points="604.6,371.3 601.8,376.3 607.4,376.3" fill="#e8372a"/>
<circle cx="626.0" cy="375.8" r="2.6" fill="#000"/>
<circle cx="629.0" cy="373.5" r="2.6" fill="#000"/>
<circle cx="632.0" cy="375.0" r="2.6" fill="#000"/>
<circle cx="635.0" cy="374.3" r="2.6" fill="#000"/>
<circle cx="638.0" cy="372.0" r="2.6" fill="#000"/>
<circle cx="627.0" cy="374.3" r="2.6" fill="#000"/>
<circle cx="636.0" cy="373.5" r="2.6" fill="#000"/>
<polygon points="652.8,353.7 650.0,358.7 655.6,358.7" fill="#e8372a"/>
<polygon points="661.8,356.7 659.0,361.8 664.6,361.8" fill="#e8372a"/>
<polygon points="652.8,380.4 650.0,385.5 655.6,385.5" fill="#e8372a"/>
<polygon points="664.8,377.4 662.0,382.4 667.6,382.4" fill="#e8372a"/>
<polygon points="658.8,377.4 656.0,382.4 661.6,382.4" fill="#e8372a"/>
<polygon points="655.8,378.9 653.0,383.9 658.6,383.9" fill="#e8372a"/>
<line x1="577.5" y1="375.8" x2="577.5" y2="373.5" stroke="#000" stroke-width="1.3"/>
<line x1="573.7" y1="373.5" x2="581.3" y2="373.5" stroke="#000" stroke-width="1.3"/>
<line x1="573.7" y1="375.8" x2="581.3" y2="375.8" stroke="#000" stroke-width="1.3"/>
<line x1="604.6" y1="388.1" x2="604.6" y2="359.7" stroke="#e8372a" stroke-width="1.3"/>
<line x1="600.8" y1="359.7" x2="608.4" y2="359.7" stroke="#e8372a" stroke-width="1.3"/>
<line x1="600.8" y1="388.1" x2="608.4" y2="388.1" stroke="#e8372a" stroke-width="1.3"/>
<line x1="632.0" y1="375.8" x2="632.0" y2="372.8" stroke="#000" stroke-width="1.3"/>
<line x1="628.2" y1="372.8" x2="635.8" y2="372.8" stroke="#000" stroke-width="1.3"/>
<line x1="628.2" y1="375.8" x2="635.8" y2="375.8" stroke="#000" stroke-width="1.3"/>
<line x1="658.8" y1="386.5" x2="658.8" y2="360.5" stroke="#e8372a" stroke-width="1.3"/>
<line x1="655.0" y1="360.5" x2="662.6" y2="360.5" stroke="#e8372a" stroke-width="1.3"/>
<line x1="655.0" y1="386.5" x2="662.6" y2="386.5" stroke="#e8372a" stroke-width="1.3"/>
<line x1="563.6" y1="353.3" x2="563.6" y2="411.9" stroke="#000" stroke-width="1.8"/>
<line x1="560.4" y1="411.0" x2="563.6" y2="411.0" stroke="#000" stroke-width="1.53"/>
<text x="558.00" y="415.10" font-size="12.3" textLength="23.00" lengthAdjust="spacingAndGlyphs" text-anchor="end">1.00</text>
<line x1="560.4" y1="391.9" x2="563.6" y2="391.9" stroke="#000" stroke-width="1.53"/>
<text x="558.00" y="395.98" font-size="12.3" textLength="23.00" lengthAdjust="spacingAndGlyphs" text-anchor="end">1.25</text>
<line x1="560.4" y1="372.8" x2="563.6" y2="372.8" stroke="#000" stroke-width="1.53"/>
<text x="558.00" y="376.85" font-size="12.3" textLength="23.00" lengthAdjust="spacingAndGlyphs" text-anchor="end">1.50</text>
<line x1="560.4" y1="353.6" x2="563.6" y2="353.6" stroke="#000" stroke-width="1.53"/>
<text x="558.00" y="357.73" font-size="12.3" textLength="23.00" lengthAdjust="spacingAndGlyphs" text-anchor="end">1.75</text>
<line x1="562.7" y1="411.0" x2="673.0" y2="411.0" stroke="#000" stroke-width="1.8"/>
<line x1="577.5" y1="411.0" x2="577.5" y2="414.5" stroke="#000" stroke-width="1.53"/>
<line x1="604.6" y1="411.0" x2="604.6" y2="414.5" stroke="#000" stroke-width="1.53"/>
<line x1="632.0" y1="411.0" x2="632.0" y2="414.5" stroke="#000" stroke-width="1.53"/>
<line x1="658.8" y1="411.0" x2="658.8" y2="414.5" stroke="#000" stroke-width="1.53"/>
<path d="M578.5,353.5 V349.0 H605.6 V353.5" fill="none" stroke="#222" stroke-width="0.9"/>
<text x="592.0" y="344.4" font-size="10" text-anchor="middle" font-weight="bold">n.s.</text>
<path d="M633.0,352.1 V347.6 H659.8 V352.1" fill="none" stroke="#222" stroke-width="0.9"/>
<text x="646.4" y="343.2" font-size="10" text-anchor="middle" font-weight="bold">n.s.</text>
<text x="569.40" y="429.60" font-size="13.3" textLength="43.81" lengthAdjust="spacingAndGlyphs">pre-Ach</text>
<text x="622.20" y="429.60" font-size="13.3" textLength="46.33" lengthAdjust="spacingAndGlyphs">pre-SNP</text>
<text x="518.30" y="422.97" font-size="13.3" textLength="89.81" lengthAdjust="spacingAndGlyphs" transform="rotate(-90 518.30 422.97)">U46619-induced</text>
<text x="530.80" y="424.97" font-size="13.3" textLength="93.13" lengthAdjust="spacingAndGlyphs" transform="rotate(-90 530.80 424.97)">active tension (g)</text>
<text x="361.14" y="467.50" font-size="13.5" textLength="4.76" lengthAdjust="spacingAndGlyphs" font-weight="bold">j</text>
<circle cx="393.0" cy="467.0" r="3.2" fill="#000"/>
<text x="403.4" y="471.0" font-size="13" font-style="italic" fill="#000" textLength="82.8" lengthAdjust="spacingAndGlyphs">Fundc1<tspan font-size="7.8" dy="-5.2">f/Y</tspan><tspan dy="5.2">Cdh5</tspan><tspan font-size="8.6" dy="-5.2">-</tspan></text>
<polygon points="393.0,481.9 389.6,488.0 396.4,488.0" fill="#e8372a"/>
<text x="404.2" y="489.0" font-size="13" font-style="italic" fill="#e8372a" textLength="87.0" lengthAdjust="spacingAndGlyphs">Fundc1<tspan font-size="7.8" dy="-5.2">f/Y</tspan><tspan dy="5.2">Cdh5</tspan><tspan font-size="8.6" dy="-5.2">+</tspan></text>
<rect x="414.6" y="556.8" width="16.0" height="11.8" fill="#bdbdbd" stroke="#000" stroke-width="1.6" />
<rect x="439.4" y="543.3" width="16.0" height="25.3" fill="#fff" stroke="#e8372a" stroke-width="1.6" />
<rect x="464.6" y="559.4" width="16.0" height="9.2" fill="#bdbdbd" stroke="#000" stroke-width="1.6" />
<rect x="489.4" y="555.5" width="16.0" height="13.1" fill="#fff" stroke="#e8372a" stroke-width="1.6" />
<circle cx="417.6" cy="556.4" r="2.6" fill="#000"/>
<circle cx="420.6" cy="562.1" r="2.6" fill="#000"/>
<circle cx="422.6" cy="549.9" r="2.6" fill="#000"/>
<circle cx="426.6" cy="557.7" r="2.6" fill="#000"/>
<circle cx="428.6" cy="563.4" r="2.6" fill="#000"/>
<circle cx="418.6" cy="566.4" r="2.6" fill="#000"/>
<circle cx="425.6" cy="567.3" r="2.6" fill="#000"/>
<polygon points="442.4,528.1 439.6,533.1 445.2,533.1" fill="#e8372a"/>
<polygon points="453.4,526.3 450.6,531.4 456.2,531.4" fill="#e8372a"/>
<polygon points="447.4,535.1 444.6,540.1 450.2,540.1" fill="#e8372a"/>
<polygon points="442.4,546.0 439.6,551.0 445.2,551.0" fill="#e8372a"/>
<polygon points="452.4,546.0 449.6,551.0 455.2,551.0" fill="#e8372a"/>
<polygon points="447.4,554.7 444.6,559.7 450.2,559.7" fill="#e8372a"/>
<polygon points="453.4,552.5 450.6,557.5 456.2,557.5" fill="#e8372a"/>
<circle cx="467.6" cy="557.7" r="2.6" fill="#000"/>
<circle cx="470.6" cy="564.2" r="2.6" fill="#000"/>
<circle cx="472.6" cy="549.4" r="2.6" fill="#000"/>
<circle cx="476.6" cy="556.8" r="2.6" fill="#000"/>
<circle cx="478.6" cy="559.9" r="2.6" fill="#000"/>
<circle cx="468.6" cy="567.3" r="2.6" fill="#000"/>
<circle cx="475.6" cy="566.4" r="2.6" fill="#000"/>
<polygon points="492.4,549.9 489.6,554.9 495.2,554.9" fill="#e8372a"/>
<polygon points="502.4,549.0 499.6,554.0 505.2,554.0" fill="#e8372a"/>
<polygon points="497.4,540.3 494.6,545.3 500.2,545.3" fill="#e8372a"/>
<polygon points="491.4,557.7 488.6,562.8 494.2,562.8" fill="#e8372a"/>
<polygon points="503.4,559.0 500.6,564.1 506.2,564.1" fill="#e8372a"/>
<polygon points="497.4,564.3 494.6,569.3 500.2,569.3" fill="#e8372a"/>
<polygon points="501.4,552.5 498.6,557.5 504.2,557.5" fill="#e8372a"/>
<line x1="422.6" y1="561.2" x2="422.6" y2="552.5" stroke="#000" stroke-width="1.3"/>
<line x1="418.8" y1="552.5" x2="426.4" y2="552.5" stroke="#000" stroke-width="1.3"/>
<line x1="418.8" y1="561.2" x2="426.4" y2="561.2" stroke="#000" stroke-width="1.3"/>
<line x1="447.4" y1="554.2" x2="447.4" y2="532.4" stroke="#e8372a" stroke-width="1.3"/>
<line x1="443.6" y1="532.4" x2="451.2" y2="532.4" stroke="#e8372a" stroke-width="1.3"/>
<line x1="443.6" y1="554.2" x2="451.2" y2="554.2" stroke="#e8372a" stroke-width="1.3"/>
<line x1="472.6" y1="566.9" x2="472.6" y2="552.0" stroke="#000" stroke-width="1.3"/>
<line x1="468.8" y1="552.0" x2="476.4" y2="552.0" stroke="#000" stroke-width="1.3"/>
<line x1="468.8" y1="566.9" x2="476.4" y2="566.9" stroke="#000" stroke-width="1.3"/>
<line x1="497.4" y1="565.1" x2="497.4" y2="545.9" stroke="#e8372a" stroke-width="1.3"/>
<line x1="493.6" y1="545.9" x2="501.2" y2="545.9" stroke="#e8372a" stroke-width="1.3"/>
<line x1="493.6" y1="565.1" x2="501.2" y2="565.1" stroke="#e8372a" stroke-width="1.3"/>
<line x1="409.5" y1="516.7" x2="409.5" y2="569.5" stroke="#000" stroke-width="1.8"/>
<line x1="406.3" y1="568.6" x2="409.5" y2="568.6" stroke="#000" stroke-width="1.53"/>
<text x="404.40" y="572.70" font-size="12.3" textLength="6.90" lengthAdjust="spacingAndGlyphs" text-anchor="end">0</text>
<line x1="406.3" y1="546.8" x2="409.5" y2="546.8" stroke="#000" stroke-width="1.53"/>
<text x="404.40" y="550.90" font-size="12.3" textLength="6.90" lengthAdjust="spacingAndGlyphs" text-anchor="end">5</text>
<line x1="406.3" y1="525.0" x2="409.5" y2="525.0" stroke="#000" stroke-width="1.53"/>
<text x="404.40" y="529.10" font-size="12.3" textLength="13.80" lengthAdjust="spacingAndGlyphs" text-anchor="end">10</text>
<line x1="406.3" y1="557.7" x2="409.5" y2="557.7" stroke="#000" stroke-width="1.53"/>
<line x1="406.3" y1="535.9" x2="409.5" y2="535.9" stroke="#000" stroke-width="1.53"/>
<line x1="408.6" y1="568.6" x2="509.0" y2="568.6" stroke="#000" stroke-width="1.8"/>
<line x1="422.6" y1="568.6" x2="422.6" y2="572.1" stroke="#000" stroke-width="1.53"/>
<line x1="447.4" y1="568.6" x2="447.4" y2="572.1" stroke="#000" stroke-width="1.53"/>
<line x1="472.6" y1="568.6" x2="472.6" y2="572.1" stroke="#000" stroke-width="1.53"/>
<line x1="497.4" y1="568.6" x2="497.4" y2="572.1" stroke="#000" stroke-width="1.53"/>
<path d="M422.6,535.0 V525.0 H447.4 V530.0" fill="none" stroke="#222" stroke-width="0.9"/>
<text x="435.0" y="525.1" font-size="10" text-anchor="middle" font-weight="bold" letter-spacing="-0.6">**</text>
<path d="M422.6,519.4 V515.4 H472.6 V532.4" fill="none" stroke="#222" stroke-width="0.9"/>
<text x="447.6" y="512.2" font-size="8.6" text-anchor="middle" font-weight="bold">n.s.</text>
<path d="M472.6,535.4 V531.4 H497.4 V535.4" fill="none" stroke="#222" stroke-width="0.9"/>
<text x="485.0" y="528.2" font-size="8.6" text-anchor="middle" font-weight="bold">n.s.</text>
<path d="M447.4,505.0 V501.0 H497.4 V527.0" fill="none" stroke="#222" stroke-width="0.9"/>
<text x="472.4" y="497.8" font-size="8.6" text-anchor="middle" font-weight="bold">n.s.</text>
<text x="419.12" y="586.00" font-size="13.3" textLength="33.95" lengthAdjust="spacingAndGlyphs">Saline</text>
<text x="472.62" y="586.00" font-size="13.3" textLength="25.13" lengthAdjust="spacingAndGlyphs">ET-1</text>
<text x="373.40" y="585.13" font-size="13.3" textLength="89.20" lengthAdjust="spacingAndGlyphs" transform="rotate(-90 373.40 585.13)">Ascending arotic</text>
<text x="388.60" y="571.23" font-size="13.3" textLength="52.16" lengthAdjust="spacingAndGlyphs" transform="rotate(-90 388.60 571.23)">strain (%)</text>
<text x="538.69" y="467.00" font-size="13.5" textLength="6.93" lengthAdjust="spacingAndGlyphs" font-weight="bold">k</text>
<circle cx="566.0" cy="467.6" r="3.2" fill="#000"/>
<text x="576.4" y="472.0" font-size="13" font-style="italic" fill="#000" textLength="83.8" lengthAdjust="spacingAndGlyphs">Fundc1<tspan font-size="7.8" dy="-5.2">f/Y</tspan><tspan dy="5.2">Cdh5</tspan><tspan font-size="8.6" dy="-5.2">-</tspan></text>
<polygon points="566.0,482.7 562.6,488.8 569.4,488.8" fill="#e8372a"/>
<text x="577.2" y="489.0" font-size="13" font-style="italic" fill="#e8372a" textLength="86.0" lengthAdjust="spacingAndGlyphs">Fundc1<tspan font-size="7.8" dy="-5.2">f/Y</tspan><tspan dy="5.2">Cdh5</tspan><tspan font-size="8.6" dy="-5.2">+</tspan></text>
<rect x="589.0" y="551.2" width="16.0" height="17.4" fill="#bdbdbd" stroke="#000" stroke-width="1.6" />
<rect x="613.8" y="559.9" width="16.0" height="8.7" fill="#fff" stroke="#e8372a" stroke-width="1.6" />
<rect x="638.6" y="537.8" width="16.0" height="30.8" fill="#bdbdbd" stroke="#000" stroke-width="1.6" />
<rect x="663.6" y="547.6" width="16.0" height="21.0" fill="#fff" stroke="#e8372a" stroke-width="1.6" />
<circle cx="591.0" cy="543.6" r="2.6" fill="#000"/>
<circle cx="594.0" cy="556.8" r="2.6" fill="#000"/>
<circle cx="597.0" cy="551.5" r="2.6" fill="#000"/>
<circle cx="600.0" cy="542.8" r="2.6" fill="#000"/>
<circle cx="603.0" cy="551.5" r="2.6" fill="#000"/>
<circle cx="592.0" cy="555.5" r="2.6" fill="#000"/>
<circle cx="601.0" cy="561.2" r="2.6" fill="#000"/>
<circle cx="597.0" cy="560.7" r="2.6" fill="#000"/>
<polygon points="616.8,556.4 614.0,561.4 619.6,561.4" fill="#e8372a"/>
<polygon points="619.8,553.7 617.0,558.8 622.6,558.8" fill="#e8372a"/>
<polygon points="621.8,557.7 619.0,562.7 624.6,562.7" fill="#e8372a"/>
<polygon points="624.8,553.0 622.0,558.0 627.6,558.0" fill="#e8372a"/>
<polygon points="627.8,556.9 625.0,561.9 630.6,561.9" fill="#e8372a"/>
<polygon points="617.8,559.0 615.0,564.0 620.6,564.0" fill="#e8372a"/>
<polygon points="625.8,559.8 623.0,564.8 628.6,564.8" fill="#e8372a"/>
<circle cx="640.6" cy="527.8" r="2.6" fill="#000"/>
<circle cx="643.6" cy="534.4" r="2.6" fill="#000"/>
<circle cx="646.6" cy="544.9" r="2.6" fill="#000"/>
<circle cx="649.6" cy="525.2" r="2.6" fill="#000"/>
<circle cx="652.6" cy="535.7" r="2.6" fill="#000"/>
<circle cx="640.6" cy="547.6" r="2.6" fill="#000"/>
<circle cx="652.6" cy="551.5" r="2.6" fill="#000"/>
<circle cx="646.6" cy="550.2" r="2.6" fill="#000"/>
<polygon points="666.6,540.6 663.8,545.6 669.4,545.6" fill="#e8372a"/>
<polygon points="676.6,539.3 673.8,544.3 679.4,544.3" fill="#e8372a"/>
<polygon points="671.6,528.8 668.8,533.8 674.4,533.8" fill="#e8372a"/>
<polygon points="665.6,553.7 662.8,558.8 668.4,558.8" fill="#e8372a"/>
<polygon points="677.6,553.7 674.8,558.8 680.4,558.8" fill="#e8372a"/>
<polygon points="671.6,545.9 668.8,550.9 674.4,550.9" fill="#e8372a"/>
<polygon points="668.6,543.2 665.8,548.3 671.4,548.3" fill="#e8372a"/>
<line x1="597.0" y1="559.1" x2="597.0" y2="543.4" stroke="#000" stroke-width="1.3"/>
<line x1="593.2" y1="543.4" x2="600.8" y2="543.4" stroke="#000" stroke-width="1.3"/>
<line x1="593.2" y1="559.1" x2="600.8" y2="559.1" stroke="#000" stroke-width="1.3"/>
<line x1="621.8" y1="562.8" x2="621.8" y2="557.0" stroke="#e8372a" stroke-width="1.3"/>
<line x1="618.0" y1="557.0" x2="625.6" y2="557.0" stroke="#e8372a" stroke-width="1.3"/>
<line x1="618.0" y1="562.8" x2="625.6" y2="562.8" stroke="#e8372a" stroke-width="1.3"/>
<line x1="646.6" y1="549.1" x2="646.6" y2="526.5" stroke="#000" stroke-width="1.3"/>
<line x1="642.8" y1="526.5" x2="650.4" y2="526.5" stroke="#000" stroke-width="1.3"/>
<line x1="642.8" y1="549.1" x2="650.4" y2="549.1" stroke="#000" stroke-width="1.3"/>
<line x1="671.6" y1="558.6" x2="671.6" y2="536.5" stroke="#e8372a" stroke-width="1.3"/>
<line x1="667.8" y1="536.5" x2="675.4" y2="536.5" stroke="#e8372a" stroke-width="1.3"/>
<line x1="667.8" y1="558.6" x2="675.4" y2="558.6" stroke="#e8372a" stroke-width="1.3"/>
<line x1="582.0" y1="515.7" x2="582.0" y2="569.5" stroke="#000" stroke-width="1.8"/>
<line x1="578.8" y1="568.6" x2="582.0" y2="568.6" stroke="#000" stroke-width="1.53"/>
<text x="578.90" y="572.70" font-size="12.3" textLength="6.90" lengthAdjust="spacingAndGlyphs" text-anchor="end">0</text>
<line x1="578.8" y1="555.5" x2="582.0" y2="555.5" stroke="#000" stroke-width="1.53"/>
<text x="578.90" y="559.55" font-size="12.3" textLength="6.90" lengthAdjust="spacingAndGlyphs" text-anchor="end">5</text>
<line x1="578.8" y1="542.3" x2="582.0" y2="542.3" stroke="#000" stroke-width="1.53"/>
<text x="578.90" y="546.40" font-size="12.3" textLength="13.80" lengthAdjust="spacingAndGlyphs" text-anchor="end">10</text>
<line x1="578.8" y1="529.1" x2="582.0" y2="529.1" stroke="#000" stroke-width="1.53"/>
<text x="578.90" y="533.25" font-size="12.3" textLength="13.80" lengthAdjust="spacingAndGlyphs" text-anchor="end">15</text>
<line x1="578.8" y1="516.0" x2="582.0" y2="516.0" stroke="#000" stroke-width="1.53"/>
<text x="578.90" y="520.10" font-size="12.3" textLength="13.80" lengthAdjust="spacingAndGlyphs" text-anchor="end">20</text>
<line x1="581.1" y1="568.6" x2="682.4" y2="568.6" stroke="#000" stroke-width="1.8"/>
<line x1="597.0" y1="568.6" x2="597.0" y2="572.1" stroke="#000" stroke-width="1.53"/>
<line x1="621.8" y1="568.6" x2="621.8" y2="572.1" stroke="#000" stroke-width="1.53"/>
<line x1="646.6" y1="568.6" x2="646.6" y2="572.1" stroke="#000" stroke-width="1.53"/>
<line x1="671.6" y1="568.6" x2="671.6" y2="572.1" stroke="#000" stroke-width="1.53"/>
<path d="M597.0,538.6 V533.6 H621.8 V547.6" fill="none" stroke="#222" stroke-width="0.9"/>
<text x="609.4" y="532.6" font-size="10" text-anchor="middle" font-weight="bold">*</text>
<path d="M597.0,524.6 V518.6 H646.6 V523.6" fill="none" stroke="#222" stroke-width="0.9"/>
<text x="621.8" y="518.4" font-size="10" text-anchor="middle" font-weight="bold">*</text>
<path d="M646.6,522.6 V518.6 H671.6 V523.6" fill="none" stroke="#222" stroke-width="0.9"/>
<text x="659.1" y="515.4" font-size="8.6" text-anchor="middle" font-weight="bold">n.s.</text>
<path d="M621.8,509.0 V504.0 H671.6 V509.0" fill="none" stroke="#222" stroke-width="0.9"/>
<text x="646.7" y="500.8" font-size="8.6" text-anchor="middle" font-weight="bold">n.s.</text>
<text x="593.12" y="586.00" font-size="13.3" textLength="33.95" lengthAdjust="spacingAndGlyphs">Saline</text>
<text x="646.61" y="586.00" font-size="13.3" textLength="25.75" lengthAdjust="spacingAndGlyphs">ET-1</text>
<text x="547.00" y="580.91" font-size="13.3" textLength="83.36" lengthAdjust="spacingAndGlyphs" transform="rotate(-90 547.00 580.91)">PWV (mm/ms)</text>
<text x="560.50" y="578.32" font-size="13.3" textLength="72.30" lengthAdjust="spacingAndGlyphs" transform="rotate(-90 560.50 578.32)">Carotid artery</text>
<text x="0.71" y="467.60" font-size="13.5" textLength="6.48" lengthAdjust="spacingAndGlyphs" font-weight="bold">h</text>
<line x1="44.0" y1="464.0" x2="58.0" y2="464.0" stroke="#000" stroke-width="1.7"/>
<circle cx="51.0" cy="464.0" r="2.7" fill="#000"/>
<text x="63.8" y="468.0" font-size="13" font-style="italic" fill="#000" textLength="84.0" lengthAdjust="spacingAndGlyphs">Fundc1<tspan font-size="7.8" dy="-5.2">f/Y</tspan><tspan dy="5.2">Cdh5</tspan><tspan font-size="8.6" dy="-5.2">-</tspan></text>
<line x1="44.0" y1="479.6" x2="58.0" y2="479.6" stroke="#e8372a" stroke-width="1.7"/>
<polygon points="51.0,476.5 48.1,481.7 53.9,481.7" fill="#e8372a"/>
<text x="64.6" y="485.0" font-size="13" font-style="italic" fill="#e8372a" textLength="85.8" lengthAdjust="spacingAndGlyphs">Fundc1<tspan font-size="7.8" dy="-5.2">f/Y</tspan><tspan dy="5.2">Cdh5</tspan><tspan font-size="8.6" dy="-5.2">+</tspan></text>
<line x1="41.8" y1="500.4" x2="163.0" y2="500.4" stroke="#999" stroke-width="0.7" stroke-dasharray="1.2,1.2"/>
<line x1="41.8" y1="500.1" x2="41.8" y2="563.8" stroke="#000" stroke-width="1.5"/>
<line x1="38.6" y1="500.4" x2="41.8" y2="500.4" stroke="#000" stroke-width="1.275"/>
<text x="37.70" y="504.50" font-size="12.3" textLength="6.60" lengthAdjust="spacingAndGlyphs" text-anchor="end">0</text>
<line x1="38.6" y1="512.9" x2="41.8" y2="512.9" stroke="#000" stroke-width="1.275"/>
<text x="37.70" y="517.02" font-size="12.3" textLength="17.80" lengthAdjust="spacingAndGlyphs" text-anchor="end">-20</text>
<line x1="38.6" y1="525.4" x2="41.8" y2="525.4" stroke="#000" stroke-width="1.275"/>
<text x="37.70" y="529.54" font-size="12.3" textLength="17.80" lengthAdjust="spacingAndGlyphs" text-anchor="end">-40</text>
<line x1="38.6" y1="538.0" x2="41.8" y2="538.0" stroke="#000" stroke-width="1.275"/>
<text x="37.70" y="542.06" font-size="12.3" textLength="17.80" lengthAdjust="spacingAndGlyphs" text-anchor="end">-60</text>
<line x1="38.6" y1="550.5" x2="41.8" y2="550.5" stroke="#000" stroke-width="1.275"/>
<text x="37.70" y="554.58" font-size="12.3" textLength="17.80" lengthAdjust="spacingAndGlyphs" text-anchor="end">-80</text>
<line x1="38.6" y1="563.0" x2="41.8" y2="563.0" stroke="#000" stroke-width="1.275"/>
<text x="37.70" y="567.10" font-size="12.3" textLength="24.40" lengthAdjust="spacingAndGlyphs" text-anchor="end">-100</text>
<line x1="41.0" y1="563.0" x2="163.0" y2="563.0" stroke="#000" stroke-width="1.5"/>
<line x1="52.4" y1="563.0" x2="52.4" y2="566.5" stroke="#000" stroke-width="1.275"/>
<text x="52.40" y="579.00" font-size="12.3" textLength="11.40" lengthAdjust="spacingAndGlyphs" text-anchor="middle">-9</text>
<line x1="72.5" y1="563.0" x2="72.5" y2="566.5" stroke="#000" stroke-width="1.275"/>
<text x="72.52" y="579.00" font-size="12.3" textLength="11.40" lengthAdjust="spacingAndGlyphs" text-anchor="middle">-8</text>
<line x1="92.6" y1="563.0" x2="92.6" y2="566.5" stroke="#000" stroke-width="1.275"/>
<text x="92.64" y="579.00" font-size="12.3" textLength="11.40" lengthAdjust="spacingAndGlyphs" text-anchor="middle">-7</text>
<line x1="112.8" y1="563.0" x2="112.8" y2="566.5" stroke="#000" stroke-width="1.275"/>
<text x="112.76" y="579.00" font-size="12.3" textLength="11.40" lengthAdjust="spacingAndGlyphs" text-anchor="middle">-6</text>
<line x1="132.9" y1="563.0" x2="132.9" y2="566.5" stroke="#000" stroke-width="1.275"/>
<text x="132.88" y="579.00" font-size="12.3" textLength="11.40" lengthAdjust="spacingAndGlyphs" text-anchor="middle">-5</text>
<line x1="153.0" y1="563.0" x2="153.0" y2="566.5" stroke="#000" stroke-width="1.275"/>
<text x="153.00" y="579.00" font-size="12.3" textLength="11.40" lengthAdjust="spacingAndGlyphs" text-anchor="middle">-4</text>
<text x="69.47" y="592.60" font-size="13.3" textLength="71.09" lengthAdjust="spacingAndGlyphs">Ach (Log M)</text>
<text x="10.80" y="569.61" font-size="13.3" textLength="82.36" lengthAdjust="spacingAndGlyphs" transform="rotate(-90 10.80 569.61)">Relaxation (%)</text>
<line x1="72.5" y1="506.0" x2="72.5" y2="503.0" stroke="#e8372a" stroke-width="1.1"/>
<line x1="70.0" y1="503.0" x2="75.0" y2="503.0" stroke="#e8372a" stroke-width="1.1"/>
<line x1="92.6" y1="509.6" x2="92.6" y2="506.0" stroke="#e8372a" stroke-width="1.1"/>
<line x1="90.1" y1="506.0" x2="95.1" y2="506.0" stroke="#e8372a" stroke-width="1.1"/>
<line x1="112.8" y1="519.6" x2="112.8" y2="515.0" stroke="#e8372a" stroke-width="1.1"/>
<line x1="110.3" y1="515.0" x2="115.3" y2="515.0" stroke="#e8372a" stroke-width="1.1"/>
<line x1="132.9" y1="526.4" x2="132.9" y2="520.0" stroke="#e8372a" stroke-width="1.1"/>
<line x1="130.4" y1="520.0" x2="135.4" y2="520.0" stroke="#e8372a" stroke-width="1.1"/>
<line x1="153.0" y1="528.4" x2="153.0" y2="520.0" stroke="#e8372a" stroke-width="1.1"/>
<line x1="150.5" y1="520.0" x2="155.5" y2="520.0" stroke="#e8372a" stroke-width="1.1"/>
<polyline points="52.4,501.0 72.5,506.0 92.6,509.6 112.8,519.6 132.9,526.4 153.0,528.4" fill="none" stroke="#e8372a" stroke-width="1.6" stroke-linejoin="round" stroke-dasharray="4,2.2"/>
<polygon points="52.4,498.1 49.7,502.9 55.1,502.9" fill="#e8372a"/>
<polygon points="72.5,503.1 69.8,507.9 75.2,507.9" fill="#e8372a"/>
<polygon points="92.6,506.7 89.9,511.5 95.3,511.5" fill="#e8372a"/>
<polygon points="112.8,516.7 110.1,521.5 115.5,521.5" fill="#e8372a"/>
<polygon points="132.9,523.5 130.2,528.3 135.6,528.3" fill="#e8372a"/>
<polygon points="153.0,525.5 150.3,530.3 155.7,530.3" fill="#e8372a"/>
<line x1="72.5" y1="502.4" x2="72.5" y2="500.0" stroke="#000" stroke-width="1.1"/>
<line x1="70.0" y1="500.0" x2="75.0" y2="500.0" stroke="#000" stroke-width="1.1"/>
<line x1="92.6" y1="505.6" x2="92.6" y2="499.0" stroke="#000" stroke-width="1.1"/>
<line x1="90.1" y1="499.0" x2="95.1" y2="499.0" stroke="#000" stroke-width="1.1"/>
<line x1="112.8" y1="512.6" x2="112.8" y2="504.0" stroke="#000" stroke-width="1.1"/>
<line x1="110.3" y1="504.0" x2="115.3" y2="504.0" stroke="#000" stroke-width="1.1"/>
<line x1="132.9" y1="517.0" x2="132.9" y2="506.6" stroke="#000" stroke-width="1.1"/>
<line x1="130.4" y1="506.6" x2="135.4" y2="506.6" stroke="#000" stroke-width="1.1"/>
<line x1="153.0" y1="517.6" x2="153.0" y2="507.0" stroke="#000" stroke-width="1.1"/>
<line x1="150.5" y1="507.0" x2="155.5" y2="507.0" stroke="#000" stroke-width="1.1"/>
<polyline points="52.4,500.0 72.5,502.4 92.6,505.6 112.8,512.6 132.9,517.0 153.0,517.6" fill="none" stroke="#000" stroke-width="1.6" stroke-linejoin="round"/>
<circle cx="52.4" cy="500.0" r="2.5" fill="#000"/>
<circle cx="72.5" cy="502.4" r="2.5" fill="#000"/>
<circle cx="92.6" cy="505.6" r="2.5" fill="#000"/>
<circle cx="112.8" cy="512.6" r="2.5" fill="#000"/>
<circle cx="132.9" cy="517.0" r="2.5" fill="#000"/>
<circle cx="153.0" cy="517.6" r="2.5" fill="#000"/>
<line x1="111.6" y1="536.6" x2="153.0" y2="536.6" stroke="#888" stroke-width="1.4"/>
<text x="133.6" y="544.6" font-size="8.5" text-anchor="middle" font-weight="bold">n.s.</text>
<text x="176.80" y="467.60" font-size="13.5" textLength="2.72" lengthAdjust="spacingAndGlyphs" font-weight="bold">i</text>
<line x1="220.6" y1="464.0" x2="234.6" y2="464.0" stroke="#000" stroke-width="1.7"/>
<circle cx="227.6" cy="464.0" r="2.7" fill="#000"/>
<text x="240.4" y="468.0" font-size="13" font-style="italic" fill="#000" textLength="83.8" lengthAdjust="spacingAndGlyphs">Fundc1<tspan font-size="7.8" dy="-5.2">f/Y</tspan><tspan dy="5.2">Cdh5</tspan><tspan font-size="8.6" dy="-5.2">-</tspan></text>
<line x1="220.6" y1="479.6" x2="234.6" y2="479.6" stroke="#e8372a" stroke-width="1.7"/>
<polygon points="227.6,476.5 224.7,481.7 230.5,481.7" fill="#e8372a"/>
<text x="241.2" y="485.0" font-size="13" font-style="italic" fill="#e8372a" textLength="85.8" lengthAdjust="spacingAndGlyphs">Fundc1<tspan font-size="7.8" dy="-5.2">f/Y</tspan><tspan dy="5.2">Cdh5</tspan><tspan font-size="8.6" dy="-5.2">+</tspan></text>
<line x1="218.5" y1="500.4" x2="337.0" y2="500.4" stroke="#000" stroke-width="0.8" stroke-dasharray="1.2,1.5"/>
<line x1="218.5" y1="500.1" x2="218.5" y2="563.8" stroke="#000" stroke-width="1.5"/>
<line x1="215.3" y1="500.4" x2="218.5" y2="500.4" stroke="#000" stroke-width="1.275"/>
<text x="214.60" y="504.50" font-size="12.3" textLength="6.60" lengthAdjust="spacingAndGlyphs" text-anchor="end">0</text>
<line x1="215.3" y1="512.9" x2="218.5" y2="512.9" stroke="#000" stroke-width="1.275"/>
<text x="214.60" y="517.02" font-size="12.3" textLength="17.80" lengthAdjust="spacingAndGlyphs" text-anchor="end">-20</text>
<line x1="215.3" y1="525.4" x2="218.5" y2="525.4" stroke="#000" stroke-width="1.275"/>
<text x="214.60" y="529.54" font-size="12.3" textLength="17.80" lengthAdjust="spacingAndGlyphs" text-anchor="end">-40</text>
<line x1="215.3" y1="538.0" x2="218.5" y2="538.0" stroke="#000" stroke-width="1.275"/>
<text x="214.60" y="542.06" font-size="12.3" textLength="17.80" lengthAdjust="spacingAndGlyphs" text-anchor="end">-60</text>
<line x1="215.3" y1="550.5" x2="218.5" y2="550.5" stroke="#000" stroke-width="1.275"/>
<text x="214.60" y="554.58" font-size="12.3" textLength="17.80" lengthAdjust="spacingAndGlyphs" text-anchor="end">-80</text>
<line x1="215.3" y1="563.0" x2="218.5" y2="563.0" stroke="#000" stroke-width="1.275"/>
<text x="214.60" y="567.10" font-size="12.3" textLength="24.40" lengthAdjust="spacingAndGlyphs" text-anchor="end">-100</text>
<line x1="217.8" y1="563.0" x2="338.5" y2="563.0" stroke="#000" stroke-width="1.5"/>
<line x1="228.6" y1="563.0" x2="228.6" y2="566.5" stroke="#000" stroke-width="1.275"/>
<text x="228.60" y="579.00" font-size="12.3" textLength="18.20" lengthAdjust="spacingAndGlyphs" text-anchor="middle">-10</text>
<line x1="248.6" y1="563.0" x2="248.6" y2="566.5" stroke="#000" stroke-width="1.275"/>
<text x="248.60" y="579.00" font-size="12.3" textLength="11.40" lengthAdjust="spacingAndGlyphs" text-anchor="middle">-9</text>
<line x1="268.6" y1="563.0" x2="268.6" y2="566.5" stroke="#000" stroke-width="1.275"/>
<text x="268.60" y="579.00" font-size="12.3" textLength="11.40" lengthAdjust="spacingAndGlyphs" text-anchor="middle">-8</text>
<line x1="288.6" y1="563.0" x2="288.6" y2="566.5" stroke="#000" stroke-width="1.275"/>
<text x="288.60" y="579.00" font-size="12.3" textLength="11.40" lengthAdjust="spacingAndGlyphs" text-anchor="middle">-7</text>
<line x1="308.6" y1="563.0" x2="308.6" y2="566.5" stroke="#000" stroke-width="1.275"/>
<text x="308.60" y="579.00" font-size="12.3" textLength="11.40" lengthAdjust="spacingAndGlyphs" text-anchor="middle">-6</text>
<line x1="328.6" y1="563.0" x2="328.6" y2="566.5" stroke="#000" stroke-width="1.275"/>
<text x="328.60" y="579.00" font-size="12.3" textLength="11.40" lengthAdjust="spacingAndGlyphs" text-anchor="middle">-5</text>
<text x="244.72" y="592.60" font-size="13.3" textLength="73.87" lengthAdjust="spacingAndGlyphs">SNP (Log M)</text>
<text x="186.70" y="568.60" font-size="13.3" textLength="81.35" lengthAdjust="spacingAndGlyphs" transform="rotate(-90 186.70 568.60)">Relaxation (%)</text>
<line x1="248.6" y1="505.0" x2="248.6" y2="513.0" stroke="#e8372a" stroke-width="1.1"/>
<line x1="246.1" y1="505.0" x2="251.1" y2="505.0" stroke="#e8372a" stroke-width="1.1"/>
<line x1="246.1" y1="513.0" x2="251.1" y2="513.0" stroke="#e8372a" stroke-width="1.1"/>
<line x1="268.6" y1="517.0" x2="268.6" y2="531.0" stroke="#e8372a" stroke-width="1.1"/>
<line x1="266.1" y1="517.0" x2="271.1" y2="517.0" stroke="#e8372a" stroke-width="1.1"/>
<line x1="266.1" y1="531.0" x2="271.1" y2="531.0" stroke="#e8372a" stroke-width="1.1"/>
<line x1="288.6" y1="531.5" x2="288.6" y2="539.7" stroke="#e8372a" stroke-width="1.1"/>
<line x1="286.1" y1="531.5" x2="291.1" y2="531.5" stroke="#e8372a" stroke-width="1.1"/>
<line x1="286.1" y1="539.7" x2="291.1" y2="539.7" stroke="#e8372a" stroke-width="1.1"/>
<line x1="308.6" y1="537.5" x2="308.6" y2="545.3" stroke="#e8372a" stroke-width="1.1"/>
<line x1="306.1" y1="537.5" x2="311.1" y2="537.5" stroke="#e8372a" stroke-width="1.1"/>
<line x1="306.1" y1="545.3" x2="311.1" y2="545.3" stroke="#e8372a" stroke-width="1.1"/>
<line x1="328.6" y1="537.5" x2="328.6" y2="545.3" stroke="#e8372a" stroke-width="1.1"/>
<line x1="326.1" y1="537.5" x2="331.1" y2="537.5" stroke="#e8372a" stroke-width="1.1"/>
<line x1="326.1" y1="545.3" x2="331.1" y2="545.3" stroke="#e8372a" stroke-width="1.1"/>
<polyline points="228.6,501.6 248.6,509.0 268.6,524.0 288.6,535.6 308.6,541.4 328.6,541.4" fill="none" stroke="#e8372a" stroke-width="1.8" stroke-linejoin="round" stroke-dasharray="5,2.5"/>
<polygon points="228.6,498.7 225.9,503.5 231.3,503.5" fill="#e8372a"/>
<polygon points="248.6,506.1 245.9,510.9 251.3,510.9" fill="#e8372a"/>
<polygon points="268.6,521.1 265.9,525.9 271.3,525.9" fill="#e8372a"/>
<polygon points="288.6,532.7 285.9,537.5 291.3,537.5" fill="#e8372a"/>
<polygon points="308.6,538.5 305.9,543.3 311.3,543.3" fill="#e8372a"/>
<polygon points="328.6,538.5 325.9,543.3 331.3,543.3" fill="#e8372a"/>
<line x1="248.6" y1="504.0" x2="248.6" y2="502.0" stroke="#000" stroke-width="1.1"/>
<line x1="246.1" y1="502.0" x2="251.1" y2="502.0" stroke="#000" stroke-width="1.1"/>
<line x1="268.6" y1="516.6" x2="268.6" y2="505.4" stroke="#000" stroke-width="1.1"/>
<line x1="266.1" y1="505.4" x2="271.1" y2="505.4" stroke="#000" stroke-width="1.1"/>
<line x1="288.6" y1="535.0" x2="288.6" y2="528.6" stroke="#000" stroke-width="1.1"/>
<line x1="286.1" y1="528.6" x2="291.1" y2="528.6" stroke="#000" stroke-width="1.1"/>
<line x1="308.6" y1="540.0" x2="308.6" y2="535.4" stroke="#000" stroke-width="1.1"/>
<line x1="306.1" y1="535.4" x2="311.1" y2="535.4" stroke="#000" stroke-width="1.1"/>
<line x1="328.6" y1="540.0" x2="328.6" y2="536.4" stroke="#000" stroke-width="1.1"/>
<line x1="326.1" y1="536.4" x2="331.1" y2="536.4" stroke="#000" stroke-width="1.1"/>
<polyline points="228.6,500.6 248.6,504.0 268.6,516.6 288.6,535.0 308.6,540.0 328.6,540.0" fill="none" stroke="#000" stroke-width="1.8" stroke-linejoin="round"/>
<circle cx="228.6" cy="500.6" r="2.5" fill="#000"/>
<circle cx="248.6" cy="504.0" r="2.5" fill="#000"/>
<circle cx="268.6" cy="516.6" r="2.5" fill="#000"/>
<circle cx="288.6" cy="535.0" r="2.5" fill="#000"/>
<circle cx="308.6" cy="540.0" r="2.5" fill="#000"/>
<circle cx="328.6" cy="540.0" r="2.5" fill="#000"/>
<line x1="287.0" y1="549.4" x2="328.0" y2="549.4" stroke="#111" stroke-width="1.4"/>
<text x="309.0" y="557.0" font-size="8.5" text-anchor="middle" font-weight="bold">n.s.</text>
</svg>
</body></html>
